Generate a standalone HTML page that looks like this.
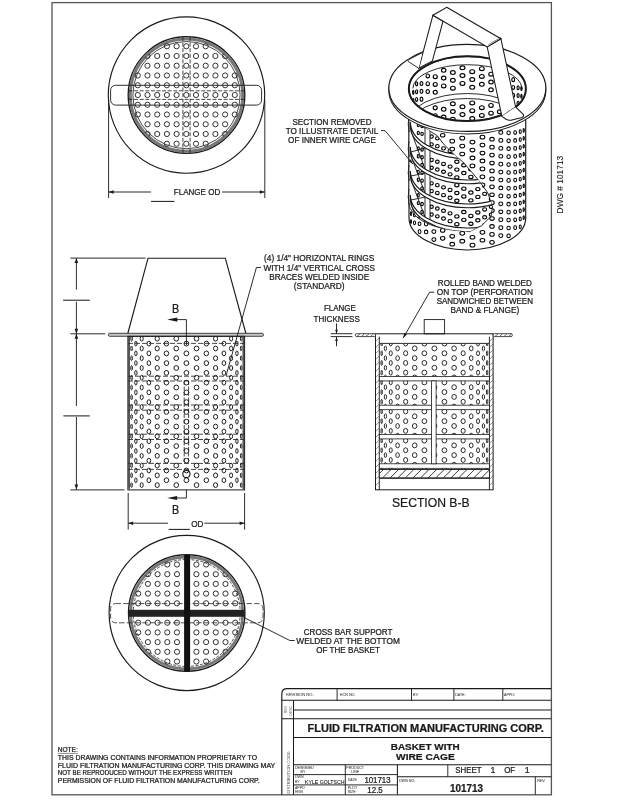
<!DOCTYPE html>
<html><head><meta charset="utf-8"><title>Basket</title>
<style>html,body{margin:0;padding:0;background:#fff;width:618px;height:800px;overflow:hidden}svg{display:block;will-change:transform}text{font-family:"Liberation Sans",sans-serif}</style>
</head><body><svg width="618" height="800" viewBox="0 0 618 800">
<rect x="52" y="2.6" width="499.4" height="792.2" fill="none" stroke="#555" stroke-width="1.3"/>
<circle cx="186.5" cy="95.1" r="78.2" stroke="#1a1a1a" stroke-width="1.15" fill="none" />
<circle cx="186.5" cy="95.1" r="58.3" stroke="#1a1a1a" stroke-width="1.38" fill="none" />
<circle cx="186.5" cy="95.1" r="56.2" stroke="#777" stroke-width="2.99" fill="none" />
<circle cx="186.5" cy="95.1" r="53.6" stroke="#1a1a1a" stroke-width="0.8" fill="none" />
<clipPath id="tvclip"><circle cx="186.5" cy="95.1" r="56"/></clipPath>
<circle cx="137.8" cy="75.5" r="2.6" stroke="#262626" stroke-width="0.94" fill="none" clip-path="url(#tvclip)"/>
<circle cx="137.8" cy="85.25" r="2.6" stroke="#262626" stroke-width="0.94" fill="none" clip-path="url(#tvclip)"/>
<circle cx="137.8" cy="95" r="2.6" stroke="#262626" stroke-width="0.94" fill="none" clip-path="url(#tvclip)"/>
<circle cx="137.8" cy="104.75" r="2.6" stroke="#262626" stroke-width="0.94" fill="none" clip-path="url(#tvclip)"/>
<circle cx="137.8" cy="114.5" r="2.6" stroke="#262626" stroke-width="0.94" fill="none" clip-path="url(#tvclip)"/>
<circle cx="147.5" cy="56" r="2.6" stroke="#262626" stroke-width="0.94" fill="none" clip-path="url(#tvclip)"/>
<circle cx="147.5" cy="65.75" r="2.6" stroke="#262626" stroke-width="0.94" fill="none" clip-path="url(#tvclip)"/>
<circle cx="147.5" cy="75.5" r="2.6" stroke="#262626" stroke-width="0.94" fill="none" clip-path="url(#tvclip)"/>
<circle cx="147.5" cy="85.25" r="2.6" stroke="#262626" stroke-width="0.94" fill="none" clip-path="url(#tvclip)"/>
<circle cx="147.5" cy="95" r="2.6" stroke="#262626" stroke-width="0.94" fill="none" clip-path="url(#tvclip)"/>
<circle cx="147.5" cy="104.75" r="2.6" stroke="#262626" stroke-width="0.94" fill="none" clip-path="url(#tvclip)"/>
<circle cx="147.5" cy="114.5" r="2.6" stroke="#262626" stroke-width="0.94" fill="none" clip-path="url(#tvclip)"/>
<circle cx="147.5" cy="124.25" r="2.6" stroke="#262626" stroke-width="0.94" fill="none" clip-path="url(#tvclip)"/>
<circle cx="147.5" cy="134" r="2.6" stroke="#262626" stroke-width="0.94" fill="none" clip-path="url(#tvclip)"/>
<circle cx="157.2" cy="56" r="2.6" stroke="#262626" stroke-width="0.94" fill="none" clip-path="url(#tvclip)"/>
<circle cx="157.2" cy="65.75" r="2.6" stroke="#262626" stroke-width="0.94" fill="none" clip-path="url(#tvclip)"/>
<circle cx="157.2" cy="75.5" r="2.6" stroke="#262626" stroke-width="0.94" fill="none" clip-path="url(#tvclip)"/>
<circle cx="157.2" cy="85.25" r="2.6" stroke="#262626" stroke-width="0.94" fill="none" clip-path="url(#tvclip)"/>
<circle cx="157.2" cy="95" r="2.6" stroke="#262626" stroke-width="0.94" fill="none" clip-path="url(#tvclip)"/>
<circle cx="157.2" cy="104.75" r="2.6" stroke="#262626" stroke-width="0.94" fill="none" clip-path="url(#tvclip)"/>
<circle cx="157.2" cy="114.5" r="2.6" stroke="#262626" stroke-width="0.94" fill="none" clip-path="url(#tvclip)"/>
<circle cx="157.2" cy="124.25" r="2.6" stroke="#262626" stroke-width="0.94" fill="none" clip-path="url(#tvclip)"/>
<circle cx="157.2" cy="134" r="2.6" stroke="#262626" stroke-width="0.94" fill="none" clip-path="url(#tvclip)"/>
<circle cx="166.9" cy="46.25" r="2.6" stroke="#262626" stroke-width="0.94" fill="none" clip-path="url(#tvclip)"/>
<circle cx="166.9" cy="56" r="2.6" stroke="#262626" stroke-width="0.94" fill="none" clip-path="url(#tvclip)"/>
<circle cx="166.9" cy="65.75" r="2.6" stroke="#262626" stroke-width="0.94" fill="none" clip-path="url(#tvclip)"/>
<circle cx="166.9" cy="75.5" r="2.6" stroke="#262626" stroke-width="0.94" fill="none" clip-path="url(#tvclip)"/>
<circle cx="166.9" cy="85.25" r="2.6" stroke="#262626" stroke-width="0.94" fill="none" clip-path="url(#tvclip)"/>
<circle cx="166.9" cy="95" r="2.6" stroke="#262626" stroke-width="0.94" fill="none" clip-path="url(#tvclip)"/>
<circle cx="166.9" cy="104.75" r="2.6" stroke="#262626" stroke-width="0.94" fill="none" clip-path="url(#tvclip)"/>
<circle cx="166.9" cy="114.5" r="2.6" stroke="#262626" stroke-width="0.94" fill="none" clip-path="url(#tvclip)"/>
<circle cx="166.9" cy="124.25" r="2.6" stroke="#262626" stroke-width="0.94" fill="none" clip-path="url(#tvclip)"/>
<circle cx="166.9" cy="134" r="2.6" stroke="#262626" stroke-width="0.94" fill="none" clip-path="url(#tvclip)"/>
<circle cx="166.9" cy="143.75" r="2.6" stroke="#262626" stroke-width="0.94" fill="none" clip-path="url(#tvclip)"/>
<circle cx="176.6" cy="46.25" r="2.6" stroke="#262626" stroke-width="0.94" fill="none" clip-path="url(#tvclip)"/>
<circle cx="176.6" cy="56" r="2.6" stroke="#262626" stroke-width="0.94" fill="none" clip-path="url(#tvclip)"/>
<circle cx="176.6" cy="65.75" r="2.6" stroke="#262626" stroke-width="0.94" fill="none" clip-path="url(#tvclip)"/>
<circle cx="176.6" cy="75.5" r="2.6" stroke="#262626" stroke-width="0.94" fill="none" clip-path="url(#tvclip)"/>
<circle cx="176.6" cy="85.25" r="2.6" stroke="#262626" stroke-width="0.94" fill="none" clip-path="url(#tvclip)"/>
<circle cx="176.6" cy="95" r="2.6" stroke="#262626" stroke-width="0.94" fill="none" clip-path="url(#tvclip)"/>
<circle cx="176.6" cy="104.75" r="2.6" stroke="#262626" stroke-width="0.94" fill="none" clip-path="url(#tvclip)"/>
<circle cx="176.6" cy="114.5" r="2.6" stroke="#262626" stroke-width="0.94" fill="none" clip-path="url(#tvclip)"/>
<circle cx="176.6" cy="124.25" r="2.6" stroke="#262626" stroke-width="0.94" fill="none" clip-path="url(#tvclip)"/>
<circle cx="176.6" cy="134" r="2.6" stroke="#262626" stroke-width="0.94" fill="none" clip-path="url(#tvclip)"/>
<circle cx="176.6" cy="143.75" r="2.6" stroke="#262626" stroke-width="0.94" fill="none" clip-path="url(#tvclip)"/>
<circle cx="186.3" cy="46.25" r="2.6" stroke="#262626" stroke-width="0.94" fill="none" clip-path="url(#tvclip)"/>
<circle cx="186.3" cy="56" r="2.6" stroke="#262626" stroke-width="0.94" fill="none" clip-path="url(#tvclip)"/>
<circle cx="186.3" cy="65.75" r="2.6" stroke="#262626" stroke-width="0.94" fill="none" clip-path="url(#tvclip)"/>
<circle cx="186.3" cy="75.5" r="2.6" stroke="#262626" stroke-width="0.94" fill="none" clip-path="url(#tvclip)"/>
<circle cx="186.3" cy="85.25" r="2.6" stroke="#262626" stroke-width="0.94" fill="none" clip-path="url(#tvclip)"/>
<circle cx="186.3" cy="95" r="2.6" stroke="#262626" stroke-width="0.94" fill="none" clip-path="url(#tvclip)"/>
<circle cx="186.3" cy="104.75" r="2.6" stroke="#262626" stroke-width="0.94" fill="none" clip-path="url(#tvclip)"/>
<circle cx="186.3" cy="114.5" r="2.6" stroke="#262626" stroke-width="0.94" fill="none" clip-path="url(#tvclip)"/>
<circle cx="186.3" cy="124.25" r="2.6" stroke="#262626" stroke-width="0.94" fill="none" clip-path="url(#tvclip)"/>
<circle cx="186.3" cy="134" r="2.6" stroke="#262626" stroke-width="0.94" fill="none" clip-path="url(#tvclip)"/>
<circle cx="186.3" cy="143.75" r="2.6" stroke="#262626" stroke-width="0.94" fill="none" clip-path="url(#tvclip)"/>
<circle cx="196" cy="46.25" r="2.6" stroke="#262626" stroke-width="0.94" fill="none" clip-path="url(#tvclip)"/>
<circle cx="196" cy="56" r="2.6" stroke="#262626" stroke-width="0.94" fill="none" clip-path="url(#tvclip)"/>
<circle cx="196" cy="65.75" r="2.6" stroke="#262626" stroke-width="0.94" fill="none" clip-path="url(#tvclip)"/>
<circle cx="196" cy="75.5" r="2.6" stroke="#262626" stroke-width="0.94" fill="none" clip-path="url(#tvclip)"/>
<circle cx="196" cy="85.25" r="2.6" stroke="#262626" stroke-width="0.94" fill="none" clip-path="url(#tvclip)"/>
<circle cx="196" cy="95" r="2.6" stroke="#262626" stroke-width="0.94" fill="none" clip-path="url(#tvclip)"/>
<circle cx="196" cy="104.75" r="2.6" stroke="#262626" stroke-width="0.94" fill="none" clip-path="url(#tvclip)"/>
<circle cx="196" cy="114.5" r="2.6" stroke="#262626" stroke-width="0.94" fill="none" clip-path="url(#tvclip)"/>
<circle cx="196" cy="124.25" r="2.6" stroke="#262626" stroke-width="0.94" fill="none" clip-path="url(#tvclip)"/>
<circle cx="196" cy="134" r="2.6" stroke="#262626" stroke-width="0.94" fill="none" clip-path="url(#tvclip)"/>
<circle cx="196" cy="143.75" r="2.6" stroke="#262626" stroke-width="0.94" fill="none" clip-path="url(#tvclip)"/>
<circle cx="205.7" cy="46.25" r="2.6" stroke="#262626" stroke-width="0.94" fill="none" clip-path="url(#tvclip)"/>
<circle cx="205.7" cy="56" r="2.6" stroke="#262626" stroke-width="0.94" fill="none" clip-path="url(#tvclip)"/>
<circle cx="205.7" cy="65.75" r="2.6" stroke="#262626" stroke-width="0.94" fill="none" clip-path="url(#tvclip)"/>
<circle cx="205.7" cy="75.5" r="2.6" stroke="#262626" stroke-width="0.94" fill="none" clip-path="url(#tvclip)"/>
<circle cx="205.7" cy="85.25" r="2.6" stroke="#262626" stroke-width="0.94" fill="none" clip-path="url(#tvclip)"/>
<circle cx="205.7" cy="95" r="2.6" stroke="#262626" stroke-width="0.94" fill="none" clip-path="url(#tvclip)"/>
<circle cx="205.7" cy="104.75" r="2.6" stroke="#262626" stroke-width="0.94" fill="none" clip-path="url(#tvclip)"/>
<circle cx="205.7" cy="114.5" r="2.6" stroke="#262626" stroke-width="0.94" fill="none" clip-path="url(#tvclip)"/>
<circle cx="205.7" cy="124.25" r="2.6" stroke="#262626" stroke-width="0.94" fill="none" clip-path="url(#tvclip)"/>
<circle cx="205.7" cy="134" r="2.6" stroke="#262626" stroke-width="0.94" fill="none" clip-path="url(#tvclip)"/>
<circle cx="205.7" cy="143.75" r="2.6" stroke="#262626" stroke-width="0.94" fill="none" clip-path="url(#tvclip)"/>
<circle cx="215.4" cy="56" r="2.6" stroke="#262626" stroke-width="0.94" fill="none" clip-path="url(#tvclip)"/>
<circle cx="215.4" cy="65.75" r="2.6" stroke="#262626" stroke-width="0.94" fill="none" clip-path="url(#tvclip)"/>
<circle cx="215.4" cy="75.5" r="2.6" stroke="#262626" stroke-width="0.94" fill="none" clip-path="url(#tvclip)"/>
<circle cx="215.4" cy="85.25" r="2.6" stroke="#262626" stroke-width="0.94" fill="none" clip-path="url(#tvclip)"/>
<circle cx="215.4" cy="95" r="2.6" stroke="#262626" stroke-width="0.94" fill="none" clip-path="url(#tvclip)"/>
<circle cx="215.4" cy="104.75" r="2.6" stroke="#262626" stroke-width="0.94" fill="none" clip-path="url(#tvclip)"/>
<circle cx="215.4" cy="114.5" r="2.6" stroke="#262626" stroke-width="0.94" fill="none" clip-path="url(#tvclip)"/>
<circle cx="215.4" cy="124.25" r="2.6" stroke="#262626" stroke-width="0.94" fill="none" clip-path="url(#tvclip)"/>
<circle cx="215.4" cy="134" r="2.6" stroke="#262626" stroke-width="0.94" fill="none" clip-path="url(#tvclip)"/>
<circle cx="225.1" cy="56" r="2.6" stroke="#262626" stroke-width="0.94" fill="none" clip-path="url(#tvclip)"/>
<circle cx="225.1" cy="65.75" r="2.6" stroke="#262626" stroke-width="0.94" fill="none" clip-path="url(#tvclip)"/>
<circle cx="225.1" cy="75.5" r="2.6" stroke="#262626" stroke-width="0.94" fill="none" clip-path="url(#tvclip)"/>
<circle cx="225.1" cy="85.25" r="2.6" stroke="#262626" stroke-width="0.94" fill="none" clip-path="url(#tvclip)"/>
<circle cx="225.1" cy="95" r="2.6" stroke="#262626" stroke-width="0.94" fill="none" clip-path="url(#tvclip)"/>
<circle cx="225.1" cy="104.75" r="2.6" stroke="#262626" stroke-width="0.94" fill="none" clip-path="url(#tvclip)"/>
<circle cx="225.1" cy="114.5" r="2.6" stroke="#262626" stroke-width="0.94" fill="none" clip-path="url(#tvclip)"/>
<circle cx="225.1" cy="124.25" r="2.6" stroke="#262626" stroke-width="0.94" fill="none" clip-path="url(#tvclip)"/>
<circle cx="225.1" cy="134" r="2.6" stroke="#262626" stroke-width="0.94" fill="none" clip-path="url(#tvclip)"/>
<circle cx="234.8" cy="75.5" r="2.6" stroke="#262626" stroke-width="0.94" fill="none" clip-path="url(#tvclip)"/>
<circle cx="234.8" cy="85.25" r="2.6" stroke="#262626" stroke-width="0.94" fill="none" clip-path="url(#tvclip)"/>
<circle cx="234.8" cy="95" r="2.6" stroke="#262626" stroke-width="0.94" fill="none" clip-path="url(#tvclip)"/>
<circle cx="234.8" cy="104.75" r="2.6" stroke="#262626" stroke-width="0.94" fill="none" clip-path="url(#tvclip)"/>
<circle cx="234.8" cy="114.5" r="2.6" stroke="#262626" stroke-width="0.94" fill="none" clip-path="url(#tvclip)"/>
<line x1="182.9" y1="37" x2="182.9" y2="153" stroke="#1a1a1a" stroke-width="0.8" stroke-dasharray="4,1.6"/>
<line x1="190.1" y1="37" x2="190.1" y2="153" stroke="#1a1a1a" stroke-width="0.8" stroke-dasharray="4,1.6"/>
<line x1="128.5" y1="90.8" x2="245" y2="90.8" stroke="#1a1a1a" stroke-width="0.8" stroke-dasharray="4,1.6"/>
<line x1="128.5" y1="99.4" x2="245" y2="99.4" stroke="#1a1a1a" stroke-width="0.8" stroke-dasharray="4,1.6"/>
<rect x="110.6" y="85.3" width="151" height="19.8" rx="5" fill="none" stroke="#1a1a1a" stroke-width="0.9"/>
<line x1="108.6" y1="100" x2="108.6" y2="198" stroke="#1a1a1a" stroke-width="0.92" />
<line x1="264.8" y1="100" x2="264.8" y2="198" stroke="#1a1a1a" stroke-width="0.92" />
<line x1="108.6" y1="192" x2="151" y2="192" stroke="#1a1a1a" stroke-width="0.92" />
<line x1="222" y1="192" x2="264.8" y2="192" stroke="#1a1a1a" stroke-width="0.92" />
<polygon points="108.6,192 113.6,190.2 113.6,193.8" fill="#1a1a1a"/>
<polygon points="264.8,192 259.8,193.8 259.8,190.2" fill="#1a1a1a"/>
<line x1="151" y1="201.4" x2="174.3" y2="201.4" stroke="#1a1a1a" stroke-width="1.03" />
<text x="173.8" y="195" font-size="8.6" text-anchor="start" font-weight="normal" fill="#1a1a1a" textLength="46.5" lengthAdjust="spacingAndGlyphs"  stroke="#1a1a1a" stroke-width="0.24">FLANGE OD</text>
<path d="M409,90 L409,218 A58.35,32 0 0 0 525.7,218 L525.7,90 Z" stroke="#1a1a1a" stroke-width="1.15" fill="#fff" />
<ellipse cx="410.99" cy="213.67" rx="0.63" ry="1.85" stroke="#000" stroke-width="1.03" fill="none" />
<ellipse cx="410.99" cy="221.6" rx="0.63" ry="1.85" stroke="#000" stroke-width="1.03" fill="none" />
<ellipse cx="414.47" cy="214.94" rx="1.04" ry="1.85" stroke="#000" stroke-width="1.03" fill="none" />
<ellipse cx="414.47" cy="222.87" rx="1.04" ry="1.85" stroke="#000" stroke-width="1.03" fill="none" />
<ellipse cx="419.55" cy="223.74" rx="1.41" ry="1.85" stroke="#000" stroke-width="1.03" fill="none" />
<ellipse cx="419.55" cy="231.67" rx="1.41" ry="1.85" stroke="#000" stroke-width="1.03" fill="none" />
<ellipse cx="426.09" cy="224.05" rx="1.73" ry="1.85" stroke="#000" stroke-width="1.03" fill="none" />
<ellipse cx="426.09" cy="231.98" rx="1.73" ry="1.85" stroke="#000" stroke-width="1.03" fill="none" />
<ellipse cx="433.88" cy="231.6" rx="2.01" ry="1.85" stroke="#000" stroke-width="1.03" fill="none" />
<ellipse cx="433.88" cy="239.53" rx="2.01" ry="1.85" stroke="#000" stroke-width="1.03" fill="none" />
<ellipse cx="442.69" cy="135.26" rx="2.22" ry="1.85" stroke="#000" stroke-width="1.03" fill="none" />
<ellipse cx="442.69" cy="230.42" rx="2.22" ry="1.85" stroke="#000" stroke-width="1.03" fill="none" />
<ellipse cx="442.69" cy="238.35" rx="2.22" ry="1.85" stroke="#000" stroke-width="1.03" fill="none" />
<ellipse cx="452.25" cy="141.13" rx="2.37" ry="1.85" stroke="#000" stroke-width="1.03" fill="none" />
<ellipse cx="452.25" cy="149.06" rx="2.37" ry="1.85" stroke="#000" stroke-width="1.03" fill="none" />
<ellipse cx="452.25" cy="236.29" rx="2.37" ry="1.85" stroke="#000" stroke-width="1.03" fill="none" />
<ellipse cx="452.25" cy="244.22" rx="2.37" ry="1.85" stroke="#000" stroke-width="1.03" fill="none" />
<ellipse cx="462.26" cy="138.14" rx="2.44" ry="1.85" stroke="#000" stroke-width="1.03" fill="none" />
<ellipse cx="462.26" cy="146.07" rx="2.44" ry="1.85" stroke="#000" stroke-width="1.03" fill="none" />
<ellipse cx="462.26" cy="154" rx="2.44" ry="1.85" stroke="#000" stroke-width="1.03" fill="none" />
<ellipse cx="462.26" cy="233.3" rx="2.44" ry="1.85" stroke="#000" stroke-width="1.03" fill="none" />
<ellipse cx="462.26" cy="241.23" rx="2.44" ry="1.85" stroke="#000" stroke-width="1.03" fill="none" />
<ellipse cx="472.44" cy="142.1" rx="2.44" ry="1.85" stroke="#000" stroke-width="1.03" fill="none" />
<ellipse cx="472.44" cy="150.03" rx="2.44" ry="1.85" stroke="#000" stroke-width="1.03" fill="none" />
<ellipse cx="472.44" cy="157.96" rx="2.44" ry="1.85" stroke="#000" stroke-width="1.03" fill="none" />
<ellipse cx="472.44" cy="165.89" rx="2.44" ry="1.85" stroke="#000" stroke-width="1.03" fill="none" />
<ellipse cx="472.44" cy="237.26" rx="2.44" ry="1.85" stroke="#000" stroke-width="1.03" fill="none" />
<ellipse cx="472.44" cy="245.19" rx="2.44" ry="1.85" stroke="#000" stroke-width="1.03" fill="none" />
<ellipse cx="482.45" cy="137.17" rx="2.37" ry="1.85" stroke="#000" stroke-width="1.03" fill="none" />
<ellipse cx="482.45" cy="145.1" rx="2.37" ry="1.85" stroke="#000" stroke-width="1.03" fill="none" />
<ellipse cx="482.45" cy="153.03" rx="2.37" ry="1.85" stroke="#000" stroke-width="1.03" fill="none" />
<ellipse cx="482.45" cy="160.96" rx="2.37" ry="1.85" stroke="#000" stroke-width="1.03" fill="none" />
<ellipse cx="482.45" cy="168.89" rx="2.37" ry="1.85" stroke="#000" stroke-width="1.03" fill="none" />
<ellipse cx="482.45" cy="176.82" rx="2.37" ry="1.85" stroke="#000" stroke-width="1.03" fill="none" />
<ellipse cx="482.45" cy="184.75" rx="2.37" ry="1.85" stroke="#000" stroke-width="1.03" fill="none" />
<ellipse cx="482.45" cy="232.33" rx="2.37" ry="1.85" stroke="#000" stroke-width="1.03" fill="none" />
<ellipse cx="482.45" cy="240.26" rx="2.37" ry="1.85" stroke="#000" stroke-width="1.03" fill="none" />
<ellipse cx="492.01" cy="139.23" rx="2.22" ry="1.85" stroke="#000" stroke-width="1.03" fill="none" />
<ellipse cx="492.01" cy="147.16" rx="2.22" ry="1.85" stroke="#000" stroke-width="1.03" fill="none" />
<ellipse cx="492.01" cy="155.09" rx="2.22" ry="1.85" stroke="#000" stroke-width="1.03" fill="none" />
<ellipse cx="492.01" cy="163.02" rx="2.22" ry="1.85" stroke="#000" stroke-width="1.03" fill="none" />
<ellipse cx="492.01" cy="170.95" rx="2.22" ry="1.85" stroke="#000" stroke-width="1.03" fill="none" />
<ellipse cx="492.01" cy="178.88" rx="2.22" ry="1.85" stroke="#000" stroke-width="1.03" fill="none" />
<ellipse cx="492.01" cy="186.81" rx="2.22" ry="1.85" stroke="#000" stroke-width="1.03" fill="none" />
<ellipse cx="492.01" cy="194.74" rx="2.22" ry="1.85" stroke="#000" stroke-width="1.03" fill="none" />
<ellipse cx="492.01" cy="202.67" rx="2.22" ry="1.85" stroke="#000" stroke-width="1.03" fill="none" />
<ellipse cx="492.01" cy="210.6" rx="2.22" ry="1.85" stroke="#000" stroke-width="1.03" fill="none" />
<ellipse cx="492.01" cy="218.53" rx="2.22" ry="1.85" stroke="#000" stroke-width="1.03" fill="none" />
<ellipse cx="492.01" cy="226.46" rx="2.22" ry="1.85" stroke="#000" stroke-width="1.03" fill="none" />
<ellipse cx="492.01" cy="234.39" rx="2.22" ry="1.85" stroke="#000" stroke-width="1.03" fill="none" />
<ellipse cx="492.01" cy="242.32" rx="2.22" ry="1.85" stroke="#000" stroke-width="1.03" fill="none" />
<ellipse cx="500.82" cy="132.47" rx="2.01" ry="1.85" stroke="#000" stroke-width="1.03" fill="none" />
<ellipse cx="500.82" cy="140.4" rx="2.01" ry="1.85" stroke="#000" stroke-width="1.03" fill="none" />
<ellipse cx="500.82" cy="148.33" rx="2.01" ry="1.85" stroke="#000" stroke-width="1.03" fill="none" />
<ellipse cx="500.82" cy="156.26" rx="2.01" ry="1.85" stroke="#000" stroke-width="1.03" fill="none" />
<ellipse cx="500.82" cy="164.19" rx="2.01" ry="1.85" stroke="#000" stroke-width="1.03" fill="none" />
<ellipse cx="500.82" cy="172.12" rx="2.01" ry="1.85" stroke="#000" stroke-width="1.03" fill="none" />
<ellipse cx="500.82" cy="180.05" rx="2.01" ry="1.85" stroke="#000" stroke-width="1.03" fill="none" />
<ellipse cx="500.82" cy="187.98" rx="2.01" ry="1.85" stroke="#000" stroke-width="1.03" fill="none" />
<ellipse cx="500.82" cy="195.91" rx="2.01" ry="1.85" stroke="#000" stroke-width="1.03" fill="none" />
<ellipse cx="500.82" cy="203.84" rx="2.01" ry="1.85" stroke="#000" stroke-width="1.03" fill="none" />
<ellipse cx="500.82" cy="211.77" rx="2.01" ry="1.85" stroke="#000" stroke-width="1.03" fill="none" />
<ellipse cx="500.82" cy="219.7" rx="2.01" ry="1.85" stroke="#000" stroke-width="1.03" fill="none" />
<ellipse cx="500.82" cy="227.63" rx="2.01" ry="1.85" stroke="#000" stroke-width="1.03" fill="none" />
<ellipse cx="500.82" cy="235.56" rx="2.01" ry="1.85" stroke="#000" stroke-width="1.03" fill="none" />
<ellipse cx="508.61" cy="132.85" rx="1.73" ry="1.85" stroke="#000" stroke-width="1.03" fill="none" />
<ellipse cx="508.61" cy="140.78" rx="1.73" ry="1.85" stroke="#000" stroke-width="1.03" fill="none" />
<ellipse cx="508.61" cy="148.71" rx="1.73" ry="1.85" stroke="#000" stroke-width="1.03" fill="none" />
<ellipse cx="508.61" cy="156.64" rx="1.73" ry="1.85" stroke="#000" stroke-width="1.03" fill="none" />
<ellipse cx="508.61" cy="164.57" rx="1.73" ry="1.85" stroke="#000" stroke-width="1.03" fill="none" />
<ellipse cx="508.61" cy="172.5" rx="1.73" ry="1.85" stroke="#000" stroke-width="1.03" fill="none" />
<ellipse cx="508.61" cy="180.43" rx="1.73" ry="1.85" stroke="#000" stroke-width="1.03" fill="none" />
<ellipse cx="508.61" cy="188.36" rx="1.73" ry="1.85" stroke="#000" stroke-width="1.03" fill="none" />
<ellipse cx="508.61" cy="196.29" rx="1.73" ry="1.85" stroke="#000" stroke-width="1.03" fill="none" />
<ellipse cx="508.61" cy="204.22" rx="1.73" ry="1.85" stroke="#000" stroke-width="1.03" fill="none" />
<ellipse cx="508.61" cy="212.15" rx="1.73" ry="1.85" stroke="#000" stroke-width="1.03" fill="none" />
<ellipse cx="508.61" cy="220.08" rx="1.73" ry="1.85" stroke="#000" stroke-width="1.03" fill="none" />
<ellipse cx="508.61" cy="228.01" rx="1.73" ry="1.85" stroke="#000" stroke-width="1.03" fill="none" />
<ellipse cx="508.61" cy="235.94" rx="1.73" ry="1.85" stroke="#000" stroke-width="1.03" fill="none" />
<ellipse cx="515.15" cy="132.54" rx="1.41" ry="1.85" stroke="#000" stroke-width="1.03" fill="none" />
<ellipse cx="515.15" cy="140.47" rx="1.41" ry="1.85" stroke="#000" stroke-width="1.03" fill="none" />
<ellipse cx="515.15" cy="148.4" rx="1.41" ry="1.85" stroke="#000" stroke-width="1.03" fill="none" />
<ellipse cx="515.15" cy="156.33" rx="1.41" ry="1.85" stroke="#000" stroke-width="1.03" fill="none" />
<ellipse cx="515.15" cy="164.26" rx="1.41" ry="1.85" stroke="#000" stroke-width="1.03" fill="none" />
<ellipse cx="515.15" cy="172.19" rx="1.41" ry="1.85" stroke="#000" stroke-width="1.03" fill="none" />
<ellipse cx="515.15" cy="180.12" rx="1.41" ry="1.85" stroke="#000" stroke-width="1.03" fill="none" />
<ellipse cx="515.15" cy="188.05" rx="1.41" ry="1.85" stroke="#000" stroke-width="1.03" fill="none" />
<ellipse cx="515.15" cy="195.98" rx="1.41" ry="1.85" stroke="#000" stroke-width="1.03" fill="none" />
<ellipse cx="515.15" cy="203.91" rx="1.41" ry="1.85" stroke="#000" stroke-width="1.03" fill="none" />
<ellipse cx="515.15" cy="211.84" rx="1.41" ry="1.85" stroke="#000" stroke-width="1.03" fill="none" />
<ellipse cx="515.15" cy="219.77" rx="1.41" ry="1.85" stroke="#000" stroke-width="1.03" fill="none" />
<ellipse cx="515.15" cy="227.7" rx="1.41" ry="1.85" stroke="#000" stroke-width="1.03" fill="none" />
<ellipse cx="520.23" cy="131.68" rx="1.04" ry="1.85" stroke="#000" stroke-width="1.03" fill="none" />
<ellipse cx="520.23" cy="139.61" rx="1.04" ry="1.85" stroke="#000" stroke-width="1.03" fill="none" />
<ellipse cx="520.23" cy="147.54" rx="1.04" ry="1.85" stroke="#000" stroke-width="1.03" fill="none" />
<ellipse cx="520.23" cy="155.47" rx="1.04" ry="1.85" stroke="#000" stroke-width="1.03" fill="none" />
<ellipse cx="520.23" cy="163.4" rx="1.04" ry="1.85" stroke="#000" stroke-width="1.03" fill="none" />
<ellipse cx="520.23" cy="171.33" rx="1.04" ry="1.85" stroke="#000" stroke-width="1.03" fill="none" />
<ellipse cx="520.23" cy="179.26" rx="1.04" ry="1.85" stroke="#000" stroke-width="1.03" fill="none" />
<ellipse cx="520.23" cy="187.19" rx="1.04" ry="1.85" stroke="#000" stroke-width="1.03" fill="none" />
<ellipse cx="520.23" cy="195.12" rx="1.04" ry="1.85" stroke="#000" stroke-width="1.03" fill="none" />
<ellipse cx="520.23" cy="203.05" rx="1.04" ry="1.85" stroke="#000" stroke-width="1.03" fill="none" />
<ellipse cx="520.23" cy="210.98" rx="1.04" ry="1.85" stroke="#000" stroke-width="1.03" fill="none" />
<ellipse cx="520.23" cy="218.91" rx="1.04" ry="1.85" stroke="#000" stroke-width="1.03" fill="none" />
<ellipse cx="520.23" cy="226.84" rx="1.04" ry="1.85" stroke="#000" stroke-width="1.03" fill="none" />
<ellipse cx="523.71" cy="130.4" rx="0.63" ry="1.85" stroke="#000" stroke-width="1.03" fill="none" />
<ellipse cx="523.71" cy="138.33" rx="0.63" ry="1.85" stroke="#000" stroke-width="1.03" fill="none" />
<ellipse cx="523.71" cy="146.26" rx="0.63" ry="1.85" stroke="#000" stroke-width="1.03" fill="none" />
<ellipse cx="523.71" cy="154.19" rx="0.63" ry="1.85" stroke="#000" stroke-width="1.03" fill="none" />
<ellipse cx="523.71" cy="162.12" rx="0.63" ry="1.85" stroke="#000" stroke-width="1.03" fill="none" />
<ellipse cx="523.71" cy="170.05" rx="0.63" ry="1.85" stroke="#000" stroke-width="1.03" fill="none" />
<ellipse cx="523.71" cy="177.98" rx="0.63" ry="1.85" stroke="#000" stroke-width="1.03" fill="none" />
<ellipse cx="523.71" cy="185.91" rx="0.63" ry="1.85" stroke="#000" stroke-width="1.03" fill="none" />
<ellipse cx="523.71" cy="193.84" rx="0.63" ry="1.85" stroke="#000" stroke-width="1.03" fill="none" />
<ellipse cx="523.71" cy="201.77" rx="0.63" ry="1.85" stroke="#000" stroke-width="1.03" fill="none" />
<ellipse cx="523.71" cy="209.7" rx="0.63" ry="1.85" stroke="#000" stroke-width="1.03" fill="none" />
<ellipse cx="523.71" cy="217.63" rx="0.63" ry="1.85" stroke="#000" stroke-width="1.03" fill="none" />
<polygon points="409,118 437,135.5 444.4,144.9 455.3,155.7 463,162 472.3,172.8 480,182 487.9,193 492.5,207 491,216.3 481.7,225.6 469.2,231.8 466,230.99 462,230.88 458,230.64 454,230.26 450,229.73 446,229.06 442,228.22 438,227.2 434,225.98 430,224.51 426,222.76 422,220.62 418,217.94 414,214.34 410,208.16 408.8,203" stroke="#1a1a1a" stroke-width="0.92" fill="#fff" />
<clipPath id="cutclip"><polygon points="409,118 437,135.5 444.4,144.9 455.3,155.7 463,162 472.3,172.8 480,182 487.9,193 492.5,207 491,216.3 481.7,225.6 469.2,231.8 466,230.99 462,230.88 458,230.64 454,230.26 450,229.73 446,229.06 442,228.22 438,227.2 434,225.98 430,224.51 426,222.76 422,220.62 418,217.94 414,214.34 410,208.16 408.8,203"/></clipPath>
<g clip-path="url(#cutclip)">
<ellipse cx="418.28" cy="39.31" rx="1.04" ry="1.65" stroke="#000" stroke-width="1.09" fill="none" />
<ellipse cx="418.28" cy="47.11" rx="1.04" ry="1.65" stroke="#000" stroke-width="1.09" fill="none" />
<ellipse cx="418.28" cy="54.91" rx="1.04" ry="1.65" stroke="#000" stroke-width="1.09" fill="none" />
<ellipse cx="418.28" cy="62.71" rx="1.04" ry="1.65" stroke="#000" stroke-width="1.09" fill="none" />
<ellipse cx="418.28" cy="70.51" rx="1.04" ry="1.65" stroke="#000" stroke-width="1.09" fill="none" />
<ellipse cx="418.28" cy="78.31" rx="1.04" ry="1.65" stroke="#000" stroke-width="1.09" fill="none" />
<ellipse cx="418.28" cy="86.11" rx="1.04" ry="1.65" stroke="#000" stroke-width="1.09" fill="none" />
<ellipse cx="418.28" cy="93.91" rx="1.04" ry="1.65" stroke="#000" stroke-width="1.09" fill="none" />
<ellipse cx="418.28" cy="101.71" rx="1.04" ry="1.65" stroke="#000" stroke-width="1.09" fill="none" />
<ellipse cx="418.28" cy="109.51" rx="1.04" ry="1.65" stroke="#000" stroke-width="1.09" fill="none" />
<ellipse cx="418.28" cy="117.31" rx="1.04" ry="1.65" stroke="#000" stroke-width="1.09" fill="none" />
<ellipse cx="418.28" cy="125.11" rx="1.04" ry="1.65" stroke="#000" stroke-width="1.09" fill="none" />
<ellipse cx="418.28" cy="132.91" rx="1.04" ry="1.65" stroke="#000" stroke-width="1.09" fill="none" />
<ellipse cx="418.28" cy="148.51" rx="1.04" ry="1.65" stroke="#000" stroke-width="1.09" fill="none" />
<ellipse cx="418.28" cy="156.31" rx="1.04" ry="1.65" stroke="#000" stroke-width="1.09" fill="none" />
<ellipse cx="418.28" cy="171.91" rx="1.04" ry="1.65" stroke="#000" stroke-width="1.09" fill="none" />
<ellipse cx="418.28" cy="179.71" rx="1.04" ry="1.65" stroke="#000" stroke-width="1.09" fill="none" />
<ellipse cx="418.28" cy="195.31" rx="1.04" ry="1.65" stroke="#000" stroke-width="1.09" fill="none" />
<ellipse cx="418.28" cy="203.11" rx="1.04" ry="1.65" stroke="#000" stroke-width="1.09" fill="none" />
<ellipse cx="418.28" cy="218.71" rx="1.04" ry="1.65" stroke="#000" stroke-width="1.09" fill="none" />
<ellipse cx="418.28" cy="226.51" rx="1.04" ry="1.65" stroke="#000" stroke-width="1.09" fill="none" />
<ellipse cx="418.28" cy="234.31" rx="1.04" ry="1.65" stroke="#000" stroke-width="1.09" fill="none" />
<ellipse cx="418.28" cy="242.11" rx="1.04" ry="1.65" stroke="#000" stroke-width="1.09" fill="none" />
<ellipse cx="418.28" cy="249.91" rx="1.04" ry="1.65" stroke="#000" stroke-width="1.09" fill="none" />
<ellipse cx="418.28" cy="257.71" rx="1.04" ry="1.65" stroke="#000" stroke-width="1.09" fill="none" />
<ellipse cx="418.28" cy="265.51" rx="1.04" ry="1.65" stroke="#000" stroke-width="1.09" fill="none" />
<ellipse cx="422.05" cy="32.44" rx="1.27" ry="1.65" stroke="#000" stroke-width="1.09" fill="none" />
<ellipse cx="422.05" cy="40.24" rx="1.27" ry="1.65" stroke="#000" stroke-width="1.09" fill="none" />
<ellipse cx="422.05" cy="48.04" rx="1.27" ry="1.65" stroke="#000" stroke-width="1.09" fill="none" />
<ellipse cx="422.05" cy="55.84" rx="1.27" ry="1.65" stroke="#000" stroke-width="1.09" fill="none" />
<ellipse cx="422.05" cy="63.64" rx="1.27" ry="1.65" stroke="#000" stroke-width="1.09" fill="none" />
<ellipse cx="422.05" cy="71.44" rx="1.27" ry="1.65" stroke="#000" stroke-width="1.09" fill="none" />
<ellipse cx="422.05" cy="79.24" rx="1.27" ry="1.65" stroke="#000" stroke-width="1.09" fill="none" />
<ellipse cx="422.05" cy="87.04" rx="1.27" ry="1.65" stroke="#000" stroke-width="1.09" fill="none" />
<ellipse cx="422.05" cy="94.84" rx="1.27" ry="1.65" stroke="#000" stroke-width="1.09" fill="none" />
<ellipse cx="422.05" cy="102.64" rx="1.27" ry="1.65" stroke="#000" stroke-width="1.09" fill="none" />
<ellipse cx="422.05" cy="110.44" rx="1.27" ry="1.65" stroke="#000" stroke-width="1.09" fill="none" />
<ellipse cx="422.05" cy="118.24" rx="1.27" ry="1.65" stroke="#000" stroke-width="1.09" fill="none" />
<ellipse cx="422.05" cy="126.04" rx="1.27" ry="1.65" stroke="#000" stroke-width="1.09" fill="none" />
<ellipse cx="422.05" cy="133.84" rx="1.27" ry="1.65" stroke="#000" stroke-width="1.09" fill="none" />
<ellipse cx="422.05" cy="149.44" rx="1.27" ry="1.65" stroke="#000" stroke-width="1.09" fill="none" />
<ellipse cx="422.05" cy="157.24" rx="1.27" ry="1.65" stroke="#000" stroke-width="1.09" fill="none" />
<ellipse cx="422.05" cy="165.04" rx="1.27" ry="1.65" stroke="#000" stroke-width="1.09" fill="none" />
<ellipse cx="422.05" cy="172.84" rx="1.27" ry="1.65" stroke="#000" stroke-width="1.09" fill="none" />
<ellipse cx="422.05" cy="180.64" rx="1.27" ry="1.65" stroke="#000" stroke-width="1.09" fill="none" />
<ellipse cx="422.05" cy="188.44" rx="1.27" ry="1.65" stroke="#000" stroke-width="1.09" fill="none" />
<ellipse cx="422.05" cy="204.04" rx="1.27" ry="1.65" stroke="#000" stroke-width="1.09" fill="none" />
<ellipse cx="422.05" cy="211.84" rx="1.27" ry="1.65" stroke="#000" stroke-width="1.09" fill="none" />
<ellipse cx="422.05" cy="227.44" rx="1.27" ry="1.65" stroke="#000" stroke-width="1.09" fill="none" />
<ellipse cx="422.05" cy="235.24" rx="1.27" ry="1.65" stroke="#000" stroke-width="1.09" fill="none" />
<ellipse cx="422.05" cy="243.04" rx="1.27" ry="1.65" stroke="#000" stroke-width="1.09" fill="none" />
<ellipse cx="422.05" cy="250.84" rx="1.27" ry="1.65" stroke="#000" stroke-width="1.09" fill="none" />
<ellipse cx="422.05" cy="258.64" rx="1.27" ry="1.65" stroke="#000" stroke-width="1.09" fill="none" />
<ellipse cx="431.65" cy="27.33" rx="1.66" ry="1.65" stroke="#000" stroke-width="1.09" fill="none" />
<ellipse cx="431.65" cy="35.13" rx="1.66" ry="1.65" stroke="#000" stroke-width="1.09" fill="none" />
<ellipse cx="431.65" cy="42.93" rx="1.66" ry="1.65" stroke="#000" stroke-width="1.09" fill="none" />
<ellipse cx="431.65" cy="50.73" rx="1.66" ry="1.65" stroke="#000" stroke-width="1.09" fill="none" />
<ellipse cx="431.65" cy="58.53" rx="1.66" ry="1.65" stroke="#000" stroke-width="1.09" fill="none" />
<ellipse cx="431.65" cy="66.33" rx="1.66" ry="1.65" stroke="#000" stroke-width="1.09" fill="none" />
<ellipse cx="431.65" cy="74.13" rx="1.66" ry="1.65" stroke="#000" stroke-width="1.09" fill="none" />
<ellipse cx="431.65" cy="81.93" rx="1.66" ry="1.65" stroke="#000" stroke-width="1.09" fill="none" />
<ellipse cx="431.65" cy="89.73" rx="1.66" ry="1.65" stroke="#000" stroke-width="1.09" fill="none" />
<ellipse cx="431.65" cy="97.53" rx="1.66" ry="1.65" stroke="#000" stroke-width="1.09" fill="none" />
<ellipse cx="431.65" cy="105.33" rx="1.66" ry="1.65" stroke="#000" stroke-width="1.09" fill="none" />
<ellipse cx="431.65" cy="113.13" rx="1.66" ry="1.65" stroke="#000" stroke-width="1.09" fill="none" />
<ellipse cx="431.65" cy="120.93" rx="1.66" ry="1.65" stroke="#000" stroke-width="1.09" fill="none" />
<ellipse cx="431.65" cy="128.73" rx="1.66" ry="1.65" stroke="#000" stroke-width="1.09" fill="none" />
<ellipse cx="431.65" cy="136.53" rx="1.66" ry="1.65" stroke="#000" stroke-width="1.09" fill="none" />
<ellipse cx="431.65" cy="144.33" rx="1.66" ry="1.65" stroke="#000" stroke-width="1.09" fill="none" />
<ellipse cx="431.65" cy="159.93" rx="1.66" ry="1.65" stroke="#000" stroke-width="1.09" fill="none" />
<ellipse cx="431.65" cy="167.73" rx="1.66" ry="1.65" stroke="#000" stroke-width="1.09" fill="none" />
<ellipse cx="431.65" cy="183.33" rx="1.66" ry="1.65" stroke="#000" stroke-width="1.09" fill="none" />
<ellipse cx="431.65" cy="191.13" rx="1.66" ry="1.65" stroke="#000" stroke-width="1.09" fill="none" />
<ellipse cx="431.65" cy="206.73" rx="1.66" ry="1.65" stroke="#000" stroke-width="1.09" fill="none" />
<ellipse cx="431.65" cy="214.53" rx="1.66" ry="1.65" stroke="#000" stroke-width="1.09" fill="none" />
<ellipse cx="431.65" cy="230.13" rx="1.66" ry="1.65" stroke="#000" stroke-width="1.09" fill="none" />
<ellipse cx="431.65" cy="237.93" rx="1.66" ry="1.65" stroke="#000" stroke-width="1.09" fill="none" />
<ellipse cx="431.65" cy="245.73" rx="1.66" ry="1.65" stroke="#000" stroke-width="1.09" fill="none" />
<ellipse cx="431.65" cy="253.53" rx="1.66" ry="1.65" stroke="#000" stroke-width="1.09" fill="none" />
<ellipse cx="437.34" cy="29.16" rx="1.82" ry="1.65" stroke="#000" stroke-width="1.09" fill="none" />
<ellipse cx="437.34" cy="36.96" rx="1.82" ry="1.65" stroke="#000" stroke-width="1.09" fill="none" />
<ellipse cx="437.34" cy="44.76" rx="1.82" ry="1.65" stroke="#000" stroke-width="1.09" fill="none" />
<ellipse cx="437.34" cy="52.56" rx="1.82" ry="1.65" stroke="#000" stroke-width="1.09" fill="none" />
<ellipse cx="437.34" cy="60.36" rx="1.82" ry="1.65" stroke="#000" stroke-width="1.09" fill="none" />
<ellipse cx="437.34" cy="68.16" rx="1.82" ry="1.65" stroke="#000" stroke-width="1.09" fill="none" />
<ellipse cx="437.34" cy="75.96" rx="1.82" ry="1.65" stroke="#000" stroke-width="1.09" fill="none" />
<ellipse cx="437.34" cy="83.76" rx="1.82" ry="1.65" stroke="#000" stroke-width="1.09" fill="none" />
<ellipse cx="437.34" cy="91.56" rx="1.82" ry="1.65" stroke="#000" stroke-width="1.09" fill="none" />
<ellipse cx="437.34" cy="99.36" rx="1.82" ry="1.65" stroke="#000" stroke-width="1.09" fill="none" />
<ellipse cx="437.34" cy="107.16" rx="1.82" ry="1.65" stroke="#000" stroke-width="1.09" fill="none" />
<ellipse cx="437.34" cy="114.96" rx="1.82" ry="1.65" stroke="#000" stroke-width="1.09" fill="none" />
<ellipse cx="437.34" cy="122.76" rx="1.82" ry="1.65" stroke="#000" stroke-width="1.09" fill="none" />
<ellipse cx="437.34" cy="130.56" rx="1.82" ry="1.65" stroke="#000" stroke-width="1.09" fill="none" />
<ellipse cx="437.34" cy="138.36" rx="1.82" ry="1.65" stroke="#000" stroke-width="1.09" fill="none" />
<ellipse cx="437.34" cy="146.16" rx="1.82" ry="1.65" stroke="#000" stroke-width="1.09" fill="none" />
<ellipse cx="437.34" cy="161.76" rx="1.82" ry="1.65" stroke="#000" stroke-width="1.09" fill="none" />
<ellipse cx="437.34" cy="169.56" rx="1.82" ry="1.65" stroke="#000" stroke-width="1.09" fill="none" />
<ellipse cx="437.34" cy="185.16" rx="1.82" ry="1.65" stroke="#000" stroke-width="1.09" fill="none" />
<ellipse cx="437.34" cy="192.96" rx="1.82" ry="1.65" stroke="#000" stroke-width="1.09" fill="none" />
<ellipse cx="437.34" cy="208.56" rx="1.82" ry="1.65" stroke="#000" stroke-width="1.09" fill="none" />
<ellipse cx="437.34" cy="216.36" rx="1.82" ry="1.65" stroke="#000" stroke-width="1.09" fill="none" />
<ellipse cx="437.34" cy="231.96" rx="1.82" ry="1.65" stroke="#000" stroke-width="1.09" fill="none" />
<ellipse cx="437.34" cy="239.76" rx="1.82" ry="1.65" stroke="#000" stroke-width="1.09" fill="none" />
<ellipse cx="437.34" cy="247.56" rx="1.82" ry="1.65" stroke="#000" stroke-width="1.09" fill="none" />
<ellipse cx="437.34" cy="255.36" rx="1.82" ry="1.65" stroke="#000" stroke-width="1.09" fill="none" />
<ellipse cx="443.51" cy="23.56" rx="1.95" ry="1.65" stroke="#000" stroke-width="1.09" fill="none" />
<ellipse cx="443.51" cy="31.36" rx="1.95" ry="1.65" stroke="#000" stroke-width="1.09" fill="none" />
<ellipse cx="443.51" cy="39.16" rx="1.95" ry="1.65" stroke="#000" stroke-width="1.09" fill="none" />
<ellipse cx="443.51" cy="46.96" rx="1.95" ry="1.65" stroke="#000" stroke-width="1.09" fill="none" />
<ellipse cx="443.51" cy="54.76" rx="1.95" ry="1.65" stroke="#000" stroke-width="1.09" fill="none" />
<ellipse cx="443.51" cy="62.56" rx="1.95" ry="1.65" stroke="#000" stroke-width="1.09" fill="none" />
<ellipse cx="443.51" cy="70.36" rx="1.95" ry="1.65" stroke="#000" stroke-width="1.09" fill="none" />
<ellipse cx="443.51" cy="78.16" rx="1.95" ry="1.65" stroke="#000" stroke-width="1.09" fill="none" />
<ellipse cx="443.51" cy="85.96" rx="1.95" ry="1.65" stroke="#000" stroke-width="1.09" fill="none" />
<ellipse cx="443.51" cy="93.76" rx="1.95" ry="1.65" stroke="#000" stroke-width="1.09" fill="none" />
<ellipse cx="443.51" cy="101.56" rx="1.95" ry="1.65" stroke="#000" stroke-width="1.09" fill="none" />
<ellipse cx="443.51" cy="109.36" rx="1.95" ry="1.65" stroke="#000" stroke-width="1.09" fill="none" />
<ellipse cx="443.51" cy="117.16" rx="1.95" ry="1.65" stroke="#000" stroke-width="1.09" fill="none" />
<ellipse cx="443.51" cy="124.96" rx="1.95" ry="1.65" stroke="#000" stroke-width="1.09" fill="none" />
<ellipse cx="443.51" cy="132.76" rx="1.95" ry="1.65" stroke="#000" stroke-width="1.09" fill="none" />
<ellipse cx="443.51" cy="140.56" rx="1.95" ry="1.65" stroke="#000" stroke-width="1.09" fill="none" />
<ellipse cx="443.51" cy="148.36" rx="1.95" ry="1.65" stroke="#000" stroke-width="1.09" fill="none" />
<ellipse cx="443.51" cy="163.96" rx="1.95" ry="1.65" stroke="#000" stroke-width="1.09" fill="none" />
<ellipse cx="443.51" cy="171.76" rx="1.95" ry="1.65" stroke="#000" stroke-width="1.09" fill="none" />
<ellipse cx="443.51" cy="187.36" rx="1.95" ry="1.65" stroke="#000" stroke-width="1.09" fill="none" />
<ellipse cx="443.51" cy="195.16" rx="1.95" ry="1.65" stroke="#000" stroke-width="1.09" fill="none" />
<ellipse cx="443.51" cy="210.76" rx="1.95" ry="1.65" stroke="#000" stroke-width="1.09" fill="none" />
<ellipse cx="443.51" cy="218.56" rx="1.95" ry="1.65" stroke="#000" stroke-width="1.09" fill="none" />
<ellipse cx="443.51" cy="234.16" rx="1.95" ry="1.65" stroke="#000" stroke-width="1.09" fill="none" />
<ellipse cx="443.51" cy="241.96" rx="1.95" ry="1.65" stroke="#000" stroke-width="1.09" fill="none" />
<ellipse cx="443.51" cy="249.76" rx="1.95" ry="1.65" stroke="#000" stroke-width="1.09" fill="none" />
<ellipse cx="450.05" cy="26.17" rx="2.05" ry="1.65" stroke="#000" stroke-width="1.09" fill="none" />
<ellipse cx="450.05" cy="33.97" rx="2.05" ry="1.65" stroke="#000" stroke-width="1.09" fill="none" />
<ellipse cx="450.05" cy="41.77" rx="2.05" ry="1.65" stroke="#000" stroke-width="1.09" fill="none" />
<ellipse cx="450.05" cy="49.57" rx="2.05" ry="1.65" stroke="#000" stroke-width="1.09" fill="none" />
<ellipse cx="450.05" cy="57.37" rx="2.05" ry="1.65" stroke="#000" stroke-width="1.09" fill="none" />
<ellipse cx="450.05" cy="65.17" rx="2.05" ry="1.65" stroke="#000" stroke-width="1.09" fill="none" />
<ellipse cx="450.05" cy="72.97" rx="2.05" ry="1.65" stroke="#000" stroke-width="1.09" fill="none" />
<ellipse cx="450.05" cy="80.77" rx="2.05" ry="1.65" stroke="#000" stroke-width="1.09" fill="none" />
<ellipse cx="450.05" cy="88.57" rx="2.05" ry="1.65" stroke="#000" stroke-width="1.09" fill="none" />
<ellipse cx="450.05" cy="96.37" rx="2.05" ry="1.65" stroke="#000" stroke-width="1.09" fill="none" />
<ellipse cx="450.05" cy="104.17" rx="2.05" ry="1.65" stroke="#000" stroke-width="1.09" fill="none" />
<ellipse cx="450.05" cy="111.97" rx="2.05" ry="1.65" stroke="#000" stroke-width="1.09" fill="none" />
<ellipse cx="450.05" cy="119.77" rx="2.05" ry="1.65" stroke="#000" stroke-width="1.09" fill="none" />
<ellipse cx="450.05" cy="127.57" rx="2.05" ry="1.65" stroke="#000" stroke-width="1.09" fill="none" />
<ellipse cx="450.05" cy="135.37" rx="2.05" ry="1.65" stroke="#000" stroke-width="1.09" fill="none" />
<ellipse cx="450.05" cy="143.17" rx="2.05" ry="1.65" stroke="#000" stroke-width="1.09" fill="none" />
<ellipse cx="450.05" cy="150.97" rx="2.05" ry="1.65" stroke="#000" stroke-width="1.09" fill="none" />
<ellipse cx="450.05" cy="166.57" rx="2.05" ry="1.65" stroke="#000" stroke-width="1.09" fill="none" />
<ellipse cx="450.05" cy="174.37" rx="2.05" ry="1.65" stroke="#000" stroke-width="1.09" fill="none" />
<ellipse cx="450.05" cy="189.97" rx="2.05" ry="1.65" stroke="#000" stroke-width="1.09" fill="none" />
<ellipse cx="450.05" cy="197.77" rx="2.05" ry="1.65" stroke="#000" stroke-width="1.09" fill="none" />
<ellipse cx="450.05" cy="213.37" rx="2.05" ry="1.65" stroke="#000" stroke-width="1.09" fill="none" />
<ellipse cx="450.05" cy="221.17" rx="2.05" ry="1.65" stroke="#000" stroke-width="1.09" fill="none" />
<ellipse cx="450.05" cy="236.77" rx="2.05" ry="1.65" stroke="#000" stroke-width="1.09" fill="none" />
<ellipse cx="450.05" cy="244.57" rx="2.05" ry="1.65" stroke="#000" stroke-width="1.09" fill="none" />
<ellipse cx="450.05" cy="252.37" rx="2.05" ry="1.65" stroke="#000" stroke-width="1.09" fill="none" />
<ellipse cx="456.86" cy="21.4" rx="2.12" ry="1.65" stroke="#000" stroke-width="1.09" fill="none" />
<ellipse cx="456.86" cy="29.2" rx="2.12" ry="1.65" stroke="#000" stroke-width="1.09" fill="none" />
<ellipse cx="456.86" cy="37" rx="2.12" ry="1.65" stroke="#000" stroke-width="1.09" fill="none" />
<ellipse cx="456.86" cy="44.8" rx="2.12" ry="1.65" stroke="#000" stroke-width="1.09" fill="none" />
<ellipse cx="456.86" cy="52.6" rx="2.12" ry="1.65" stroke="#000" stroke-width="1.09" fill="none" />
<ellipse cx="456.86" cy="60.4" rx="2.12" ry="1.65" stroke="#000" stroke-width="1.09" fill="none" />
<ellipse cx="456.86" cy="68.2" rx="2.12" ry="1.65" stroke="#000" stroke-width="1.09" fill="none" />
<ellipse cx="456.86" cy="76" rx="2.12" ry="1.65" stroke="#000" stroke-width="1.09" fill="none" />
<ellipse cx="456.86" cy="83.8" rx="2.12" ry="1.65" stroke="#000" stroke-width="1.09" fill="none" />
<ellipse cx="456.86" cy="91.6" rx="2.12" ry="1.65" stroke="#000" stroke-width="1.09" fill="none" />
<ellipse cx="456.86" cy="99.4" rx="2.12" ry="1.65" stroke="#000" stroke-width="1.09" fill="none" />
<ellipse cx="456.86" cy="107.2" rx="2.12" ry="1.65" stroke="#000" stroke-width="1.09" fill="none" />
<ellipse cx="456.86" cy="115" rx="2.12" ry="1.65" stroke="#000" stroke-width="1.09" fill="none" />
<ellipse cx="456.86" cy="122.8" rx="2.12" ry="1.65" stroke="#000" stroke-width="1.09" fill="none" />
<ellipse cx="456.86" cy="130.6" rx="2.12" ry="1.65" stroke="#000" stroke-width="1.09" fill="none" />
<ellipse cx="456.86" cy="138.4" rx="2.12" ry="1.65" stroke="#000" stroke-width="1.09" fill="none" />
<ellipse cx="456.86" cy="146.2" rx="2.12" ry="1.65" stroke="#000" stroke-width="1.09" fill="none" />
<ellipse cx="456.86" cy="161.8" rx="2.12" ry="1.65" stroke="#000" stroke-width="1.09" fill="none" />
<ellipse cx="456.86" cy="169.6" rx="2.12" ry="1.65" stroke="#000" stroke-width="1.09" fill="none" />
<ellipse cx="456.86" cy="177.4" rx="2.12" ry="1.65" stroke="#000" stroke-width="1.09" fill="none" />
<ellipse cx="456.86" cy="185.2" rx="2.12" ry="1.65" stroke="#000" stroke-width="1.09" fill="none" />
<ellipse cx="456.86" cy="193" rx="2.12" ry="1.65" stroke="#000" stroke-width="1.09" fill="none" />
<ellipse cx="456.86" cy="200.8" rx="2.12" ry="1.65" stroke="#000" stroke-width="1.09" fill="none" />
<ellipse cx="456.86" cy="216.4" rx="2.12" ry="1.65" stroke="#000" stroke-width="1.09" fill="none" />
<ellipse cx="456.86" cy="224.2" rx="2.12" ry="1.65" stroke="#000" stroke-width="1.09" fill="none" />
<ellipse cx="456.86" cy="239.8" rx="2.12" ry="1.65" stroke="#000" stroke-width="1.09" fill="none" />
<ellipse cx="456.86" cy="247.6" rx="2.12" ry="1.65" stroke="#000" stroke-width="1.09" fill="none" />
<ellipse cx="463.83" cy="24.86" rx="2.16" ry="1.65" stroke="#000" stroke-width="1.09" fill="none" />
<ellipse cx="463.83" cy="32.66" rx="2.16" ry="1.65" stroke="#000" stroke-width="1.09" fill="none" />
<ellipse cx="463.83" cy="40.46" rx="2.16" ry="1.65" stroke="#000" stroke-width="1.09" fill="none" />
<ellipse cx="463.83" cy="48.26" rx="2.16" ry="1.65" stroke="#000" stroke-width="1.09" fill="none" />
<ellipse cx="463.83" cy="56.06" rx="2.16" ry="1.65" stroke="#000" stroke-width="1.09" fill="none" />
<ellipse cx="463.83" cy="63.86" rx="2.16" ry="1.65" stroke="#000" stroke-width="1.09" fill="none" />
<ellipse cx="463.83" cy="71.66" rx="2.16" ry="1.65" stroke="#000" stroke-width="1.09" fill="none" />
<ellipse cx="463.83" cy="79.46" rx="2.16" ry="1.65" stroke="#000" stroke-width="1.09" fill="none" />
<ellipse cx="463.83" cy="87.26" rx="2.16" ry="1.65" stroke="#000" stroke-width="1.09" fill="none" />
<ellipse cx="463.83" cy="95.06" rx="2.16" ry="1.65" stroke="#000" stroke-width="1.09" fill="none" />
<ellipse cx="463.83" cy="102.86" rx="2.16" ry="1.65" stroke="#000" stroke-width="1.09" fill="none" />
<ellipse cx="463.83" cy="110.66" rx="2.16" ry="1.65" stroke="#000" stroke-width="1.09" fill="none" />
<ellipse cx="463.83" cy="118.46" rx="2.16" ry="1.65" stroke="#000" stroke-width="1.09" fill="none" />
<ellipse cx="463.83" cy="126.26" rx="2.16" ry="1.65" stroke="#000" stroke-width="1.09" fill="none" />
<ellipse cx="463.83" cy="134.06" rx="2.16" ry="1.65" stroke="#000" stroke-width="1.09" fill="none" />
<ellipse cx="463.83" cy="141.86" rx="2.16" ry="1.65" stroke="#000" stroke-width="1.09" fill="none" />
<ellipse cx="463.83" cy="149.66" rx="2.16" ry="1.65" stroke="#000" stroke-width="1.09" fill="none" />
<ellipse cx="463.83" cy="165.26" rx="2.16" ry="1.65" stroke="#000" stroke-width="1.09" fill="none" />
<ellipse cx="463.83" cy="173.06" rx="2.16" ry="1.65" stroke="#000" stroke-width="1.09" fill="none" />
<ellipse cx="463.83" cy="188.66" rx="2.16" ry="1.65" stroke="#000" stroke-width="1.09" fill="none" />
<ellipse cx="463.83" cy="196.46" rx="2.16" ry="1.65" stroke="#000" stroke-width="1.09" fill="none" />
<ellipse cx="463.83" cy="212.06" rx="2.16" ry="1.65" stroke="#000" stroke-width="1.09" fill="none" />
<ellipse cx="463.83" cy="219.86" rx="2.16" ry="1.65" stroke="#000" stroke-width="1.09" fill="none" />
<ellipse cx="463.83" cy="235.46" rx="2.16" ry="1.65" stroke="#000" stroke-width="1.09" fill="none" />
<ellipse cx="463.83" cy="243.26" rx="2.16" ry="1.65" stroke="#000" stroke-width="1.09" fill="none" />
<ellipse cx="463.83" cy="251.06" rx="2.16" ry="1.65" stroke="#000" stroke-width="1.09" fill="none" />
<ellipse cx="470.87" cy="20.96" rx="2.16" ry="1.65" stroke="#000" stroke-width="1.09" fill="none" />
<ellipse cx="470.87" cy="28.76" rx="2.16" ry="1.65" stroke="#000" stroke-width="1.09" fill="none" />
<ellipse cx="470.87" cy="36.56" rx="2.16" ry="1.65" stroke="#000" stroke-width="1.09" fill="none" />
<ellipse cx="470.87" cy="44.36" rx="2.16" ry="1.65" stroke="#000" stroke-width="1.09" fill="none" />
<ellipse cx="470.87" cy="52.16" rx="2.16" ry="1.65" stroke="#000" stroke-width="1.09" fill="none" />
<ellipse cx="470.87" cy="59.96" rx="2.16" ry="1.65" stroke="#000" stroke-width="1.09" fill="none" />
<ellipse cx="470.87" cy="67.76" rx="2.16" ry="1.65" stroke="#000" stroke-width="1.09" fill="none" />
<ellipse cx="470.87" cy="75.56" rx="2.16" ry="1.65" stroke="#000" stroke-width="1.09" fill="none" />
<ellipse cx="470.87" cy="83.36" rx="2.16" ry="1.65" stroke="#000" stroke-width="1.09" fill="none" />
<ellipse cx="470.87" cy="91.16" rx="2.16" ry="1.65" stroke="#000" stroke-width="1.09" fill="none" />
<ellipse cx="470.87" cy="98.96" rx="2.16" ry="1.65" stroke="#000" stroke-width="1.09" fill="none" />
<ellipse cx="470.87" cy="106.76" rx="2.16" ry="1.65" stroke="#000" stroke-width="1.09" fill="none" />
<ellipse cx="470.87" cy="114.56" rx="2.16" ry="1.65" stroke="#000" stroke-width="1.09" fill="none" />
<ellipse cx="470.87" cy="122.36" rx="2.16" ry="1.65" stroke="#000" stroke-width="1.09" fill="none" />
<ellipse cx="470.87" cy="130.16" rx="2.16" ry="1.65" stroke="#000" stroke-width="1.09" fill="none" />
<ellipse cx="470.87" cy="137.96" rx="2.16" ry="1.65" stroke="#000" stroke-width="1.09" fill="none" />
<ellipse cx="470.87" cy="145.76" rx="2.16" ry="1.65" stroke="#000" stroke-width="1.09" fill="none" />
<ellipse cx="470.87" cy="153.56" rx="2.16" ry="1.65" stroke="#000" stroke-width="1.09" fill="none" />
<ellipse cx="470.87" cy="161.36" rx="2.16" ry="1.65" stroke="#000" stroke-width="1.09" fill="none" />
<ellipse cx="470.87" cy="169.16" rx="2.16" ry="1.65" stroke="#000" stroke-width="1.09" fill="none" />
<ellipse cx="470.87" cy="176.96" rx="2.16" ry="1.65" stroke="#000" stroke-width="1.09" fill="none" />
<ellipse cx="470.87" cy="192.56" rx="2.16" ry="1.65" stroke="#000" stroke-width="1.09" fill="none" />
<ellipse cx="470.87" cy="200.36" rx="2.16" ry="1.65" stroke="#000" stroke-width="1.09" fill="none" />
<ellipse cx="470.87" cy="215.96" rx="2.16" ry="1.65" stroke="#000" stroke-width="1.09" fill="none" />
<ellipse cx="470.87" cy="223.76" rx="2.16" ry="1.65" stroke="#000" stroke-width="1.09" fill="none" />
<ellipse cx="470.87" cy="239.36" rx="2.16" ry="1.65" stroke="#000" stroke-width="1.09" fill="none" />
<ellipse cx="470.87" cy="247.16" rx="2.16" ry="1.65" stroke="#000" stroke-width="1.09" fill="none" />
<ellipse cx="477.84" cy="25.3" rx="2.12" ry="1.65" stroke="#000" stroke-width="1.09" fill="none" />
<ellipse cx="477.84" cy="33.1" rx="2.12" ry="1.65" stroke="#000" stroke-width="1.09" fill="none" />
<ellipse cx="477.84" cy="40.9" rx="2.12" ry="1.65" stroke="#000" stroke-width="1.09" fill="none" />
<ellipse cx="477.84" cy="48.7" rx="2.12" ry="1.65" stroke="#000" stroke-width="1.09" fill="none" />
<ellipse cx="477.84" cy="56.5" rx="2.12" ry="1.65" stroke="#000" stroke-width="1.09" fill="none" />
<ellipse cx="477.84" cy="64.3" rx="2.12" ry="1.65" stroke="#000" stroke-width="1.09" fill="none" />
<ellipse cx="477.84" cy="72.1" rx="2.12" ry="1.65" stroke="#000" stroke-width="1.09" fill="none" />
<ellipse cx="477.84" cy="79.9" rx="2.12" ry="1.65" stroke="#000" stroke-width="1.09" fill="none" />
<ellipse cx="477.84" cy="87.7" rx="2.12" ry="1.65" stroke="#000" stroke-width="1.09" fill="none" />
<ellipse cx="477.84" cy="95.5" rx="2.12" ry="1.65" stroke="#000" stroke-width="1.09" fill="none" />
<ellipse cx="477.84" cy="103.3" rx="2.12" ry="1.65" stroke="#000" stroke-width="1.09" fill="none" />
<ellipse cx="477.84" cy="111.1" rx="2.12" ry="1.65" stroke="#000" stroke-width="1.09" fill="none" />
<ellipse cx="477.84" cy="118.9" rx="2.12" ry="1.65" stroke="#000" stroke-width="1.09" fill="none" />
<ellipse cx="477.84" cy="126.7" rx="2.12" ry="1.65" stroke="#000" stroke-width="1.09" fill="none" />
<ellipse cx="477.84" cy="134.5" rx="2.12" ry="1.65" stroke="#000" stroke-width="1.09" fill="none" />
<ellipse cx="477.84" cy="142.3" rx="2.12" ry="1.65" stroke="#000" stroke-width="1.09" fill="none" />
<ellipse cx="477.84" cy="150.1" rx="2.12" ry="1.65" stroke="#000" stroke-width="1.09" fill="none" />
<ellipse cx="477.84" cy="165.7" rx="2.12" ry="1.65" stroke="#000" stroke-width="1.09" fill="none" />
<ellipse cx="477.84" cy="173.5" rx="2.12" ry="1.65" stroke="#000" stroke-width="1.09" fill="none" />
<ellipse cx="477.84" cy="189.1" rx="2.12" ry="1.65" stroke="#000" stroke-width="1.09" fill="none" />
<ellipse cx="477.84" cy="196.9" rx="2.12" ry="1.65" stroke="#000" stroke-width="1.09" fill="none" />
<ellipse cx="477.84" cy="212.5" rx="2.12" ry="1.65" stroke="#000" stroke-width="1.09" fill="none" />
<ellipse cx="477.84" cy="220.3" rx="2.12" ry="1.65" stroke="#000" stroke-width="1.09" fill="none" />
<ellipse cx="477.84" cy="235.9" rx="2.12" ry="1.65" stroke="#000" stroke-width="1.09" fill="none" />
<ellipse cx="477.84" cy="243.7" rx="2.12" ry="1.65" stroke="#000" stroke-width="1.09" fill="none" />
<ellipse cx="477.84" cy="251.5" rx="2.12" ry="1.65" stroke="#000" stroke-width="1.09" fill="none" />
<ellipse cx="484.65" cy="22.27" rx="2.05" ry="1.65" stroke="#000" stroke-width="1.09" fill="none" />
<ellipse cx="484.65" cy="30.07" rx="2.05" ry="1.65" stroke="#000" stroke-width="1.09" fill="none" />
<ellipse cx="484.65" cy="37.87" rx="2.05" ry="1.65" stroke="#000" stroke-width="1.09" fill="none" />
<ellipse cx="484.65" cy="45.67" rx="2.05" ry="1.65" stroke="#000" stroke-width="1.09" fill="none" />
<ellipse cx="484.65" cy="53.47" rx="2.05" ry="1.65" stroke="#000" stroke-width="1.09" fill="none" />
<ellipse cx="484.65" cy="61.27" rx="2.05" ry="1.65" stroke="#000" stroke-width="1.09" fill="none" />
<ellipse cx="484.65" cy="69.07" rx="2.05" ry="1.65" stroke="#000" stroke-width="1.09" fill="none" />
<ellipse cx="484.65" cy="76.87" rx="2.05" ry="1.65" stroke="#000" stroke-width="1.09" fill="none" />
<ellipse cx="484.65" cy="84.67" rx="2.05" ry="1.65" stroke="#000" stroke-width="1.09" fill="none" />
<ellipse cx="484.65" cy="92.47" rx="2.05" ry="1.65" stroke="#000" stroke-width="1.09" fill="none" />
<ellipse cx="484.65" cy="100.27" rx="2.05" ry="1.65" stroke="#000" stroke-width="1.09" fill="none" />
<ellipse cx="484.65" cy="108.07" rx="2.05" ry="1.65" stroke="#000" stroke-width="1.09" fill="none" />
<ellipse cx="484.65" cy="115.87" rx="2.05" ry="1.65" stroke="#000" stroke-width="1.09" fill="none" />
<ellipse cx="484.65" cy="123.67" rx="2.05" ry="1.65" stroke="#000" stroke-width="1.09" fill="none" />
<ellipse cx="484.65" cy="131.47" rx="2.05" ry="1.65" stroke="#000" stroke-width="1.09" fill="none" />
<ellipse cx="484.65" cy="139.27" rx="2.05" ry="1.65" stroke="#000" stroke-width="1.09" fill="none" />
<ellipse cx="484.65" cy="147.07" rx="2.05" ry="1.65" stroke="#000" stroke-width="1.09" fill="none" />
<ellipse cx="484.65" cy="162.67" rx="2.05" ry="1.65" stroke="#000" stroke-width="1.09" fill="none" />
<ellipse cx="484.65" cy="170.47" rx="2.05" ry="1.65" stroke="#000" stroke-width="1.09" fill="none" />
<ellipse cx="484.65" cy="186.07" rx="2.05" ry="1.65" stroke="#000" stroke-width="1.09" fill="none" />
<ellipse cx="484.65" cy="193.87" rx="2.05" ry="1.65" stroke="#000" stroke-width="1.09" fill="none" />
<ellipse cx="484.65" cy="209.47" rx="2.05" ry="1.65" stroke="#000" stroke-width="1.09" fill="none" />
<ellipse cx="484.65" cy="217.27" rx="2.05" ry="1.65" stroke="#000" stroke-width="1.09" fill="none" />
<ellipse cx="484.65" cy="225.07" rx="2.05" ry="1.65" stroke="#000" stroke-width="1.09" fill="none" />
<ellipse cx="484.65" cy="232.87" rx="2.05" ry="1.65" stroke="#000" stroke-width="1.09" fill="none" />
<ellipse cx="484.65" cy="240.67" rx="2.05" ry="1.65" stroke="#000" stroke-width="1.09" fill="none" />
<ellipse cx="484.65" cy="248.47" rx="2.05" ry="1.65" stroke="#000" stroke-width="1.09" fill="none" />
<ellipse cx="491.19" cy="27.46" rx="1.95" ry="1.65" stroke="#000" stroke-width="1.09" fill="none" />
<ellipse cx="491.19" cy="35.26" rx="1.95" ry="1.65" stroke="#000" stroke-width="1.09" fill="none" />
<ellipse cx="491.19" cy="43.06" rx="1.95" ry="1.65" stroke="#000" stroke-width="1.09" fill="none" />
<ellipse cx="491.19" cy="50.86" rx="1.95" ry="1.65" stroke="#000" stroke-width="1.09" fill="none" />
<ellipse cx="491.19" cy="58.66" rx="1.95" ry="1.65" stroke="#000" stroke-width="1.09" fill="none" />
<ellipse cx="491.19" cy="66.46" rx="1.95" ry="1.65" stroke="#000" stroke-width="1.09" fill="none" />
<ellipse cx="491.19" cy="74.26" rx="1.95" ry="1.65" stroke="#000" stroke-width="1.09" fill="none" />
<ellipse cx="491.19" cy="82.06" rx="1.95" ry="1.65" stroke="#000" stroke-width="1.09" fill="none" />
<ellipse cx="491.19" cy="89.86" rx="1.95" ry="1.65" stroke="#000" stroke-width="1.09" fill="none" />
<ellipse cx="491.19" cy="97.66" rx="1.95" ry="1.65" stroke="#000" stroke-width="1.09" fill="none" />
<ellipse cx="491.19" cy="105.46" rx="1.95" ry="1.65" stroke="#000" stroke-width="1.09" fill="none" />
<ellipse cx="491.19" cy="113.26" rx="1.95" ry="1.65" stroke="#000" stroke-width="1.09" fill="none" />
<ellipse cx="491.19" cy="121.06" rx="1.95" ry="1.65" stroke="#000" stroke-width="1.09" fill="none" />
<ellipse cx="491.19" cy="128.86" rx="1.95" ry="1.65" stroke="#000" stroke-width="1.09" fill="none" />
<ellipse cx="491.19" cy="136.66" rx="1.95" ry="1.65" stroke="#000" stroke-width="1.09" fill="none" />
<ellipse cx="491.19" cy="144.46" rx="1.95" ry="1.65" stroke="#000" stroke-width="1.09" fill="none" />
<ellipse cx="491.19" cy="160.06" rx="1.95" ry="1.65" stroke="#000" stroke-width="1.09" fill="none" />
<ellipse cx="491.19" cy="167.86" rx="1.95" ry="1.65" stroke="#000" stroke-width="1.09" fill="none" />
<ellipse cx="491.19" cy="175.66" rx="1.95" ry="1.65" stroke="#000" stroke-width="1.09" fill="none" />
<ellipse cx="491.19" cy="183.46" rx="1.95" ry="1.65" stroke="#000" stroke-width="1.09" fill="none" />
<ellipse cx="491.19" cy="191.26" rx="1.95" ry="1.65" stroke="#000" stroke-width="1.09" fill="none" />
<ellipse cx="491.19" cy="199.06" rx="1.95" ry="1.65" stroke="#000" stroke-width="1.09" fill="none" />
<ellipse cx="491.19" cy="206.86" rx="1.95" ry="1.65" stroke="#000" stroke-width="1.09" fill="none" />
<ellipse cx="491.19" cy="214.66" rx="1.95" ry="1.65" stroke="#000" stroke-width="1.09" fill="none" />
<ellipse cx="491.19" cy="222.46" rx="1.95" ry="1.65" stroke="#000" stroke-width="1.09" fill="none" />
<ellipse cx="491.19" cy="238.06" rx="1.95" ry="1.65" stroke="#000" stroke-width="1.09" fill="none" />
<ellipse cx="491.19" cy="245.86" rx="1.95" ry="1.65" stroke="#000" stroke-width="1.09" fill="none" />
<ellipse cx="491.19" cy="253.66" rx="1.95" ry="1.65" stroke="#000" stroke-width="1.09" fill="none" />
<ellipse cx="497.36" cy="25.26" rx="1.82" ry="1.65" stroke="#000" stroke-width="1.09" fill="none" />
<ellipse cx="497.36" cy="33.06" rx="1.82" ry="1.65" stroke="#000" stroke-width="1.09" fill="none" />
<ellipse cx="497.36" cy="40.86" rx="1.82" ry="1.65" stroke="#000" stroke-width="1.09" fill="none" />
<ellipse cx="497.36" cy="48.66" rx="1.82" ry="1.65" stroke="#000" stroke-width="1.09" fill="none" />
<ellipse cx="497.36" cy="56.46" rx="1.82" ry="1.65" stroke="#000" stroke-width="1.09" fill="none" />
<ellipse cx="497.36" cy="64.26" rx="1.82" ry="1.65" stroke="#000" stroke-width="1.09" fill="none" />
<ellipse cx="497.36" cy="72.06" rx="1.82" ry="1.65" stroke="#000" stroke-width="1.09" fill="none" />
<ellipse cx="497.36" cy="79.86" rx="1.82" ry="1.65" stroke="#000" stroke-width="1.09" fill="none" />
<ellipse cx="497.36" cy="87.66" rx="1.82" ry="1.65" stroke="#000" stroke-width="1.09" fill="none" />
<ellipse cx="497.36" cy="95.46" rx="1.82" ry="1.65" stroke="#000" stroke-width="1.09" fill="none" />
<ellipse cx="497.36" cy="103.26" rx="1.82" ry="1.65" stroke="#000" stroke-width="1.09" fill="none" />
<ellipse cx="497.36" cy="111.06" rx="1.82" ry="1.65" stroke="#000" stroke-width="1.09" fill="none" />
<ellipse cx="497.36" cy="118.86" rx="1.82" ry="1.65" stroke="#000" stroke-width="1.09" fill="none" />
<ellipse cx="497.36" cy="126.66" rx="1.82" ry="1.65" stroke="#000" stroke-width="1.09" fill="none" />
<ellipse cx="497.36" cy="134.46" rx="1.82" ry="1.65" stroke="#000" stroke-width="1.09" fill="none" />
<ellipse cx="497.36" cy="142.26" rx="1.82" ry="1.65" stroke="#000" stroke-width="1.09" fill="none" />
<ellipse cx="497.36" cy="157.86" rx="1.82" ry="1.65" stroke="#000" stroke-width="1.09" fill="none" />
<ellipse cx="497.36" cy="165.66" rx="1.82" ry="1.65" stroke="#000" stroke-width="1.09" fill="none" />
<ellipse cx="497.36" cy="173.46" rx="1.82" ry="1.65" stroke="#000" stroke-width="1.09" fill="none" />
<ellipse cx="497.36" cy="181.26" rx="1.82" ry="1.65" stroke="#000" stroke-width="1.09" fill="none" />
<ellipse cx="497.36" cy="189.06" rx="1.82" ry="1.65" stroke="#000" stroke-width="1.09" fill="none" />
<ellipse cx="497.36" cy="196.86" rx="1.82" ry="1.65" stroke="#000" stroke-width="1.09" fill="none" />
<ellipse cx="497.36" cy="204.66" rx="1.82" ry="1.65" stroke="#000" stroke-width="1.09" fill="none" />
<ellipse cx="497.36" cy="212.46" rx="1.82" ry="1.65" stroke="#000" stroke-width="1.09" fill="none" />
<ellipse cx="497.36" cy="220.26" rx="1.82" ry="1.65" stroke="#000" stroke-width="1.09" fill="none" />
<ellipse cx="497.36" cy="235.86" rx="1.82" ry="1.65" stroke="#000" stroke-width="1.09" fill="none" />
<ellipse cx="497.36" cy="243.66" rx="1.82" ry="1.65" stroke="#000" stroke-width="1.09" fill="none" />
<ellipse cx="497.36" cy="251.46" rx="1.82" ry="1.65" stroke="#000" stroke-width="1.09" fill="none" />
<line x1="411" y1="151.97" x2="425" y2="148.09" stroke="#1a1a1a" stroke-width="0.92" />
<line x1="411" y1="130.97" x2="425" y2="169.09" stroke="#1a1a1a" stroke-width="0.92" />
<line x1="411" y1="175.97" x2="425" y2="173.09" stroke="#1a1a1a" stroke-width="0.92" />
<line x1="411" y1="155.97" x2="425" y2="193.09" stroke="#1a1a1a" stroke-width="0.92" />
<line x1="411" y1="199.97" x2="425" y2="197.09" stroke="#1a1a1a" stroke-width="0.92" />
<line x1="411" y1="179.97" x2="425" y2="217.09" stroke="#1a1a1a" stroke-width="0.92" />
<line x1="411" y1="225.97" x2="425" y2="221.09" stroke="#1a1a1a" stroke-width="0.92" />
<line x1="411" y1="203.97" x2="425" y2="243.09" stroke="#1a1a1a" stroke-width="0.92" />
<rect x="425" y="128" width="5" height="95" fill="#fff" stroke="#1a1a1a" stroke-width="0.9"/>
<path d="M410.35,122 A57,33 0 0 0 524.35,122 L524.35,125.8 A57,33 0 0 1 410.35,125.8 Z" stroke="#1a1a1a" stroke-width="1.15" fill="#fff" />
<path d="M410.35,147 A57,33 0 0 0 524.35,147 L524.35,150.8 A57,33 0 0 1 410.35,150.8 Z" stroke="#1a1a1a" stroke-width="1.15" fill="#fff" />
<path d="M410.35,171 A57,33 0 0 0 524.35,171 L524.35,174.8 A57,33 0 0 1 410.35,174.8 Z" stroke="#1a1a1a" stroke-width="1.15" fill="#fff" />
<path d="M410.35,195 A57,33 0 0 0 524.35,195 L524.35,198.8 A57,33 0 0 1 410.35,198.8 Z" stroke="#1a1a1a" stroke-width="1.15" fill="#fff" />
</g>
<path d="M409,116 Q407.2,124 409.3,132" stroke="#1a1a1a" stroke-width="0.8" fill="none" />
<path d="M409,141 Q407.2,149 409.3,157" stroke="#1a1a1a" stroke-width="0.8" fill="none" />
<path d="M409,165 Q407.2,173 409.3,181" stroke="#1a1a1a" stroke-width="0.8" fill="none" />
<path d="M409,189 Q407.2,197 409.3,205" stroke="#1a1a1a" stroke-width="0.8" fill="none" />
<ellipse cx="467.35" cy="90.4" rx="78.5" ry="43.5" stroke="#1a1a1a" stroke-width="1.03" fill="#fff" />
<ellipse cx="467.35" cy="87.9" rx="78.5" ry="43.5" stroke="#1a1a1a" stroke-width="1.15" fill="#fff" />
<ellipse cx="467.35" cy="88.65" rx="58.5" ry="32.35" stroke="#1a1a1a" stroke-width="1.15" fill="#fff" />
<clipPath id="openclip"><ellipse cx="467.35" cy="88.65" rx="58" ry="31.8"/></clipPath>
<g clip-path="url(#openclip)">
<path d="M412.85,88.5 A54.5,23.8 0 0 1 521.85,88.5" stroke="#1a1a1a" stroke-width="0.92" fill="none" />
<ellipse cx="413.26" cy="92.35" rx="0.64" ry="1.95" stroke="#000" stroke-width="1.15" fill="none" />
<ellipse cx="413.26" cy="100.15" rx="0.64" ry="1.95" stroke="#000" stroke-width="1.15" fill="none" />
<ellipse cx="413.26" cy="107.95" rx="0.64" ry="1.95" stroke="#000" stroke-width="1.15" fill="none" />
<ellipse cx="413.26" cy="123.55" rx="0.64" ry="1.95" stroke="#000" stroke-width="1.15" fill="none" />
<ellipse cx="413.26" cy="131.35" rx="0.64" ry="1.95" stroke="#000" stroke-width="1.15" fill="none" />
<ellipse cx="413.26" cy="139.15" rx="0.64" ry="1.95" stroke="#000" stroke-width="1.15" fill="none" />
<ellipse cx="413.26" cy="146.95" rx="0.64" ry="1.95" stroke="#000" stroke-width="1.15" fill="none" />
<ellipse cx="416.6" cy="83.87" rx="1.05" ry="1.95" stroke="#000" stroke-width="1.15" fill="none" />
<ellipse cx="416.6" cy="91.67" rx="1.05" ry="1.95" stroke="#000" stroke-width="1.15" fill="none" />
<ellipse cx="416.6" cy="99.47" rx="1.05" ry="1.95" stroke="#000" stroke-width="1.15" fill="none" />
<ellipse cx="416.6" cy="122.87" rx="1.05" ry="1.95" stroke="#000" stroke-width="1.15" fill="none" />
<ellipse cx="416.6" cy="130.67" rx="1.05" ry="1.95" stroke="#000" stroke-width="1.15" fill="none" />
<ellipse cx="416.6" cy="138.47" rx="1.05" ry="1.95" stroke="#000" stroke-width="1.15" fill="none" />
<ellipse cx="421.48" cy="83.54" rx="1.42" ry="1.95" stroke="#000" stroke-width="1.15" fill="none" />
<ellipse cx="421.48" cy="91.34" rx="1.42" ry="1.95" stroke="#000" stroke-width="1.15" fill="none" />
<ellipse cx="421.48" cy="99.14" rx="1.42" ry="1.95" stroke="#000" stroke-width="1.15" fill="none" />
<ellipse cx="421.48" cy="114.74" rx="1.42" ry="1.95" stroke="#000" stroke-width="1.15" fill="none" />
<ellipse cx="421.48" cy="122.54" rx="1.42" ry="1.95" stroke="#000" stroke-width="1.15" fill="none" />
<ellipse cx="421.48" cy="130.34" rx="1.42" ry="1.95" stroke="#000" stroke-width="1.15" fill="none" />
<ellipse cx="421.48" cy="138.14" rx="1.42" ry="1.95" stroke="#000" stroke-width="1.15" fill="none" />
<ellipse cx="427.75" cy="75.9" rx="1.75" ry="1.95" stroke="#000" stroke-width="1.15" fill="none" />
<ellipse cx="427.75" cy="83.7" rx="1.75" ry="1.95" stroke="#000" stroke-width="1.15" fill="none" />
<ellipse cx="427.75" cy="91.5" rx="1.75" ry="1.95" stroke="#000" stroke-width="1.15" fill="none" />
<ellipse cx="427.75" cy="114.9" rx="1.75" ry="1.95" stroke="#000" stroke-width="1.15" fill="none" />
<ellipse cx="427.75" cy="122.7" rx="1.75" ry="1.95" stroke="#000" stroke-width="1.15" fill="none" />
<ellipse cx="427.75" cy="130.5" rx="1.75" ry="1.95" stroke="#000" stroke-width="1.15" fill="none" />
<ellipse cx="435.23" cy="76.66" rx="2.03" ry="1.95" stroke="#000" stroke-width="1.15" fill="none" />
<ellipse cx="435.23" cy="84.46" rx="2.03" ry="1.95" stroke="#000" stroke-width="1.15" fill="none" />
<ellipse cx="435.23" cy="92.26" rx="2.03" ry="1.95" stroke="#000" stroke-width="1.15" fill="none" />
<ellipse cx="435.23" cy="107.86" rx="2.03" ry="1.95" stroke="#000" stroke-width="1.15" fill="none" />
<ellipse cx="435.23" cy="115.66" rx="2.03" ry="1.95" stroke="#000" stroke-width="1.15" fill="none" />
<ellipse cx="435.23" cy="123.46" rx="2.03" ry="1.95" stroke="#000" stroke-width="1.15" fill="none" />
<ellipse cx="435.23" cy="131.26" rx="2.03" ry="1.95" stroke="#000" stroke-width="1.15" fill="none" />
<ellipse cx="443.68" cy="70.32" rx="2.24" ry="1.95" stroke="#000" stroke-width="1.15" fill="none" />
<ellipse cx="443.68" cy="78.12" rx="2.24" ry="1.95" stroke="#000" stroke-width="1.15" fill="none" />
<ellipse cx="443.68" cy="85.92" rx="2.24" ry="1.95" stroke="#000" stroke-width="1.15" fill="none" />
<ellipse cx="443.68" cy="109.32" rx="2.24" ry="1.95" stroke="#000" stroke-width="1.15" fill="none" />
<ellipse cx="443.68" cy="117.12" rx="2.24" ry="1.95" stroke="#000" stroke-width="1.15" fill="none" />
<ellipse cx="443.68" cy="124.92" rx="2.24" ry="1.95" stroke="#000" stroke-width="1.15" fill="none" />
<ellipse cx="452.86" cy="72.55" rx="2.39" ry="1.95" stroke="#000" stroke-width="1.15" fill="none" />
<ellipse cx="452.86" cy="80.35" rx="2.39" ry="1.95" stroke="#000" stroke-width="1.15" fill="none" />
<ellipse cx="452.86" cy="88.15" rx="2.39" ry="1.95" stroke="#000" stroke-width="1.15" fill="none" />
<ellipse cx="452.86" cy="103.75" rx="2.39" ry="1.95" stroke="#000" stroke-width="1.15" fill="none" />
<ellipse cx="452.86" cy="111.55" rx="2.39" ry="1.95" stroke="#000" stroke-width="1.15" fill="none" />
<ellipse cx="452.86" cy="119.35" rx="2.39" ry="1.95" stroke="#000" stroke-width="1.15" fill="none" />
<ellipse cx="452.86" cy="127.15" rx="2.39" ry="1.95" stroke="#000" stroke-width="1.15" fill="none" />
<ellipse cx="462.47" cy="67.81" rx="2.47" ry="1.95" stroke="#000" stroke-width="1.15" fill="none" />
<ellipse cx="462.47" cy="75.61" rx="2.47" ry="1.95" stroke="#000" stroke-width="1.15" fill="none" />
<ellipse cx="462.47" cy="83.41" rx="2.47" ry="1.95" stroke="#000" stroke-width="1.15" fill="none" />
<ellipse cx="462.47" cy="106.81" rx="2.47" ry="1.95" stroke="#000" stroke-width="1.15" fill="none" />
<ellipse cx="462.47" cy="114.61" rx="2.47" ry="1.95" stroke="#000" stroke-width="1.15" fill="none" />
<ellipse cx="462.47" cy="122.41" rx="2.47" ry="1.95" stroke="#000" stroke-width="1.15" fill="none" />
<ellipse cx="472.23" cy="71.71" rx="2.47" ry="1.95" stroke="#000" stroke-width="1.15" fill="none" />
<ellipse cx="472.23" cy="79.51" rx="2.47" ry="1.95" stroke="#000" stroke-width="1.15" fill="none" />
<ellipse cx="472.23" cy="87.31" rx="2.47" ry="1.95" stroke="#000" stroke-width="1.15" fill="none" />
<ellipse cx="472.23" cy="102.91" rx="2.47" ry="1.95" stroke="#000" stroke-width="1.15" fill="none" />
<ellipse cx="472.23" cy="110.71" rx="2.47" ry="1.95" stroke="#000" stroke-width="1.15" fill="none" />
<ellipse cx="472.23" cy="118.51" rx="2.47" ry="1.95" stroke="#000" stroke-width="1.15" fill="none" />
<ellipse cx="472.23" cy="126.31" rx="2.47" ry="1.95" stroke="#000" stroke-width="1.15" fill="none" />
<ellipse cx="481.84" cy="68.65" rx="2.39" ry="1.95" stroke="#000" stroke-width="1.15" fill="none" />
<ellipse cx="481.84" cy="76.45" rx="2.39" ry="1.95" stroke="#000" stroke-width="1.15" fill="none" />
<ellipse cx="481.84" cy="84.25" rx="2.39" ry="1.95" stroke="#000" stroke-width="1.15" fill="none" />
<ellipse cx="481.84" cy="107.65" rx="2.39" ry="1.95" stroke="#000" stroke-width="1.15" fill="none" />
<ellipse cx="481.84" cy="115.45" rx="2.39" ry="1.95" stroke="#000" stroke-width="1.15" fill="none" />
<ellipse cx="481.84" cy="123.25" rx="2.39" ry="1.95" stroke="#000" stroke-width="1.15" fill="none" />
<ellipse cx="491.02" cy="74.22" rx="2.24" ry="1.95" stroke="#000" stroke-width="1.15" fill="none" />
<ellipse cx="491.02" cy="82.02" rx="2.24" ry="1.95" stroke="#000" stroke-width="1.15" fill="none" />
<ellipse cx="491.02" cy="89.82" rx="2.24" ry="1.95" stroke="#000" stroke-width="1.15" fill="none" />
<ellipse cx="491.02" cy="105.42" rx="2.24" ry="1.95" stroke="#000" stroke-width="1.15" fill="none" />
<ellipse cx="491.02" cy="113.22" rx="2.24" ry="1.95" stroke="#000" stroke-width="1.15" fill="none" />
<ellipse cx="491.02" cy="121.02" rx="2.24" ry="1.95" stroke="#000" stroke-width="1.15" fill="none" />
<ellipse cx="491.02" cy="128.82" rx="2.24" ry="1.95" stroke="#000" stroke-width="1.15" fill="none" />
<ellipse cx="499.47" cy="72.76" rx="2.03" ry="1.95" stroke="#000" stroke-width="1.15" fill="none" />
<ellipse cx="499.47" cy="80.56" rx="2.03" ry="1.95" stroke="#000" stroke-width="1.15" fill="none" />
<ellipse cx="499.47" cy="88.36" rx="2.03" ry="1.95" stroke="#000" stroke-width="1.15" fill="none" />
<ellipse cx="499.47" cy="111.76" rx="2.03" ry="1.95" stroke="#000" stroke-width="1.15" fill="none" />
<ellipse cx="499.47" cy="119.56" rx="2.03" ry="1.95" stroke="#000" stroke-width="1.15" fill="none" />
<ellipse cx="499.47" cy="127.36" rx="2.03" ry="1.95" stroke="#000" stroke-width="1.15" fill="none" />
<ellipse cx="506.95" cy="79.8" rx="1.75" ry="1.95" stroke="#000" stroke-width="1.15" fill="none" />
<ellipse cx="506.95" cy="87.6" rx="1.75" ry="1.95" stroke="#000" stroke-width="1.15" fill="none" />
<ellipse cx="506.95" cy="95.4" rx="1.75" ry="1.95" stroke="#000" stroke-width="1.15" fill="none" />
<ellipse cx="506.95" cy="111" rx="1.75" ry="1.95" stroke="#000" stroke-width="1.15" fill="none" />
<ellipse cx="506.95" cy="118.8" rx="1.75" ry="1.95" stroke="#000" stroke-width="1.15" fill="none" />
<ellipse cx="506.95" cy="126.6" rx="1.75" ry="1.95" stroke="#000" stroke-width="1.15" fill="none" />
<ellipse cx="506.95" cy="134.4" rx="1.75" ry="1.95" stroke="#000" stroke-width="1.15" fill="none" />
<ellipse cx="513.22" cy="79.64" rx="1.42" ry="1.95" stroke="#000" stroke-width="1.15" fill="none" />
<ellipse cx="513.22" cy="87.44" rx="1.42" ry="1.95" stroke="#000" stroke-width="1.15" fill="none" />
<ellipse cx="513.22" cy="95.24" rx="1.42" ry="1.95" stroke="#000" stroke-width="1.15" fill="none" />
<ellipse cx="513.22" cy="118.64" rx="1.42" ry="1.95" stroke="#000" stroke-width="1.15" fill="none" />
<ellipse cx="513.22" cy="126.44" rx="1.42" ry="1.95" stroke="#000" stroke-width="1.15" fill="none" />
<ellipse cx="513.22" cy="134.24" rx="1.42" ry="1.95" stroke="#000" stroke-width="1.15" fill="none" />
<ellipse cx="518.1" cy="87.77" rx="1.05" ry="1.95" stroke="#000" stroke-width="1.15" fill="none" />
<ellipse cx="518.1" cy="95.57" rx="1.05" ry="1.95" stroke="#000" stroke-width="1.15" fill="none" />
<ellipse cx="518.1" cy="103.37" rx="1.05" ry="1.95" stroke="#000" stroke-width="1.15" fill="none" />
<ellipse cx="518.1" cy="118.97" rx="1.05" ry="1.95" stroke="#000" stroke-width="1.15" fill="none" />
<ellipse cx="518.1" cy="126.77" rx="1.05" ry="1.95" stroke="#000" stroke-width="1.15" fill="none" />
<ellipse cx="518.1" cy="134.57" rx="1.05" ry="1.95" stroke="#000" stroke-width="1.15" fill="none" />
<ellipse cx="518.1" cy="142.37" rx="1.05" ry="1.95" stroke="#000" stroke-width="1.15" fill="none" />
<ellipse cx="521.44" cy="88.45" rx="0.64" ry="1.95" stroke="#000" stroke-width="1.15" fill="none" />
<ellipse cx="521.44" cy="96.25" rx="0.64" ry="1.95" stroke="#000" stroke-width="1.15" fill="none" />
<ellipse cx="521.44" cy="104.05" rx="0.64" ry="1.95" stroke="#000" stroke-width="1.15" fill="none" />
<ellipse cx="521.44" cy="127.45" rx="0.64" ry="1.95" stroke="#000" stroke-width="1.15" fill="none" />
<ellipse cx="521.44" cy="135.25" rx="0.64" ry="1.95" stroke="#000" stroke-width="1.15" fill="none" />
<ellipse cx="521.44" cy="143.05" rx="0.64" ry="1.95" stroke="#000" stroke-width="1.15" fill="none" />
<path d="M407.65,123.2 A59.7,29.7 0 0 1 527.05,123.2 L527.05,128.2 A59.7,29.7 0 0 0 407.65,128.2 Z" stroke="#1a1a1a" stroke-width="0.92" fill="#fff" />
</g>
<ellipse cx="467.35" cy="88.65" rx="58.5" ry="32.35" stroke="#1a1a1a" stroke-width="1.95" fill="none" />
<polygon points="432.9,15.3 443,21.2 432.4,61 418.8,68.3" stroke="#1a1a1a" stroke-width="1.03" fill="#fff" />
<path d="M418.8,68.3 L408.4,61.6 Q407.6,60.2 408.8,59.6 L422.2,52.7" stroke="#1a1a1a" stroke-width="0.92" fill="#fff" />
<polygon points="487.2,46.9 501.9,116.3 515.6,106.9 500.9,38.8" stroke="#1a1a1a" stroke-width="1.03" fill="#fff" />
<path d="M501.9,116.3 L506,119.2 Q508.5,120.6 511,120.2 L521,117.8 Q524.4,116.5 523.4,114.6 L515.6,106.9" stroke="#1a1a1a" stroke-width="1.03" fill="#fff" />
<polygon points="446.7,7.3 500.9,38.8 487.2,46.9 432.9,15.3" stroke="#1a1a1a" stroke-width="1.15" fill="#fff" />
<line x1="488.5" y1="44.5" x2="501" y2="37.3" stroke="#555" stroke-width="0.69" />
<text x="0" y="0" font-size="8.9" fill="#1a1a1a" stroke="#1a1a1a" stroke-width="0.1" textLength="57.6" lengthAdjust="spacingAndGlyphs" transform="translate(563.4,213.4) rotate(-90)" style="font-family:'Liberation Sans',sans-serif">DWG # 101713</text>
<text x="332" y="125" font-size="8.4" text-anchor="middle" font-weight="normal" fill="#1a1a1a" textLength="79.2" lengthAdjust="spacingAndGlyphs"  stroke="#1a1a1a" stroke-width="0.24">SECTION REMOVED</text>
<text x="332" y="134.2" font-size="8.4" text-anchor="middle" font-weight="normal" fill="#1a1a1a" textLength="92.7" lengthAdjust="spacingAndGlyphs"  stroke="#1a1a1a" stroke-width="0.24">TO ILLUSTRATE DETAIL</text>
<text x="332" y="143.4" font-size="8.4" text-anchor="middle" font-weight="normal" fill="#1a1a1a" textLength="87.8" lengthAdjust="spacingAndGlyphs"  stroke="#1a1a1a" stroke-width="0.24">OF INNER WIRE CAGE</text>
<polyline points="381,130.6 385,130.6 412.9,164.1" stroke="#1a1a1a" stroke-width="0.92" fill="none" />
<polygon points="412.9,164.1 408.55,161.22 410.85,159.3" fill="#1a1a1a"/>
<polyline points="127.8,333.5 148,258.2 225.3,258.2 245.9,333.5" stroke="#1a1a1a" stroke-width="1.15" fill="none" />
<rect x="108.4" y="333.3" width="155" height="3" rx="1.2" fill="#c8c8c8" stroke="#1a1a1a" stroke-width="0.8"/>
<rect x="127.9" y="336.3" width="116.7" height="153.6" fill="none" stroke="#1a1a1a" stroke-width="1.0"/>
<line x1="70.4" y1="258.1" x2="145.6" y2="258.1" stroke="#1a1a1a" stroke-width="0.92" />
<line x1="76.4" y1="258.1" x2="76.4" y2="289.6" stroke="#1a1a1a" stroke-width="0.92" />
<line x1="76.4" y1="301.8" x2="76.4" y2="333.8" stroke="#1a1a1a" stroke-width="0.92" />
<polygon points="76.4,258.1 78.2,263.1 74.6,263.1" fill="#1a1a1a"/>
<polygon points="76.4,333.8 74.6,328.8 78.2,328.8" fill="#1a1a1a"/>
<line x1="63.1" y1="300.2" x2="89.8" y2="300.2" stroke="#1a1a1a" stroke-width="1.03" />
<line x1="70.4" y1="333.8" x2="105.2" y2="333.8" stroke="#1a1a1a" stroke-width="0.92" />
<line x1="76.4" y1="333.8" x2="76.4" y2="405.9" stroke="#1a1a1a" stroke-width="0.92" />
<line x1="76.4" y1="417" x2="76.4" y2="489.6" stroke="#1a1a1a" stroke-width="0.92" />
<polygon points="76.4,333.8 78.2,338.8 74.6,338.8" fill="#1a1a1a"/>
<polygon points="76.4,489.6 74.6,484.6 78.2,484.6" fill="#1a1a1a"/>
<line x1="63.4" y1="415.9" x2="89.7" y2="415.9" stroke="#1a1a1a" stroke-width="1.03" />
<line x1="70.4" y1="489.9" x2="124.4" y2="489.9" stroke="#1a1a1a" stroke-width="0.92" />
<line x1="128.2" y1="493" x2="128.2" y2="529.6" stroke="#1a1a1a" stroke-width="0.92" />
<line x1="244.6" y1="493" x2="244.6" y2="529.6" stroke="#1a1a1a" stroke-width="0.92" />
<line x1="128.2" y1="523.2" x2="168" y2="523.2" stroke="#1a1a1a" stroke-width="0.92" />
<line x1="204.3" y1="523.2" x2="244.6" y2="523.2" stroke="#1a1a1a" stroke-width="0.92" />
<polygon points="128.2,523.2 133.2,521.4 133.2,525" fill="#1a1a1a"/>
<polygon points="244.6,523.2 239.6,525 239.6,521.4" fill="#1a1a1a"/>
<line x1="168.7" y1="529.4" x2="189.8" y2="529.4" stroke="#1a1a1a" stroke-width="1.03" />
<text x="191.2" y="527" font-size="8.6" text-anchor="start" font-weight="normal" fill="#1a1a1a" textLength="12.3" lengthAdjust="spacingAndGlyphs"  stroke="#1a1a1a" stroke-width="0.24">OD</text>
<polyline points="176,319.6 186.4,319.6 186.4,345" stroke="#1a1a1a" stroke-width="0.92" fill="none" />
<polygon points="167.3,319.6 177.3,317.5 177.3,321.7" fill="#1a1a1a"/>
<text x="171.9" y="312.9" font-size="12" text-anchor="start" font-weight="normal" fill="#1a1a1a" textLength="7.2" lengthAdjust="spacingAndGlyphs"  stroke="#1a1a1a" stroke-width="0.24">B</text>
<polyline points="186.4,489.9 186.4,498 176,498" stroke="#1a1a1a" stroke-width="0.92" fill="none" />
<polygon points="167.1,498 177.1,495.9 177.1,500.1" fill="#1a1a1a"/>
<text x="171.9" y="513.6" font-size="12" text-anchor="start" font-weight="normal" fill="#1a1a1a" textLength="7.2" lengthAdjust="spacingAndGlyphs"  stroke="#1a1a1a" stroke-width="0.24">B</text>
<text x="319.2" y="261.4" font-size="8.6" text-anchor="middle" font-weight="normal" fill="#1a1a1a" textLength="110.2" lengthAdjust="spacingAndGlyphs"  stroke="#1a1a1a" stroke-width="0.24">(4) 1/4&quot; HORIZONTAL RINGS</text>
<text x="319.2" y="270.65" font-size="8.6" text-anchor="middle" font-weight="normal" fill="#1a1a1a" textLength="111.6" lengthAdjust="spacingAndGlyphs"  stroke="#1a1a1a" stroke-width="0.24">WITH 1/4&quot; VERTICAL CROSS</text>
<text x="319.2" y="279.9" font-size="8.6" text-anchor="middle" font-weight="normal" fill="#1a1a1a" textLength="99.9" lengthAdjust="spacingAndGlyphs"  stroke="#1a1a1a" stroke-width="0.24">BRACES WELDED INSIDE</text>
<text x="319.2" y="289.15" font-size="8.6" text-anchor="middle" font-weight="normal" fill="#1a1a1a" textLength="50.8" lengthAdjust="spacingAndGlyphs"  stroke="#1a1a1a" stroke-width="0.24">(STANDARD)</text>
<polyline points="261,267.5 256.4,267.5 226,376" stroke="#1a1a1a" stroke-width="0.92" fill="none" />
<clipPath id="elclip"><rect x="128.4" y="336.8" width="115.7" height="152.6"/></clipPath>
<g clip-path="url(#elclip)">
<ellipse cx="128.05" cy="338.7" rx="0.5" ry="2.4" stroke="#1a1a1a" stroke-width="0.98" fill="none" />
<ellipse cx="128.05" cy="348.46" rx="0.5" ry="2.4" stroke="#1a1a1a" stroke-width="0.98" fill="none" />
<ellipse cx="128.05" cy="358.22" rx="0.5" ry="2.4" stroke="#1a1a1a" stroke-width="0.98" fill="none" />
<ellipse cx="128.05" cy="367.98" rx="0.5" ry="2.4" stroke="#1a1a1a" stroke-width="0.98" fill="none" />
<ellipse cx="128.05" cy="377.74" rx="0.5" ry="2.4" stroke="#1a1a1a" stroke-width="0.98" fill="none" />
<ellipse cx="128.05" cy="387.5" rx="0.5" ry="2.4" stroke="#1a1a1a" stroke-width="0.98" fill="none" />
<ellipse cx="128.05" cy="397.26" rx="0.5" ry="2.4" stroke="#1a1a1a" stroke-width="0.98" fill="none" />
<ellipse cx="128.05" cy="407.02" rx="0.5" ry="2.4" stroke="#1a1a1a" stroke-width="0.98" fill="none" />
<ellipse cx="128.05" cy="416.78" rx="0.5" ry="2.4" stroke="#1a1a1a" stroke-width="0.98" fill="none" />
<ellipse cx="128.05" cy="426.54" rx="0.5" ry="2.4" stroke="#1a1a1a" stroke-width="0.98" fill="none" />
<ellipse cx="128.05" cy="436.3" rx="0.5" ry="2.4" stroke="#1a1a1a" stroke-width="0.98" fill="none" />
<ellipse cx="128.05" cy="446.06" rx="0.5" ry="2.4" stroke="#1a1a1a" stroke-width="0.98" fill="none" />
<ellipse cx="128.05" cy="455.82" rx="0.5" ry="2.4" stroke="#1a1a1a" stroke-width="0.98" fill="none" />
<ellipse cx="128.05" cy="465.58" rx="0.5" ry="2.4" stroke="#1a1a1a" stroke-width="0.98" fill="none" />
<ellipse cx="128.05" cy="475.34" rx="0.5" ry="2.4" stroke="#1a1a1a" stroke-width="0.98" fill="none" />
<ellipse cx="128.05" cy="485.1" rx="0.5" ry="2.4" stroke="#1a1a1a" stroke-width="0.98" fill="none" />
<ellipse cx="128.94" cy="343.6" rx="0.42" ry="2.4" stroke="#1a1a1a" stroke-width="0.98" fill="none" />
<ellipse cx="128.94" cy="353.36" rx="0.42" ry="2.4" stroke="#1a1a1a" stroke-width="0.98" fill="none" />
<ellipse cx="128.94" cy="363.12" rx="0.42" ry="2.4" stroke="#1a1a1a" stroke-width="0.98" fill="none" />
<ellipse cx="128.94" cy="372.88" rx="0.42" ry="2.4" stroke="#1a1a1a" stroke-width="0.98" fill="none" />
<ellipse cx="128.94" cy="382.64" rx="0.42" ry="2.4" stroke="#1a1a1a" stroke-width="0.98" fill="none" />
<ellipse cx="128.94" cy="392.4" rx="0.42" ry="2.4" stroke="#1a1a1a" stroke-width="0.98" fill="none" />
<ellipse cx="128.94" cy="402.16" rx="0.42" ry="2.4" stroke="#1a1a1a" stroke-width="0.98" fill="none" />
<ellipse cx="128.94" cy="411.92" rx="0.42" ry="2.4" stroke="#1a1a1a" stroke-width="0.98" fill="none" />
<ellipse cx="128.94" cy="421.68" rx="0.42" ry="2.4" stroke="#1a1a1a" stroke-width="0.98" fill="none" />
<ellipse cx="128.94" cy="431.44" rx="0.42" ry="2.4" stroke="#1a1a1a" stroke-width="0.98" fill="none" />
<ellipse cx="128.94" cy="441.2" rx="0.42" ry="2.4" stroke="#1a1a1a" stroke-width="0.98" fill="none" />
<ellipse cx="128.94" cy="450.96" rx="0.42" ry="2.4" stroke="#1a1a1a" stroke-width="0.98" fill="none" />
<ellipse cx="128.94" cy="460.72" rx="0.42" ry="2.4" stroke="#1a1a1a" stroke-width="0.98" fill="none" />
<ellipse cx="128.94" cy="470.48" rx="0.42" ry="2.4" stroke="#1a1a1a" stroke-width="0.98" fill="none" />
<ellipse cx="128.94" cy="480.24" rx="0.42" ry="2.4" stroke="#1a1a1a" stroke-width="0.98" fill="none" />
<ellipse cx="131.57" cy="338.7" rx="0.82" ry="2.4" stroke="#1a1a1a" stroke-width="0.98" fill="none" />
<ellipse cx="131.57" cy="348.46" rx="0.82" ry="2.4" stroke="#1a1a1a" stroke-width="0.98" fill="none" />
<ellipse cx="131.57" cy="358.22" rx="0.82" ry="2.4" stroke="#1a1a1a" stroke-width="0.98" fill="none" />
<ellipse cx="131.57" cy="367.98" rx="0.82" ry="2.4" stroke="#1a1a1a" stroke-width="0.98" fill="none" />
<ellipse cx="131.57" cy="377.74" rx="0.82" ry="2.4" stroke="#1a1a1a" stroke-width="0.98" fill="none" />
<ellipse cx="131.57" cy="387.5" rx="0.82" ry="2.4" stroke="#1a1a1a" stroke-width="0.98" fill="none" />
<ellipse cx="131.57" cy="397.26" rx="0.82" ry="2.4" stroke="#1a1a1a" stroke-width="0.98" fill="none" />
<ellipse cx="131.57" cy="407.02" rx="0.82" ry="2.4" stroke="#1a1a1a" stroke-width="0.98" fill="none" />
<ellipse cx="131.57" cy="416.78" rx="0.82" ry="2.4" stroke="#1a1a1a" stroke-width="0.98" fill="none" />
<ellipse cx="131.57" cy="426.54" rx="0.82" ry="2.4" stroke="#1a1a1a" stroke-width="0.98" fill="none" />
<ellipse cx="131.57" cy="436.3" rx="0.82" ry="2.4" stroke="#1a1a1a" stroke-width="0.98" fill="none" />
<ellipse cx="131.57" cy="446.06" rx="0.82" ry="2.4" stroke="#1a1a1a" stroke-width="0.98" fill="none" />
<ellipse cx="131.57" cy="455.82" rx="0.82" ry="2.4" stroke="#1a1a1a" stroke-width="0.98" fill="none" />
<ellipse cx="131.57" cy="465.58" rx="0.82" ry="2.4" stroke="#1a1a1a" stroke-width="0.98" fill="none" />
<ellipse cx="131.57" cy="475.34" rx="0.82" ry="2.4" stroke="#1a1a1a" stroke-width="0.98" fill="none" />
<ellipse cx="131.57" cy="485.1" rx="0.82" ry="2.4" stroke="#1a1a1a" stroke-width="0.98" fill="none" />
<ellipse cx="135.87" cy="343.6" rx="1.2" ry="2.4" stroke="#1a1a1a" stroke-width="0.98" fill="none" />
<ellipse cx="135.87" cy="353.36" rx="1.2" ry="2.4" stroke="#1a1a1a" stroke-width="0.98" fill="none" />
<ellipse cx="135.87" cy="363.12" rx="1.2" ry="2.4" stroke="#1a1a1a" stroke-width="0.98" fill="none" />
<ellipse cx="135.87" cy="372.88" rx="1.2" ry="2.4" stroke="#1a1a1a" stroke-width="0.98" fill="none" />
<ellipse cx="135.87" cy="382.64" rx="1.2" ry="2.4" stroke="#1a1a1a" stroke-width="0.98" fill="none" />
<ellipse cx="135.87" cy="392.4" rx="1.2" ry="2.4" stroke="#1a1a1a" stroke-width="0.98" fill="none" />
<ellipse cx="135.87" cy="402.16" rx="1.2" ry="2.4" stroke="#1a1a1a" stroke-width="0.98" fill="none" />
<ellipse cx="135.87" cy="411.92" rx="1.2" ry="2.4" stroke="#1a1a1a" stroke-width="0.98" fill="none" />
<ellipse cx="135.87" cy="421.68" rx="1.2" ry="2.4" stroke="#1a1a1a" stroke-width="0.98" fill="none" />
<ellipse cx="135.87" cy="431.44" rx="1.2" ry="2.4" stroke="#1a1a1a" stroke-width="0.98" fill="none" />
<ellipse cx="135.87" cy="441.2" rx="1.2" ry="2.4" stroke="#1a1a1a" stroke-width="0.98" fill="none" />
<ellipse cx="135.87" cy="450.96" rx="1.2" ry="2.4" stroke="#1a1a1a" stroke-width="0.98" fill="none" />
<ellipse cx="135.87" cy="460.72" rx="1.2" ry="2.4" stroke="#1a1a1a" stroke-width="0.98" fill="none" />
<ellipse cx="135.87" cy="470.48" rx="1.2" ry="2.4" stroke="#1a1a1a" stroke-width="0.98" fill="none" />
<ellipse cx="135.87" cy="480.24" rx="1.2" ry="2.4" stroke="#1a1a1a" stroke-width="0.98" fill="none" />
<ellipse cx="141.7" cy="338.7" rx="1.54" ry="2.4" stroke="#1a1a1a" stroke-width="0.98" fill="none" />
<ellipse cx="141.7" cy="348.46" rx="1.54" ry="2.4" stroke="#1a1a1a" stroke-width="0.98" fill="none" />
<ellipse cx="141.7" cy="358.22" rx="1.54" ry="2.4" stroke="#1a1a1a" stroke-width="0.98" fill="none" />
<ellipse cx="141.7" cy="367.98" rx="1.54" ry="2.4" stroke="#1a1a1a" stroke-width="0.98" fill="none" />
<ellipse cx="141.7" cy="377.74" rx="1.54" ry="2.4" stroke="#1a1a1a" stroke-width="0.98" fill="none" />
<ellipse cx="141.7" cy="387.5" rx="1.54" ry="2.4" stroke="#1a1a1a" stroke-width="0.98" fill="none" />
<ellipse cx="141.7" cy="397.26" rx="1.54" ry="2.4" stroke="#1a1a1a" stroke-width="0.98" fill="none" />
<ellipse cx="141.7" cy="407.02" rx="1.54" ry="2.4" stroke="#1a1a1a" stroke-width="0.98" fill="none" />
<ellipse cx="141.7" cy="416.78" rx="1.54" ry="2.4" stroke="#1a1a1a" stroke-width="0.98" fill="none" />
<ellipse cx="141.7" cy="426.54" rx="1.54" ry="2.4" stroke="#1a1a1a" stroke-width="0.98" fill="none" />
<ellipse cx="141.7" cy="436.3" rx="1.54" ry="2.4" stroke="#1a1a1a" stroke-width="0.98" fill="none" />
<ellipse cx="141.7" cy="446.06" rx="1.54" ry="2.4" stroke="#1a1a1a" stroke-width="0.98" fill="none" />
<ellipse cx="141.7" cy="455.82" rx="1.54" ry="2.4" stroke="#1a1a1a" stroke-width="0.98" fill="none" />
<ellipse cx="141.7" cy="465.58" rx="1.54" ry="2.4" stroke="#1a1a1a" stroke-width="0.98" fill="none" />
<ellipse cx="141.7" cy="475.34" rx="1.54" ry="2.4" stroke="#1a1a1a" stroke-width="0.98" fill="none" />
<ellipse cx="141.7" cy="485.1" rx="1.54" ry="2.4" stroke="#1a1a1a" stroke-width="0.98" fill="none" />
<ellipse cx="148.89" cy="343.6" rx="1.84" ry="2.4" stroke="#1a1a1a" stroke-width="0.98" fill="none" />
<ellipse cx="148.89" cy="353.36" rx="1.84" ry="2.4" stroke="#1a1a1a" stroke-width="0.98" fill="none" />
<ellipse cx="148.89" cy="363.12" rx="1.84" ry="2.4" stroke="#1a1a1a" stroke-width="0.98" fill="none" />
<ellipse cx="148.89" cy="372.88" rx="1.84" ry="2.4" stroke="#1a1a1a" stroke-width="0.98" fill="none" />
<ellipse cx="148.89" cy="382.64" rx="1.84" ry="2.4" stroke="#1a1a1a" stroke-width="0.98" fill="none" />
<ellipse cx="148.89" cy="392.4" rx="1.84" ry="2.4" stroke="#1a1a1a" stroke-width="0.98" fill="none" />
<ellipse cx="148.89" cy="402.16" rx="1.84" ry="2.4" stroke="#1a1a1a" stroke-width="0.98" fill="none" />
<ellipse cx="148.89" cy="411.92" rx="1.84" ry="2.4" stroke="#1a1a1a" stroke-width="0.98" fill="none" />
<ellipse cx="148.89" cy="421.68" rx="1.84" ry="2.4" stroke="#1a1a1a" stroke-width="0.98" fill="none" />
<ellipse cx="148.89" cy="431.44" rx="1.84" ry="2.4" stroke="#1a1a1a" stroke-width="0.98" fill="none" />
<ellipse cx="148.89" cy="441.2" rx="1.84" ry="2.4" stroke="#1a1a1a" stroke-width="0.98" fill="none" />
<ellipse cx="148.89" cy="450.96" rx="1.84" ry="2.4" stroke="#1a1a1a" stroke-width="0.98" fill="none" />
<ellipse cx="148.89" cy="460.72" rx="1.84" ry="2.4" stroke="#1a1a1a" stroke-width="0.98" fill="none" />
<ellipse cx="148.89" cy="470.48" rx="1.84" ry="2.4" stroke="#1a1a1a" stroke-width="0.98" fill="none" />
<ellipse cx="148.89" cy="480.24" rx="1.84" ry="2.4" stroke="#1a1a1a" stroke-width="0.98" fill="none" />
<ellipse cx="157.23" cy="338.7" rx="2.08" ry="2.4" stroke="#1a1a1a" stroke-width="0.98" fill="none" />
<ellipse cx="157.23" cy="348.46" rx="2.08" ry="2.4" stroke="#1a1a1a" stroke-width="0.98" fill="none" />
<ellipse cx="157.23" cy="358.22" rx="2.08" ry="2.4" stroke="#1a1a1a" stroke-width="0.98" fill="none" />
<ellipse cx="157.23" cy="367.98" rx="2.08" ry="2.4" stroke="#1a1a1a" stroke-width="0.98" fill="none" />
<ellipse cx="157.23" cy="377.74" rx="2.08" ry="2.4" stroke="#1a1a1a" stroke-width="0.98" fill="none" />
<ellipse cx="157.23" cy="387.5" rx="2.08" ry="2.4" stroke="#1a1a1a" stroke-width="0.98" fill="none" />
<ellipse cx="157.23" cy="397.26" rx="2.08" ry="2.4" stroke="#1a1a1a" stroke-width="0.98" fill="none" />
<ellipse cx="157.23" cy="407.02" rx="2.08" ry="2.4" stroke="#1a1a1a" stroke-width="0.98" fill="none" />
<ellipse cx="157.23" cy="416.78" rx="2.08" ry="2.4" stroke="#1a1a1a" stroke-width="0.98" fill="none" />
<ellipse cx="157.23" cy="426.54" rx="2.08" ry="2.4" stroke="#1a1a1a" stroke-width="0.98" fill="none" />
<ellipse cx="157.23" cy="436.3" rx="2.08" ry="2.4" stroke="#1a1a1a" stroke-width="0.98" fill="none" />
<ellipse cx="157.23" cy="446.06" rx="2.08" ry="2.4" stroke="#1a1a1a" stroke-width="0.98" fill="none" />
<ellipse cx="157.23" cy="455.82" rx="2.08" ry="2.4" stroke="#1a1a1a" stroke-width="0.98" fill="none" />
<ellipse cx="157.23" cy="465.58" rx="2.08" ry="2.4" stroke="#1a1a1a" stroke-width="0.98" fill="none" />
<ellipse cx="157.23" cy="475.34" rx="2.08" ry="2.4" stroke="#1a1a1a" stroke-width="0.98" fill="none" />
<ellipse cx="157.23" cy="485.1" rx="2.08" ry="2.4" stroke="#1a1a1a" stroke-width="0.98" fill="none" />
<ellipse cx="166.44" cy="343.6" rx="2.26" ry="2.4" stroke="#1a1a1a" stroke-width="0.98" fill="none" />
<ellipse cx="166.44" cy="353.36" rx="2.26" ry="2.4" stroke="#1a1a1a" stroke-width="0.98" fill="none" />
<ellipse cx="166.44" cy="363.12" rx="2.26" ry="2.4" stroke="#1a1a1a" stroke-width="0.98" fill="none" />
<ellipse cx="166.44" cy="372.88" rx="2.26" ry="2.4" stroke="#1a1a1a" stroke-width="0.98" fill="none" />
<ellipse cx="166.44" cy="382.64" rx="2.26" ry="2.4" stroke="#1a1a1a" stroke-width="0.98" fill="none" />
<ellipse cx="166.44" cy="392.4" rx="2.26" ry="2.4" stroke="#1a1a1a" stroke-width="0.98" fill="none" />
<ellipse cx="166.44" cy="402.16" rx="2.26" ry="2.4" stroke="#1a1a1a" stroke-width="0.98" fill="none" />
<ellipse cx="166.44" cy="411.92" rx="2.26" ry="2.4" stroke="#1a1a1a" stroke-width="0.98" fill="none" />
<ellipse cx="166.44" cy="421.68" rx="2.26" ry="2.4" stroke="#1a1a1a" stroke-width="0.98" fill="none" />
<ellipse cx="166.44" cy="431.44" rx="2.26" ry="2.4" stroke="#1a1a1a" stroke-width="0.98" fill="none" />
<ellipse cx="166.44" cy="441.2" rx="2.26" ry="2.4" stroke="#1a1a1a" stroke-width="0.98" fill="none" />
<ellipse cx="166.44" cy="450.96" rx="2.26" ry="2.4" stroke="#1a1a1a" stroke-width="0.98" fill="none" />
<ellipse cx="166.44" cy="460.72" rx="2.26" ry="2.4" stroke="#1a1a1a" stroke-width="0.98" fill="none" />
<ellipse cx="166.44" cy="470.48" rx="2.26" ry="2.4" stroke="#1a1a1a" stroke-width="0.98" fill="none" />
<ellipse cx="166.44" cy="480.24" rx="2.26" ry="2.4" stroke="#1a1a1a" stroke-width="0.98" fill="none" />
<ellipse cx="176.27" cy="338.7" rx="2.36" ry="2.4" stroke="#1a1a1a" stroke-width="0.98" fill="none" />
<ellipse cx="176.27" cy="348.46" rx="2.36" ry="2.4" stroke="#1a1a1a" stroke-width="0.98" fill="none" />
<ellipse cx="176.27" cy="358.22" rx="2.36" ry="2.4" stroke="#1a1a1a" stroke-width="0.98" fill="none" />
<ellipse cx="176.27" cy="367.98" rx="2.36" ry="2.4" stroke="#1a1a1a" stroke-width="0.98" fill="none" />
<ellipse cx="176.27" cy="377.74" rx="2.36" ry="2.4" stroke="#1a1a1a" stroke-width="0.98" fill="none" />
<ellipse cx="176.27" cy="387.5" rx="2.36" ry="2.4" stroke="#1a1a1a" stroke-width="0.98" fill="none" />
<ellipse cx="176.27" cy="397.26" rx="2.36" ry="2.4" stroke="#1a1a1a" stroke-width="0.98" fill="none" />
<ellipse cx="176.27" cy="407.02" rx="2.36" ry="2.4" stroke="#1a1a1a" stroke-width="0.98" fill="none" />
<ellipse cx="176.27" cy="416.78" rx="2.36" ry="2.4" stroke="#1a1a1a" stroke-width="0.98" fill="none" />
<ellipse cx="176.27" cy="426.54" rx="2.36" ry="2.4" stroke="#1a1a1a" stroke-width="0.98" fill="none" />
<ellipse cx="176.27" cy="436.3" rx="2.36" ry="2.4" stroke="#1a1a1a" stroke-width="0.98" fill="none" />
<ellipse cx="176.27" cy="446.06" rx="2.36" ry="2.4" stroke="#1a1a1a" stroke-width="0.98" fill="none" />
<ellipse cx="176.27" cy="455.82" rx="2.36" ry="2.4" stroke="#1a1a1a" stroke-width="0.98" fill="none" />
<ellipse cx="176.27" cy="465.58" rx="2.36" ry="2.4" stroke="#1a1a1a" stroke-width="0.98" fill="none" />
<ellipse cx="176.27" cy="475.34" rx="2.36" ry="2.4" stroke="#1a1a1a" stroke-width="0.98" fill="none" />
<ellipse cx="176.27" cy="485.1" rx="2.36" ry="2.4" stroke="#1a1a1a" stroke-width="0.98" fill="none" />
<ellipse cx="186.4" cy="343.6" rx="2.4" ry="2.4" stroke="#1a1a1a" stroke-width="0.98" fill="none" />
<ellipse cx="186.4" cy="353.36" rx="2.4" ry="2.4" stroke="#1a1a1a" stroke-width="0.98" fill="none" />
<ellipse cx="186.4" cy="363.12" rx="2.4" ry="2.4" stroke="#1a1a1a" stroke-width="0.98" fill="none" />
<ellipse cx="186.4" cy="372.88" rx="2.4" ry="2.4" stroke="#1a1a1a" stroke-width="0.98" fill="none" />
<ellipse cx="186.4" cy="382.64" rx="2.4" ry="2.4" stroke="#1a1a1a" stroke-width="0.98" fill="none" />
<ellipse cx="186.4" cy="392.4" rx="2.4" ry="2.4" stroke="#1a1a1a" stroke-width="0.98" fill="none" />
<ellipse cx="186.4" cy="402.16" rx="2.4" ry="2.4" stroke="#1a1a1a" stroke-width="0.98" fill="none" />
<ellipse cx="186.4" cy="411.92" rx="2.4" ry="2.4" stroke="#1a1a1a" stroke-width="0.98" fill="none" />
<ellipse cx="186.4" cy="421.68" rx="2.4" ry="2.4" stroke="#1a1a1a" stroke-width="0.98" fill="none" />
<ellipse cx="186.4" cy="431.44" rx="2.4" ry="2.4" stroke="#1a1a1a" stroke-width="0.98" fill="none" />
<ellipse cx="186.4" cy="441.2" rx="2.4" ry="2.4" stroke="#1a1a1a" stroke-width="0.98" fill="none" />
<ellipse cx="186.4" cy="450.96" rx="2.4" ry="2.4" stroke="#1a1a1a" stroke-width="0.98" fill="none" />
<ellipse cx="186.4" cy="460.72" rx="2.4" ry="2.4" stroke="#1a1a1a" stroke-width="0.98" fill="none" />
<ellipse cx="186.4" cy="470.48" rx="2.4" ry="2.4" stroke="#1a1a1a" stroke-width="0.98" fill="none" />
<ellipse cx="186.4" cy="480.24" rx="2.4" ry="2.4" stroke="#1a1a1a" stroke-width="0.98" fill="none" />
<ellipse cx="196.53" cy="338.7" rx="2.36" ry="2.4" stroke="#1a1a1a" stroke-width="0.98" fill="none" />
<ellipse cx="196.53" cy="348.46" rx="2.36" ry="2.4" stroke="#1a1a1a" stroke-width="0.98" fill="none" />
<ellipse cx="196.53" cy="358.22" rx="2.36" ry="2.4" stroke="#1a1a1a" stroke-width="0.98" fill="none" />
<ellipse cx="196.53" cy="367.98" rx="2.36" ry="2.4" stroke="#1a1a1a" stroke-width="0.98" fill="none" />
<ellipse cx="196.53" cy="377.74" rx="2.36" ry="2.4" stroke="#1a1a1a" stroke-width="0.98" fill="none" />
<ellipse cx="196.53" cy="387.5" rx="2.36" ry="2.4" stroke="#1a1a1a" stroke-width="0.98" fill="none" />
<ellipse cx="196.53" cy="397.26" rx="2.36" ry="2.4" stroke="#1a1a1a" stroke-width="0.98" fill="none" />
<ellipse cx="196.53" cy="407.02" rx="2.36" ry="2.4" stroke="#1a1a1a" stroke-width="0.98" fill="none" />
<ellipse cx="196.53" cy="416.78" rx="2.36" ry="2.4" stroke="#1a1a1a" stroke-width="0.98" fill="none" />
<ellipse cx="196.53" cy="426.54" rx="2.36" ry="2.4" stroke="#1a1a1a" stroke-width="0.98" fill="none" />
<ellipse cx="196.53" cy="436.3" rx="2.36" ry="2.4" stroke="#1a1a1a" stroke-width="0.98" fill="none" />
<ellipse cx="196.53" cy="446.06" rx="2.36" ry="2.4" stroke="#1a1a1a" stroke-width="0.98" fill="none" />
<ellipse cx="196.53" cy="455.82" rx="2.36" ry="2.4" stroke="#1a1a1a" stroke-width="0.98" fill="none" />
<ellipse cx="196.53" cy="465.58" rx="2.36" ry="2.4" stroke="#1a1a1a" stroke-width="0.98" fill="none" />
<ellipse cx="196.53" cy="475.34" rx="2.36" ry="2.4" stroke="#1a1a1a" stroke-width="0.98" fill="none" />
<ellipse cx="196.53" cy="485.1" rx="2.36" ry="2.4" stroke="#1a1a1a" stroke-width="0.98" fill="none" />
<ellipse cx="206.36" cy="343.6" rx="2.26" ry="2.4" stroke="#1a1a1a" stroke-width="0.98" fill="none" />
<ellipse cx="206.36" cy="353.36" rx="2.26" ry="2.4" stroke="#1a1a1a" stroke-width="0.98" fill="none" />
<ellipse cx="206.36" cy="363.12" rx="2.26" ry="2.4" stroke="#1a1a1a" stroke-width="0.98" fill="none" />
<ellipse cx="206.36" cy="372.88" rx="2.26" ry="2.4" stroke="#1a1a1a" stroke-width="0.98" fill="none" />
<ellipse cx="206.36" cy="382.64" rx="2.26" ry="2.4" stroke="#1a1a1a" stroke-width="0.98" fill="none" />
<ellipse cx="206.36" cy="392.4" rx="2.26" ry="2.4" stroke="#1a1a1a" stroke-width="0.98" fill="none" />
<ellipse cx="206.36" cy="402.16" rx="2.26" ry="2.4" stroke="#1a1a1a" stroke-width="0.98" fill="none" />
<ellipse cx="206.36" cy="411.92" rx="2.26" ry="2.4" stroke="#1a1a1a" stroke-width="0.98" fill="none" />
<ellipse cx="206.36" cy="421.68" rx="2.26" ry="2.4" stroke="#1a1a1a" stroke-width="0.98" fill="none" />
<ellipse cx="206.36" cy="431.44" rx="2.26" ry="2.4" stroke="#1a1a1a" stroke-width="0.98" fill="none" />
<ellipse cx="206.36" cy="441.2" rx="2.26" ry="2.4" stroke="#1a1a1a" stroke-width="0.98" fill="none" />
<ellipse cx="206.36" cy="450.96" rx="2.26" ry="2.4" stroke="#1a1a1a" stroke-width="0.98" fill="none" />
<ellipse cx="206.36" cy="460.72" rx="2.26" ry="2.4" stroke="#1a1a1a" stroke-width="0.98" fill="none" />
<ellipse cx="206.36" cy="470.48" rx="2.26" ry="2.4" stroke="#1a1a1a" stroke-width="0.98" fill="none" />
<ellipse cx="206.36" cy="480.24" rx="2.26" ry="2.4" stroke="#1a1a1a" stroke-width="0.98" fill="none" />
<ellipse cx="215.57" cy="338.7" rx="2.08" ry="2.4" stroke="#1a1a1a" stroke-width="0.98" fill="none" />
<ellipse cx="215.57" cy="348.46" rx="2.08" ry="2.4" stroke="#1a1a1a" stroke-width="0.98" fill="none" />
<ellipse cx="215.57" cy="358.22" rx="2.08" ry="2.4" stroke="#1a1a1a" stroke-width="0.98" fill="none" />
<ellipse cx="215.57" cy="367.98" rx="2.08" ry="2.4" stroke="#1a1a1a" stroke-width="0.98" fill="none" />
<ellipse cx="215.57" cy="377.74" rx="2.08" ry="2.4" stroke="#1a1a1a" stroke-width="0.98" fill="none" />
<ellipse cx="215.57" cy="387.5" rx="2.08" ry="2.4" stroke="#1a1a1a" stroke-width="0.98" fill="none" />
<ellipse cx="215.57" cy="397.26" rx="2.08" ry="2.4" stroke="#1a1a1a" stroke-width="0.98" fill="none" />
<ellipse cx="215.57" cy="407.02" rx="2.08" ry="2.4" stroke="#1a1a1a" stroke-width="0.98" fill="none" />
<ellipse cx="215.57" cy="416.78" rx="2.08" ry="2.4" stroke="#1a1a1a" stroke-width="0.98" fill="none" />
<ellipse cx="215.57" cy="426.54" rx="2.08" ry="2.4" stroke="#1a1a1a" stroke-width="0.98" fill="none" />
<ellipse cx="215.57" cy="436.3" rx="2.08" ry="2.4" stroke="#1a1a1a" stroke-width="0.98" fill="none" />
<ellipse cx="215.57" cy="446.06" rx="2.08" ry="2.4" stroke="#1a1a1a" stroke-width="0.98" fill="none" />
<ellipse cx="215.57" cy="455.82" rx="2.08" ry="2.4" stroke="#1a1a1a" stroke-width="0.98" fill="none" />
<ellipse cx="215.57" cy="465.58" rx="2.08" ry="2.4" stroke="#1a1a1a" stroke-width="0.98" fill="none" />
<ellipse cx="215.57" cy="475.34" rx="2.08" ry="2.4" stroke="#1a1a1a" stroke-width="0.98" fill="none" />
<ellipse cx="215.57" cy="485.1" rx="2.08" ry="2.4" stroke="#1a1a1a" stroke-width="0.98" fill="none" />
<ellipse cx="223.91" cy="343.6" rx="1.84" ry="2.4" stroke="#1a1a1a" stroke-width="0.98" fill="none" />
<ellipse cx="223.91" cy="353.36" rx="1.84" ry="2.4" stroke="#1a1a1a" stroke-width="0.98" fill="none" />
<ellipse cx="223.91" cy="363.12" rx="1.84" ry="2.4" stroke="#1a1a1a" stroke-width="0.98" fill="none" />
<ellipse cx="223.91" cy="372.88" rx="1.84" ry="2.4" stroke="#1a1a1a" stroke-width="0.98" fill="none" />
<ellipse cx="223.91" cy="382.64" rx="1.84" ry="2.4" stroke="#1a1a1a" stroke-width="0.98" fill="none" />
<ellipse cx="223.91" cy="392.4" rx="1.84" ry="2.4" stroke="#1a1a1a" stroke-width="0.98" fill="none" />
<ellipse cx="223.91" cy="402.16" rx="1.84" ry="2.4" stroke="#1a1a1a" stroke-width="0.98" fill="none" />
<ellipse cx="223.91" cy="411.92" rx="1.84" ry="2.4" stroke="#1a1a1a" stroke-width="0.98" fill="none" />
<ellipse cx="223.91" cy="421.68" rx="1.84" ry="2.4" stroke="#1a1a1a" stroke-width="0.98" fill="none" />
<ellipse cx="223.91" cy="431.44" rx="1.84" ry="2.4" stroke="#1a1a1a" stroke-width="0.98" fill="none" />
<ellipse cx="223.91" cy="441.2" rx="1.84" ry="2.4" stroke="#1a1a1a" stroke-width="0.98" fill="none" />
<ellipse cx="223.91" cy="450.96" rx="1.84" ry="2.4" stroke="#1a1a1a" stroke-width="0.98" fill="none" />
<ellipse cx="223.91" cy="460.72" rx="1.84" ry="2.4" stroke="#1a1a1a" stroke-width="0.98" fill="none" />
<ellipse cx="223.91" cy="470.48" rx="1.84" ry="2.4" stroke="#1a1a1a" stroke-width="0.98" fill="none" />
<ellipse cx="223.91" cy="480.24" rx="1.84" ry="2.4" stroke="#1a1a1a" stroke-width="0.98" fill="none" />
<ellipse cx="231.1" cy="338.7" rx="1.54" ry="2.4" stroke="#1a1a1a" stroke-width="0.98" fill="none" />
<ellipse cx="231.1" cy="348.46" rx="1.54" ry="2.4" stroke="#1a1a1a" stroke-width="0.98" fill="none" />
<ellipse cx="231.1" cy="358.22" rx="1.54" ry="2.4" stroke="#1a1a1a" stroke-width="0.98" fill="none" />
<ellipse cx="231.1" cy="367.98" rx="1.54" ry="2.4" stroke="#1a1a1a" stroke-width="0.98" fill="none" />
<ellipse cx="231.1" cy="377.74" rx="1.54" ry="2.4" stroke="#1a1a1a" stroke-width="0.98" fill="none" />
<ellipse cx="231.1" cy="387.5" rx="1.54" ry="2.4" stroke="#1a1a1a" stroke-width="0.98" fill="none" />
<ellipse cx="231.1" cy="397.26" rx="1.54" ry="2.4" stroke="#1a1a1a" stroke-width="0.98" fill="none" />
<ellipse cx="231.1" cy="407.02" rx="1.54" ry="2.4" stroke="#1a1a1a" stroke-width="0.98" fill="none" />
<ellipse cx="231.1" cy="416.78" rx="1.54" ry="2.4" stroke="#1a1a1a" stroke-width="0.98" fill="none" />
<ellipse cx="231.1" cy="426.54" rx="1.54" ry="2.4" stroke="#1a1a1a" stroke-width="0.98" fill="none" />
<ellipse cx="231.1" cy="436.3" rx="1.54" ry="2.4" stroke="#1a1a1a" stroke-width="0.98" fill="none" />
<ellipse cx="231.1" cy="446.06" rx="1.54" ry="2.4" stroke="#1a1a1a" stroke-width="0.98" fill="none" />
<ellipse cx="231.1" cy="455.82" rx="1.54" ry="2.4" stroke="#1a1a1a" stroke-width="0.98" fill="none" />
<ellipse cx="231.1" cy="465.58" rx="1.54" ry="2.4" stroke="#1a1a1a" stroke-width="0.98" fill="none" />
<ellipse cx="231.1" cy="475.34" rx="1.54" ry="2.4" stroke="#1a1a1a" stroke-width="0.98" fill="none" />
<ellipse cx="231.1" cy="485.1" rx="1.54" ry="2.4" stroke="#1a1a1a" stroke-width="0.98" fill="none" />
<ellipse cx="236.93" cy="343.6" rx="1.2" ry="2.4" stroke="#1a1a1a" stroke-width="0.98" fill="none" />
<ellipse cx="236.93" cy="353.36" rx="1.2" ry="2.4" stroke="#1a1a1a" stroke-width="0.98" fill="none" />
<ellipse cx="236.93" cy="363.12" rx="1.2" ry="2.4" stroke="#1a1a1a" stroke-width="0.98" fill="none" />
<ellipse cx="236.93" cy="372.88" rx="1.2" ry="2.4" stroke="#1a1a1a" stroke-width="0.98" fill="none" />
<ellipse cx="236.93" cy="382.64" rx="1.2" ry="2.4" stroke="#1a1a1a" stroke-width="0.98" fill="none" />
<ellipse cx="236.93" cy="392.4" rx="1.2" ry="2.4" stroke="#1a1a1a" stroke-width="0.98" fill="none" />
<ellipse cx="236.93" cy="402.16" rx="1.2" ry="2.4" stroke="#1a1a1a" stroke-width="0.98" fill="none" />
<ellipse cx="236.93" cy="411.92" rx="1.2" ry="2.4" stroke="#1a1a1a" stroke-width="0.98" fill="none" />
<ellipse cx="236.93" cy="421.68" rx="1.2" ry="2.4" stroke="#1a1a1a" stroke-width="0.98" fill="none" />
<ellipse cx="236.93" cy="431.44" rx="1.2" ry="2.4" stroke="#1a1a1a" stroke-width="0.98" fill="none" />
<ellipse cx="236.93" cy="441.2" rx="1.2" ry="2.4" stroke="#1a1a1a" stroke-width="0.98" fill="none" />
<ellipse cx="236.93" cy="450.96" rx="1.2" ry="2.4" stroke="#1a1a1a" stroke-width="0.98" fill="none" />
<ellipse cx="236.93" cy="460.72" rx="1.2" ry="2.4" stroke="#1a1a1a" stroke-width="0.98" fill="none" />
<ellipse cx="236.93" cy="470.48" rx="1.2" ry="2.4" stroke="#1a1a1a" stroke-width="0.98" fill="none" />
<ellipse cx="236.93" cy="480.24" rx="1.2" ry="2.4" stroke="#1a1a1a" stroke-width="0.98" fill="none" />
<ellipse cx="241.23" cy="338.7" rx="0.82" ry="2.4" stroke="#1a1a1a" stroke-width="0.98" fill="none" />
<ellipse cx="241.23" cy="348.46" rx="0.82" ry="2.4" stroke="#1a1a1a" stroke-width="0.98" fill="none" />
<ellipse cx="241.23" cy="358.22" rx="0.82" ry="2.4" stroke="#1a1a1a" stroke-width="0.98" fill="none" />
<ellipse cx="241.23" cy="367.98" rx="0.82" ry="2.4" stroke="#1a1a1a" stroke-width="0.98" fill="none" />
<ellipse cx="241.23" cy="377.74" rx="0.82" ry="2.4" stroke="#1a1a1a" stroke-width="0.98" fill="none" />
<ellipse cx="241.23" cy="387.5" rx="0.82" ry="2.4" stroke="#1a1a1a" stroke-width="0.98" fill="none" />
<ellipse cx="241.23" cy="397.26" rx="0.82" ry="2.4" stroke="#1a1a1a" stroke-width="0.98" fill="none" />
<ellipse cx="241.23" cy="407.02" rx="0.82" ry="2.4" stroke="#1a1a1a" stroke-width="0.98" fill="none" />
<ellipse cx="241.23" cy="416.78" rx="0.82" ry="2.4" stroke="#1a1a1a" stroke-width="0.98" fill="none" />
<ellipse cx="241.23" cy="426.54" rx="0.82" ry="2.4" stroke="#1a1a1a" stroke-width="0.98" fill="none" />
<ellipse cx="241.23" cy="436.3" rx="0.82" ry="2.4" stroke="#1a1a1a" stroke-width="0.98" fill="none" />
<ellipse cx="241.23" cy="446.06" rx="0.82" ry="2.4" stroke="#1a1a1a" stroke-width="0.98" fill="none" />
<ellipse cx="241.23" cy="455.82" rx="0.82" ry="2.4" stroke="#1a1a1a" stroke-width="0.98" fill="none" />
<ellipse cx="241.23" cy="465.58" rx="0.82" ry="2.4" stroke="#1a1a1a" stroke-width="0.98" fill="none" />
<ellipse cx="241.23" cy="475.34" rx="0.82" ry="2.4" stroke="#1a1a1a" stroke-width="0.98" fill="none" />
<ellipse cx="241.23" cy="485.1" rx="0.82" ry="2.4" stroke="#1a1a1a" stroke-width="0.98" fill="none" />
<ellipse cx="243.86" cy="343.6" rx="0.42" ry="2.4" stroke="#1a1a1a" stroke-width="0.98" fill="none" />
<ellipse cx="243.86" cy="353.36" rx="0.42" ry="2.4" stroke="#1a1a1a" stroke-width="0.98" fill="none" />
<ellipse cx="243.86" cy="363.12" rx="0.42" ry="2.4" stroke="#1a1a1a" stroke-width="0.98" fill="none" />
<ellipse cx="243.86" cy="372.88" rx="0.42" ry="2.4" stroke="#1a1a1a" stroke-width="0.98" fill="none" />
<ellipse cx="243.86" cy="382.64" rx="0.42" ry="2.4" stroke="#1a1a1a" stroke-width="0.98" fill="none" />
<ellipse cx="243.86" cy="392.4" rx="0.42" ry="2.4" stroke="#1a1a1a" stroke-width="0.98" fill="none" />
<ellipse cx="243.86" cy="402.16" rx="0.42" ry="2.4" stroke="#1a1a1a" stroke-width="0.98" fill="none" />
<ellipse cx="243.86" cy="411.92" rx="0.42" ry="2.4" stroke="#1a1a1a" stroke-width="0.98" fill="none" />
<ellipse cx="243.86" cy="421.68" rx="0.42" ry="2.4" stroke="#1a1a1a" stroke-width="0.98" fill="none" />
<ellipse cx="243.86" cy="431.44" rx="0.42" ry="2.4" stroke="#1a1a1a" stroke-width="0.98" fill="none" />
<ellipse cx="243.86" cy="441.2" rx="0.42" ry="2.4" stroke="#1a1a1a" stroke-width="0.98" fill="none" />
<ellipse cx="243.86" cy="450.96" rx="0.42" ry="2.4" stroke="#1a1a1a" stroke-width="0.98" fill="none" />
<ellipse cx="243.86" cy="460.72" rx="0.42" ry="2.4" stroke="#1a1a1a" stroke-width="0.98" fill="none" />
<ellipse cx="243.86" cy="470.48" rx="0.42" ry="2.4" stroke="#1a1a1a" stroke-width="0.98" fill="none" />
<ellipse cx="243.86" cy="480.24" rx="0.42" ry="2.4" stroke="#1a1a1a" stroke-width="0.98" fill="none" />
<ellipse cx="244.75" cy="338.7" rx="0.5" ry="2.4" stroke="#1a1a1a" stroke-width="0.98" fill="none" />
<ellipse cx="244.75" cy="348.46" rx="0.5" ry="2.4" stroke="#1a1a1a" stroke-width="0.98" fill="none" />
<ellipse cx="244.75" cy="358.22" rx="0.5" ry="2.4" stroke="#1a1a1a" stroke-width="0.98" fill="none" />
<ellipse cx="244.75" cy="367.98" rx="0.5" ry="2.4" stroke="#1a1a1a" stroke-width="0.98" fill="none" />
<ellipse cx="244.75" cy="377.74" rx="0.5" ry="2.4" stroke="#1a1a1a" stroke-width="0.98" fill="none" />
<ellipse cx="244.75" cy="387.5" rx="0.5" ry="2.4" stroke="#1a1a1a" stroke-width="0.98" fill="none" />
<ellipse cx="244.75" cy="397.26" rx="0.5" ry="2.4" stroke="#1a1a1a" stroke-width="0.98" fill="none" />
<ellipse cx="244.75" cy="407.02" rx="0.5" ry="2.4" stroke="#1a1a1a" stroke-width="0.98" fill="none" />
<ellipse cx="244.75" cy="416.78" rx="0.5" ry="2.4" stroke="#1a1a1a" stroke-width="0.98" fill="none" />
<ellipse cx="244.75" cy="426.54" rx="0.5" ry="2.4" stroke="#1a1a1a" stroke-width="0.98" fill="none" />
<ellipse cx="244.75" cy="436.3" rx="0.5" ry="2.4" stroke="#1a1a1a" stroke-width="0.98" fill="none" />
<ellipse cx="244.75" cy="446.06" rx="0.5" ry="2.4" stroke="#1a1a1a" stroke-width="0.98" fill="none" />
<ellipse cx="244.75" cy="455.82" rx="0.5" ry="2.4" stroke="#1a1a1a" stroke-width="0.98" fill="none" />
<ellipse cx="244.75" cy="465.58" rx="0.5" ry="2.4" stroke="#1a1a1a" stroke-width="0.98" fill="none" />
<ellipse cx="244.75" cy="475.34" rx="0.5" ry="2.4" stroke="#1a1a1a" stroke-width="0.98" fill="none" />
<ellipse cx="244.75" cy="485.1" rx="0.5" ry="2.4" stroke="#1a1a1a" stroke-width="0.98" fill="none" />
<rect x="128" y="336.5" width="2.0" height="153" fill="#555"/>
<rect x="242.5" y="336.5" width="2.0" height="153" fill="#555"/>
<line x1="128" y1="343.4" x2="244.5" y2="343.4" stroke="#1a1a1a" stroke-width="0.8" stroke-dasharray="5,2"/>
<line x1="128" y1="376.2" x2="244.5" y2="376.2" stroke="#1a1a1a" stroke-width="0.8" stroke-dasharray="5,2"/>
<line x1="128" y1="381" x2="244.5" y2="381" stroke="#1a1a1a" stroke-width="0.8" stroke-dasharray="5,2"/>
<line x1="128" y1="405" x2="244.5" y2="405" stroke="#1a1a1a" stroke-width="0.8" stroke-dasharray="5,2"/>
<line x1="128" y1="410.2" x2="244.5" y2="410.2" stroke="#1a1a1a" stroke-width="0.8" stroke-dasharray="5,2"/>
<line x1="128" y1="434.2" x2="244.5" y2="434.2" stroke="#1a1a1a" stroke-width="0.8" stroke-dasharray="5,2"/>
<line x1="128" y1="439.5" x2="244.5" y2="439.5" stroke="#1a1a1a" stroke-width="0.8" stroke-dasharray="5,2"/>
<line x1="128" y1="463.4" x2="244.5" y2="463.4" stroke="#1a1a1a" stroke-width="0.8" stroke-dasharray="5,2"/>
<line x1="128" y1="469.4" x2="244.5" y2="469.4" stroke="#1a1a1a" stroke-width="0.8" stroke-dasharray="5,2"/>
<line x1="184.2" y1="381" x2="184.2" y2="463.4" stroke="#1a1a1a" stroke-width="0.8" stroke-dasharray="4,1.5"/>
<line x1="188.6" y1="381" x2="188.6" y2="463.4" stroke="#1a1a1a" stroke-width="0.8" stroke-dasharray="4,1.5"/>
</g>
<circle cx="186.4" cy="474" r="3.6" stroke="#111" stroke-width="1.03" fill="none" />
<text x="430.8" y="507.4" font-size="13.4" text-anchor="middle" font-weight="normal" fill="#1a1a1a" textLength="77.7" lengthAdjust="spacingAndGlyphs"  stroke="#1a1a1a" stroke-width="0.24">SECTION B-B</text>
<text x="484.8" y="285.6" font-size="8.4" text-anchor="middle" font-weight="normal" fill="#1a1a1a" textLength="93.9" lengthAdjust="spacingAndGlyphs"  stroke="#1a1a1a" stroke-width="0.24">ROLLED BAND WELDED</text>
<text x="484.8" y="294.8" font-size="8.4" text-anchor="middle" font-weight="normal" fill="#1a1a1a" textLength="96.3" lengthAdjust="spacingAndGlyphs"  stroke="#1a1a1a" stroke-width="0.24">ON TOP (PERFORATION</text>
<text x="484.8" y="304" font-size="8.4" text-anchor="middle" font-weight="normal" fill="#1a1a1a" textLength="96.3" lengthAdjust="spacingAndGlyphs"  stroke="#1a1a1a" stroke-width="0.24">SANDWICHED BETWEEN</text>
<text x="484.8" y="313.2" font-size="8.4" text-anchor="middle" font-weight="normal" fill="#1a1a1a" textLength="68.7" lengthAdjust="spacingAndGlyphs"  stroke="#1a1a1a" stroke-width="0.24">BAND &amp; FLANGE)</text>
<polyline points="434.2,292.2 429.6,292.2 403.1,338.1" stroke="#1a1a1a" stroke-width="0.92" fill="none" />
<polygon points="403.1,338.1 404.3,333.02 406.9,334.52" fill="#1a1a1a"/>
<text x="339.8" y="310.8" font-size="8.4" text-anchor="middle" font-weight="normal" fill="#1a1a1a" textLength="31.8" lengthAdjust="spacingAndGlyphs"  stroke="#1a1a1a" stroke-width="0.24">FLANGE</text>
<text x="336.7" y="321.7" font-size="8.4" text-anchor="middle" font-weight="normal" fill="#1a1a1a" textLength="46.2" lengthAdjust="spacingAndGlyphs"  stroke="#1a1a1a" stroke-width="0.24">THICKNESS</text>
<line x1="336.5" y1="323.4" x2="336.5" y2="333.7" stroke="#1a1a1a" stroke-width="0.92" />
<polygon points="336.5,333.7 335.1,329.7 337.9,329.7" fill="#1a1a1a"/>
<line x1="336.5" y1="337" x2="336.5" y2="346.3" stroke="#1a1a1a" stroke-width="0.92" />
<polygon points="336.5,337 337.9,341 335.1,341" fill="#1a1a1a"/>
<line x1="330.7" y1="333.7" x2="352.4" y2="333.7" stroke="#1a1a1a" stroke-width="0.92" />
<line x1="330.7" y1="336.6" x2="352.4" y2="336.6" stroke="#1a1a1a" stroke-width="0.92" />
<rect x="375.5" y="333.8" width="117.6" height="156" fill="none" stroke="#1a1a1a" stroke-width="1.0"/>
<line x1="379.3" y1="336.6" x2="379.3" y2="489.9" stroke="#1a1a1a" stroke-width="0.92" />
<line x1="489.4" y1="336.6" x2="489.4" y2="489.9" stroke="#1a1a1a" stroke-width="0.92" />
<rect x="424.2" y="319.6" width="20.4" height="14.2" fill="none" stroke="#1a1a1a" stroke-width="0.9"/>
<rect x="355.4" y="333.7" width="20.2" height="2.9" rx="1.2" fill="#fff" stroke="#1a1a1a" stroke-width="0.8"/>
<rect x="493.1" y="333.7" width="19.2" height="2.9" rx="1.2" fill="#fff" stroke="#1a1a1a" stroke-width="0.8"/>
<line x1="357" y1="336.4" x2="360" y2="333.9" stroke="#333" stroke-width="0.69" />
<line x1="361.5" y1="336.4" x2="364.5" y2="333.9" stroke="#333" stroke-width="0.69" />
<line x1="366" y1="336.4" x2="369" y2="333.9" stroke="#333" stroke-width="0.69" />
<line x1="370.5" y1="336.4" x2="373.5" y2="333.9" stroke="#333" stroke-width="0.69" />
<line x1="495" y1="336.4" x2="498" y2="333.9" stroke="#333" stroke-width="0.69" />
<line x1="499.5" y1="336.4" x2="502.5" y2="333.9" stroke="#333" stroke-width="0.69" />
<line x1="504" y1="336.4" x2="507" y2="333.9" stroke="#333" stroke-width="0.69" />
<line x1="508.5" y1="336.4" x2="511.5" y2="333.9" stroke="#333" stroke-width="0.69" />
<line x1="379.3" y1="343.4" x2="489.4" y2="343.4" stroke="#1a1a1a" stroke-width="0.92" />
<clipPath id="secclip"><rect x="379.8" y="343.9" width="109.1" height="125.4"/></clipPath>
<g clip-path="url(#secclip)">
<ellipse cx="381.66" cy="333.85" rx="0.7" ry="2.45" stroke="#1e1e1e" stroke-width="0.94" fill="none" />
<ellipse cx="381.66" cy="343.55" rx="0.7" ry="2.45" stroke="#1e1e1e" stroke-width="0.94" fill="none" />
<ellipse cx="381.66" cy="353.25" rx="0.7" ry="2.45" stroke="#1e1e1e" stroke-width="0.94" fill="none" />
<ellipse cx="381.66" cy="362.95" rx="0.7" ry="2.45" stroke="#1e1e1e" stroke-width="0.94" fill="none" />
<ellipse cx="381.66" cy="372.65" rx="0.7" ry="2.45" stroke="#1e1e1e" stroke-width="0.94" fill="none" />
<ellipse cx="381.66" cy="382.35" rx="0.7" ry="2.45" stroke="#1e1e1e" stroke-width="0.94" fill="none" />
<ellipse cx="381.66" cy="392.05" rx="0.7" ry="2.45" stroke="#1e1e1e" stroke-width="0.94" fill="none" />
<ellipse cx="381.66" cy="401.75" rx="0.7" ry="2.45" stroke="#1e1e1e" stroke-width="0.94" fill="none" />
<ellipse cx="381.66" cy="411.45" rx="0.7" ry="2.45" stroke="#1e1e1e" stroke-width="0.94" fill="none" />
<ellipse cx="381.66" cy="421.15" rx="0.7" ry="2.45" stroke="#1e1e1e" stroke-width="0.94" fill="none" />
<ellipse cx="381.66" cy="430.85" rx="0.7" ry="2.45" stroke="#1e1e1e" stroke-width="0.94" fill="none" />
<ellipse cx="381.66" cy="440.55" rx="0.7" ry="2.45" stroke="#1e1e1e" stroke-width="0.94" fill="none" />
<ellipse cx="381.66" cy="450.25" rx="0.7" ry="2.45" stroke="#1e1e1e" stroke-width="0.94" fill="none" />
<ellipse cx="381.66" cy="459.95" rx="0.7" ry="2.45" stroke="#1e1e1e" stroke-width="0.94" fill="none" />
<ellipse cx="381.66" cy="469.65" rx="0.7" ry="2.45" stroke="#1e1e1e" stroke-width="0.94" fill="none" />
<ellipse cx="385.39" cy="338.7" rx="1.11" ry="2.45" stroke="#1e1e1e" stroke-width="0.94" fill="none" />
<ellipse cx="385.39" cy="348.4" rx="1.11" ry="2.45" stroke="#1e1e1e" stroke-width="0.94" fill="none" />
<ellipse cx="385.39" cy="358.1" rx="1.11" ry="2.45" stroke="#1e1e1e" stroke-width="0.94" fill="none" />
<ellipse cx="385.39" cy="367.8" rx="1.11" ry="2.45" stroke="#1e1e1e" stroke-width="0.94" fill="none" />
<ellipse cx="385.39" cy="377.5" rx="1.11" ry="2.45" stroke="#1e1e1e" stroke-width="0.94" fill="none" />
<ellipse cx="385.39" cy="387.2" rx="1.11" ry="2.45" stroke="#1e1e1e" stroke-width="0.94" fill="none" />
<ellipse cx="385.39" cy="396.9" rx="1.11" ry="2.45" stroke="#1e1e1e" stroke-width="0.94" fill="none" />
<ellipse cx="385.39" cy="406.6" rx="1.11" ry="2.45" stroke="#1e1e1e" stroke-width="0.94" fill="none" />
<ellipse cx="385.39" cy="416.3" rx="1.11" ry="2.45" stroke="#1e1e1e" stroke-width="0.94" fill="none" />
<ellipse cx="385.39" cy="426" rx="1.11" ry="2.45" stroke="#1e1e1e" stroke-width="0.94" fill="none" />
<ellipse cx="385.39" cy="435.7" rx="1.11" ry="2.45" stroke="#1e1e1e" stroke-width="0.94" fill="none" />
<ellipse cx="385.39" cy="445.4" rx="1.11" ry="2.45" stroke="#1e1e1e" stroke-width="0.94" fill="none" />
<ellipse cx="385.39" cy="455.1" rx="1.11" ry="2.45" stroke="#1e1e1e" stroke-width="0.94" fill="none" />
<ellipse cx="385.39" cy="464.8" rx="1.11" ry="2.45" stroke="#1e1e1e" stroke-width="0.94" fill="none" />
<ellipse cx="385.39" cy="474.5" rx="1.11" ry="2.45" stroke="#1e1e1e" stroke-width="0.94" fill="none" />
<ellipse cx="390.77" cy="333.85" rx="1.49" ry="2.45" stroke="#1e1e1e" stroke-width="0.94" fill="none" />
<ellipse cx="390.77" cy="343.55" rx="1.49" ry="2.45" stroke="#1e1e1e" stroke-width="0.94" fill="none" />
<ellipse cx="390.77" cy="353.25" rx="1.49" ry="2.45" stroke="#1e1e1e" stroke-width="0.94" fill="none" />
<ellipse cx="390.77" cy="362.95" rx="1.49" ry="2.45" stroke="#1e1e1e" stroke-width="0.94" fill="none" />
<ellipse cx="390.77" cy="372.65" rx="1.49" ry="2.45" stroke="#1e1e1e" stroke-width="0.94" fill="none" />
<ellipse cx="390.77" cy="382.35" rx="1.49" ry="2.45" stroke="#1e1e1e" stroke-width="0.94" fill="none" />
<ellipse cx="390.77" cy="392.05" rx="1.49" ry="2.45" stroke="#1e1e1e" stroke-width="0.94" fill="none" />
<ellipse cx="390.77" cy="401.75" rx="1.49" ry="2.45" stroke="#1e1e1e" stroke-width="0.94" fill="none" />
<ellipse cx="390.77" cy="411.45" rx="1.49" ry="2.45" stroke="#1e1e1e" stroke-width="0.94" fill="none" />
<ellipse cx="390.77" cy="421.15" rx="1.49" ry="2.45" stroke="#1e1e1e" stroke-width="0.94" fill="none" />
<ellipse cx="390.77" cy="430.85" rx="1.49" ry="2.45" stroke="#1e1e1e" stroke-width="0.94" fill="none" />
<ellipse cx="390.77" cy="440.55" rx="1.49" ry="2.45" stroke="#1e1e1e" stroke-width="0.94" fill="none" />
<ellipse cx="390.77" cy="450.25" rx="1.49" ry="2.45" stroke="#1e1e1e" stroke-width="0.94" fill="none" />
<ellipse cx="390.77" cy="459.95" rx="1.49" ry="2.45" stroke="#1e1e1e" stroke-width="0.94" fill="none" />
<ellipse cx="390.77" cy="469.65" rx="1.49" ry="2.45" stroke="#1e1e1e" stroke-width="0.94" fill="none" />
<ellipse cx="397.6" cy="338.7" rx="1.82" ry="2.45" stroke="#1e1e1e" stroke-width="0.94" fill="none" />
<ellipse cx="397.6" cy="348.4" rx="1.82" ry="2.45" stroke="#1e1e1e" stroke-width="0.94" fill="none" />
<ellipse cx="397.6" cy="358.1" rx="1.82" ry="2.45" stroke="#1e1e1e" stroke-width="0.94" fill="none" />
<ellipse cx="397.6" cy="367.8" rx="1.82" ry="2.45" stroke="#1e1e1e" stroke-width="0.94" fill="none" />
<ellipse cx="397.6" cy="377.5" rx="1.82" ry="2.45" stroke="#1e1e1e" stroke-width="0.94" fill="none" />
<ellipse cx="397.6" cy="387.2" rx="1.82" ry="2.45" stroke="#1e1e1e" stroke-width="0.94" fill="none" />
<ellipse cx="397.6" cy="396.9" rx="1.82" ry="2.45" stroke="#1e1e1e" stroke-width="0.94" fill="none" />
<ellipse cx="397.6" cy="406.6" rx="1.82" ry="2.45" stroke="#1e1e1e" stroke-width="0.94" fill="none" />
<ellipse cx="397.6" cy="416.3" rx="1.82" ry="2.45" stroke="#1e1e1e" stroke-width="0.94" fill="none" />
<ellipse cx="397.6" cy="426" rx="1.82" ry="2.45" stroke="#1e1e1e" stroke-width="0.94" fill="none" />
<ellipse cx="397.6" cy="435.7" rx="1.82" ry="2.45" stroke="#1e1e1e" stroke-width="0.94" fill="none" />
<ellipse cx="397.6" cy="445.4" rx="1.82" ry="2.45" stroke="#1e1e1e" stroke-width="0.94" fill="none" />
<ellipse cx="397.6" cy="455.1" rx="1.82" ry="2.45" stroke="#1e1e1e" stroke-width="0.94" fill="none" />
<ellipse cx="397.6" cy="464.8" rx="1.82" ry="2.45" stroke="#1e1e1e" stroke-width="0.94" fill="none" />
<ellipse cx="397.6" cy="474.5" rx="1.82" ry="2.45" stroke="#1e1e1e" stroke-width="0.94" fill="none" />
<ellipse cx="405.66" cy="333.85" rx="2.09" ry="2.45" stroke="#1e1e1e" stroke-width="0.94" fill="none" />
<ellipse cx="405.66" cy="343.55" rx="2.09" ry="2.45" stroke="#1e1e1e" stroke-width="0.94" fill="none" />
<ellipse cx="405.66" cy="353.25" rx="2.09" ry="2.45" stroke="#1e1e1e" stroke-width="0.94" fill="none" />
<ellipse cx="405.66" cy="362.95" rx="2.09" ry="2.45" stroke="#1e1e1e" stroke-width="0.94" fill="none" />
<ellipse cx="405.66" cy="372.65" rx="2.09" ry="2.45" stroke="#1e1e1e" stroke-width="0.94" fill="none" />
<ellipse cx="405.66" cy="382.35" rx="2.09" ry="2.45" stroke="#1e1e1e" stroke-width="0.94" fill="none" />
<ellipse cx="405.66" cy="392.05" rx="2.09" ry="2.45" stroke="#1e1e1e" stroke-width="0.94" fill="none" />
<ellipse cx="405.66" cy="401.75" rx="2.09" ry="2.45" stroke="#1e1e1e" stroke-width="0.94" fill="none" />
<ellipse cx="405.66" cy="411.45" rx="2.09" ry="2.45" stroke="#1e1e1e" stroke-width="0.94" fill="none" />
<ellipse cx="405.66" cy="421.15" rx="2.09" ry="2.45" stroke="#1e1e1e" stroke-width="0.94" fill="none" />
<ellipse cx="405.66" cy="430.85" rx="2.09" ry="2.45" stroke="#1e1e1e" stroke-width="0.94" fill="none" />
<ellipse cx="405.66" cy="440.55" rx="2.09" ry="2.45" stroke="#1e1e1e" stroke-width="0.94" fill="none" />
<ellipse cx="405.66" cy="450.25" rx="2.09" ry="2.45" stroke="#1e1e1e" stroke-width="0.94" fill="none" />
<ellipse cx="405.66" cy="459.95" rx="2.09" ry="2.45" stroke="#1e1e1e" stroke-width="0.94" fill="none" />
<ellipse cx="405.66" cy="469.65" rx="2.09" ry="2.45" stroke="#1e1e1e" stroke-width="0.94" fill="none" />
<ellipse cx="414.69" cy="338.7" rx="2.29" ry="2.45" stroke="#1e1e1e" stroke-width="0.94" fill="none" />
<ellipse cx="414.69" cy="348.4" rx="2.29" ry="2.45" stroke="#1e1e1e" stroke-width="0.94" fill="none" />
<ellipse cx="414.69" cy="358.1" rx="2.29" ry="2.45" stroke="#1e1e1e" stroke-width="0.94" fill="none" />
<ellipse cx="414.69" cy="367.8" rx="2.29" ry="2.45" stroke="#1e1e1e" stroke-width="0.94" fill="none" />
<ellipse cx="414.69" cy="377.5" rx="2.29" ry="2.45" stroke="#1e1e1e" stroke-width="0.94" fill="none" />
<ellipse cx="414.69" cy="387.2" rx="2.29" ry="2.45" stroke="#1e1e1e" stroke-width="0.94" fill="none" />
<ellipse cx="414.69" cy="396.9" rx="2.29" ry="2.45" stroke="#1e1e1e" stroke-width="0.94" fill="none" />
<ellipse cx="414.69" cy="406.6" rx="2.29" ry="2.45" stroke="#1e1e1e" stroke-width="0.94" fill="none" />
<ellipse cx="414.69" cy="416.3" rx="2.29" ry="2.45" stroke="#1e1e1e" stroke-width="0.94" fill="none" />
<ellipse cx="414.69" cy="426" rx="2.29" ry="2.45" stroke="#1e1e1e" stroke-width="0.94" fill="none" />
<ellipse cx="414.69" cy="435.7" rx="2.29" ry="2.45" stroke="#1e1e1e" stroke-width="0.94" fill="none" />
<ellipse cx="414.69" cy="445.4" rx="2.29" ry="2.45" stroke="#1e1e1e" stroke-width="0.94" fill="none" />
<ellipse cx="414.69" cy="455.1" rx="2.29" ry="2.45" stroke="#1e1e1e" stroke-width="0.94" fill="none" />
<ellipse cx="414.69" cy="464.8" rx="2.29" ry="2.45" stroke="#1e1e1e" stroke-width="0.94" fill="none" />
<ellipse cx="414.69" cy="474.5" rx="2.29" ry="2.45" stroke="#1e1e1e" stroke-width="0.94" fill="none" />
<ellipse cx="424.38" cy="333.85" rx="2.41" ry="2.45" stroke="#1e1e1e" stroke-width="0.94" fill="none" />
<ellipse cx="424.38" cy="343.55" rx="2.41" ry="2.45" stroke="#1e1e1e" stroke-width="0.94" fill="none" />
<ellipse cx="424.38" cy="353.25" rx="2.41" ry="2.45" stroke="#1e1e1e" stroke-width="0.94" fill="none" />
<ellipse cx="424.38" cy="362.95" rx="2.41" ry="2.45" stroke="#1e1e1e" stroke-width="0.94" fill="none" />
<ellipse cx="424.38" cy="372.65" rx="2.41" ry="2.45" stroke="#1e1e1e" stroke-width="0.94" fill="none" />
<ellipse cx="424.38" cy="382.35" rx="2.41" ry="2.45" stroke="#1e1e1e" stroke-width="0.94" fill="none" />
<ellipse cx="424.38" cy="392.05" rx="2.41" ry="2.45" stroke="#1e1e1e" stroke-width="0.94" fill="none" />
<ellipse cx="424.38" cy="401.75" rx="2.41" ry="2.45" stroke="#1e1e1e" stroke-width="0.94" fill="none" />
<ellipse cx="424.38" cy="411.45" rx="2.41" ry="2.45" stroke="#1e1e1e" stroke-width="0.94" fill="none" />
<ellipse cx="424.38" cy="421.15" rx="2.41" ry="2.45" stroke="#1e1e1e" stroke-width="0.94" fill="none" />
<ellipse cx="424.38" cy="430.85" rx="2.41" ry="2.45" stroke="#1e1e1e" stroke-width="0.94" fill="none" />
<ellipse cx="424.38" cy="440.55" rx="2.41" ry="2.45" stroke="#1e1e1e" stroke-width="0.94" fill="none" />
<ellipse cx="424.38" cy="450.25" rx="2.41" ry="2.45" stroke="#1e1e1e" stroke-width="0.94" fill="none" />
<ellipse cx="424.38" cy="459.95" rx="2.41" ry="2.45" stroke="#1e1e1e" stroke-width="0.94" fill="none" />
<ellipse cx="424.38" cy="469.65" rx="2.41" ry="2.45" stroke="#1e1e1e" stroke-width="0.94" fill="none" />
<ellipse cx="434.4" cy="338.7" rx="2.45" ry="2.45" stroke="#1e1e1e" stroke-width="0.94" fill="none" />
<ellipse cx="434.4" cy="348.4" rx="2.45" ry="2.45" stroke="#1e1e1e" stroke-width="0.94" fill="none" />
<ellipse cx="434.4" cy="358.1" rx="2.45" ry="2.45" stroke="#1e1e1e" stroke-width="0.94" fill="none" />
<ellipse cx="434.4" cy="367.8" rx="2.45" ry="2.45" stroke="#1e1e1e" stroke-width="0.94" fill="none" />
<ellipse cx="434.4" cy="377.5" rx="2.45" ry="2.45" stroke="#1e1e1e" stroke-width="0.94" fill="none" />
<ellipse cx="434.4" cy="387.2" rx="2.45" ry="2.45" stroke="#1e1e1e" stroke-width="0.94" fill="none" />
<ellipse cx="434.4" cy="396.9" rx="2.45" ry="2.45" stroke="#1e1e1e" stroke-width="0.94" fill="none" />
<ellipse cx="434.4" cy="406.6" rx="2.45" ry="2.45" stroke="#1e1e1e" stroke-width="0.94" fill="none" />
<ellipse cx="434.4" cy="416.3" rx="2.45" ry="2.45" stroke="#1e1e1e" stroke-width="0.94" fill="none" />
<ellipse cx="434.4" cy="426" rx="2.45" ry="2.45" stroke="#1e1e1e" stroke-width="0.94" fill="none" />
<ellipse cx="434.4" cy="435.7" rx="2.45" ry="2.45" stroke="#1e1e1e" stroke-width="0.94" fill="none" />
<ellipse cx="434.4" cy="445.4" rx="2.45" ry="2.45" stroke="#1e1e1e" stroke-width="0.94" fill="none" />
<ellipse cx="434.4" cy="455.1" rx="2.45" ry="2.45" stroke="#1e1e1e" stroke-width="0.94" fill="none" />
<ellipse cx="434.4" cy="464.8" rx="2.45" ry="2.45" stroke="#1e1e1e" stroke-width="0.94" fill="none" />
<ellipse cx="434.4" cy="474.5" rx="2.45" ry="2.45" stroke="#1e1e1e" stroke-width="0.94" fill="none" />
<ellipse cx="444.42" cy="333.85" rx="2.41" ry="2.45" stroke="#1e1e1e" stroke-width="0.94" fill="none" />
<ellipse cx="444.42" cy="343.55" rx="2.41" ry="2.45" stroke="#1e1e1e" stroke-width="0.94" fill="none" />
<ellipse cx="444.42" cy="353.25" rx="2.41" ry="2.45" stroke="#1e1e1e" stroke-width="0.94" fill="none" />
<ellipse cx="444.42" cy="362.95" rx="2.41" ry="2.45" stroke="#1e1e1e" stroke-width="0.94" fill="none" />
<ellipse cx="444.42" cy="372.65" rx="2.41" ry="2.45" stroke="#1e1e1e" stroke-width="0.94" fill="none" />
<ellipse cx="444.42" cy="382.35" rx="2.41" ry="2.45" stroke="#1e1e1e" stroke-width="0.94" fill="none" />
<ellipse cx="444.42" cy="392.05" rx="2.41" ry="2.45" stroke="#1e1e1e" stroke-width="0.94" fill="none" />
<ellipse cx="444.42" cy="401.75" rx="2.41" ry="2.45" stroke="#1e1e1e" stroke-width="0.94" fill="none" />
<ellipse cx="444.42" cy="411.45" rx="2.41" ry="2.45" stroke="#1e1e1e" stroke-width="0.94" fill="none" />
<ellipse cx="444.42" cy="421.15" rx="2.41" ry="2.45" stroke="#1e1e1e" stroke-width="0.94" fill="none" />
<ellipse cx="444.42" cy="430.85" rx="2.41" ry="2.45" stroke="#1e1e1e" stroke-width="0.94" fill="none" />
<ellipse cx="444.42" cy="440.55" rx="2.41" ry="2.45" stroke="#1e1e1e" stroke-width="0.94" fill="none" />
<ellipse cx="444.42" cy="450.25" rx="2.41" ry="2.45" stroke="#1e1e1e" stroke-width="0.94" fill="none" />
<ellipse cx="444.42" cy="459.95" rx="2.41" ry="2.45" stroke="#1e1e1e" stroke-width="0.94" fill="none" />
<ellipse cx="444.42" cy="469.65" rx="2.41" ry="2.45" stroke="#1e1e1e" stroke-width="0.94" fill="none" />
<ellipse cx="454.11" cy="338.7" rx="2.29" ry="2.45" stroke="#1e1e1e" stroke-width="0.94" fill="none" />
<ellipse cx="454.11" cy="348.4" rx="2.29" ry="2.45" stroke="#1e1e1e" stroke-width="0.94" fill="none" />
<ellipse cx="454.11" cy="358.1" rx="2.29" ry="2.45" stroke="#1e1e1e" stroke-width="0.94" fill="none" />
<ellipse cx="454.11" cy="367.8" rx="2.29" ry="2.45" stroke="#1e1e1e" stroke-width="0.94" fill="none" />
<ellipse cx="454.11" cy="377.5" rx="2.29" ry="2.45" stroke="#1e1e1e" stroke-width="0.94" fill="none" />
<ellipse cx="454.11" cy="387.2" rx="2.29" ry="2.45" stroke="#1e1e1e" stroke-width="0.94" fill="none" />
<ellipse cx="454.11" cy="396.9" rx="2.29" ry="2.45" stroke="#1e1e1e" stroke-width="0.94" fill="none" />
<ellipse cx="454.11" cy="406.6" rx="2.29" ry="2.45" stroke="#1e1e1e" stroke-width="0.94" fill="none" />
<ellipse cx="454.11" cy="416.3" rx="2.29" ry="2.45" stroke="#1e1e1e" stroke-width="0.94" fill="none" />
<ellipse cx="454.11" cy="426" rx="2.29" ry="2.45" stroke="#1e1e1e" stroke-width="0.94" fill="none" />
<ellipse cx="454.11" cy="435.7" rx="2.29" ry="2.45" stroke="#1e1e1e" stroke-width="0.94" fill="none" />
<ellipse cx="454.11" cy="445.4" rx="2.29" ry="2.45" stroke="#1e1e1e" stroke-width="0.94" fill="none" />
<ellipse cx="454.11" cy="455.1" rx="2.29" ry="2.45" stroke="#1e1e1e" stroke-width="0.94" fill="none" />
<ellipse cx="454.11" cy="464.8" rx="2.29" ry="2.45" stroke="#1e1e1e" stroke-width="0.94" fill="none" />
<ellipse cx="454.11" cy="474.5" rx="2.29" ry="2.45" stroke="#1e1e1e" stroke-width="0.94" fill="none" />
<ellipse cx="463.14" cy="333.85" rx="2.09" ry="2.45" stroke="#1e1e1e" stroke-width="0.94" fill="none" />
<ellipse cx="463.14" cy="343.55" rx="2.09" ry="2.45" stroke="#1e1e1e" stroke-width="0.94" fill="none" />
<ellipse cx="463.14" cy="353.25" rx="2.09" ry="2.45" stroke="#1e1e1e" stroke-width="0.94" fill="none" />
<ellipse cx="463.14" cy="362.95" rx="2.09" ry="2.45" stroke="#1e1e1e" stroke-width="0.94" fill="none" />
<ellipse cx="463.14" cy="372.65" rx="2.09" ry="2.45" stroke="#1e1e1e" stroke-width="0.94" fill="none" />
<ellipse cx="463.14" cy="382.35" rx="2.09" ry="2.45" stroke="#1e1e1e" stroke-width="0.94" fill="none" />
<ellipse cx="463.14" cy="392.05" rx="2.09" ry="2.45" stroke="#1e1e1e" stroke-width="0.94" fill="none" />
<ellipse cx="463.14" cy="401.75" rx="2.09" ry="2.45" stroke="#1e1e1e" stroke-width="0.94" fill="none" />
<ellipse cx="463.14" cy="411.45" rx="2.09" ry="2.45" stroke="#1e1e1e" stroke-width="0.94" fill="none" />
<ellipse cx="463.14" cy="421.15" rx="2.09" ry="2.45" stroke="#1e1e1e" stroke-width="0.94" fill="none" />
<ellipse cx="463.14" cy="430.85" rx="2.09" ry="2.45" stroke="#1e1e1e" stroke-width="0.94" fill="none" />
<ellipse cx="463.14" cy="440.55" rx="2.09" ry="2.45" stroke="#1e1e1e" stroke-width="0.94" fill="none" />
<ellipse cx="463.14" cy="450.25" rx="2.09" ry="2.45" stroke="#1e1e1e" stroke-width="0.94" fill="none" />
<ellipse cx="463.14" cy="459.95" rx="2.09" ry="2.45" stroke="#1e1e1e" stroke-width="0.94" fill="none" />
<ellipse cx="463.14" cy="469.65" rx="2.09" ry="2.45" stroke="#1e1e1e" stroke-width="0.94" fill="none" />
<ellipse cx="471.2" cy="338.7" rx="1.82" ry="2.45" stroke="#1e1e1e" stroke-width="0.94" fill="none" />
<ellipse cx="471.2" cy="348.4" rx="1.82" ry="2.45" stroke="#1e1e1e" stroke-width="0.94" fill="none" />
<ellipse cx="471.2" cy="358.1" rx="1.82" ry="2.45" stroke="#1e1e1e" stroke-width="0.94" fill="none" />
<ellipse cx="471.2" cy="367.8" rx="1.82" ry="2.45" stroke="#1e1e1e" stroke-width="0.94" fill="none" />
<ellipse cx="471.2" cy="377.5" rx="1.82" ry="2.45" stroke="#1e1e1e" stroke-width="0.94" fill="none" />
<ellipse cx="471.2" cy="387.2" rx="1.82" ry="2.45" stroke="#1e1e1e" stroke-width="0.94" fill="none" />
<ellipse cx="471.2" cy="396.9" rx="1.82" ry="2.45" stroke="#1e1e1e" stroke-width="0.94" fill="none" />
<ellipse cx="471.2" cy="406.6" rx="1.82" ry="2.45" stroke="#1e1e1e" stroke-width="0.94" fill="none" />
<ellipse cx="471.2" cy="416.3" rx="1.82" ry="2.45" stroke="#1e1e1e" stroke-width="0.94" fill="none" />
<ellipse cx="471.2" cy="426" rx="1.82" ry="2.45" stroke="#1e1e1e" stroke-width="0.94" fill="none" />
<ellipse cx="471.2" cy="435.7" rx="1.82" ry="2.45" stroke="#1e1e1e" stroke-width="0.94" fill="none" />
<ellipse cx="471.2" cy="445.4" rx="1.82" ry="2.45" stroke="#1e1e1e" stroke-width="0.94" fill="none" />
<ellipse cx="471.2" cy="455.1" rx="1.82" ry="2.45" stroke="#1e1e1e" stroke-width="0.94" fill="none" />
<ellipse cx="471.2" cy="464.8" rx="1.82" ry="2.45" stroke="#1e1e1e" stroke-width="0.94" fill="none" />
<ellipse cx="471.2" cy="474.5" rx="1.82" ry="2.45" stroke="#1e1e1e" stroke-width="0.94" fill="none" />
<ellipse cx="478.03" cy="333.85" rx="1.49" ry="2.45" stroke="#1e1e1e" stroke-width="0.94" fill="none" />
<ellipse cx="478.03" cy="343.55" rx="1.49" ry="2.45" stroke="#1e1e1e" stroke-width="0.94" fill="none" />
<ellipse cx="478.03" cy="353.25" rx="1.49" ry="2.45" stroke="#1e1e1e" stroke-width="0.94" fill="none" />
<ellipse cx="478.03" cy="362.95" rx="1.49" ry="2.45" stroke="#1e1e1e" stroke-width="0.94" fill="none" />
<ellipse cx="478.03" cy="372.65" rx="1.49" ry="2.45" stroke="#1e1e1e" stroke-width="0.94" fill="none" />
<ellipse cx="478.03" cy="382.35" rx="1.49" ry="2.45" stroke="#1e1e1e" stroke-width="0.94" fill="none" />
<ellipse cx="478.03" cy="392.05" rx="1.49" ry="2.45" stroke="#1e1e1e" stroke-width="0.94" fill="none" />
<ellipse cx="478.03" cy="401.75" rx="1.49" ry="2.45" stroke="#1e1e1e" stroke-width="0.94" fill="none" />
<ellipse cx="478.03" cy="411.45" rx="1.49" ry="2.45" stroke="#1e1e1e" stroke-width="0.94" fill="none" />
<ellipse cx="478.03" cy="421.15" rx="1.49" ry="2.45" stroke="#1e1e1e" stroke-width="0.94" fill="none" />
<ellipse cx="478.03" cy="430.85" rx="1.49" ry="2.45" stroke="#1e1e1e" stroke-width="0.94" fill="none" />
<ellipse cx="478.03" cy="440.55" rx="1.49" ry="2.45" stroke="#1e1e1e" stroke-width="0.94" fill="none" />
<ellipse cx="478.03" cy="450.25" rx="1.49" ry="2.45" stroke="#1e1e1e" stroke-width="0.94" fill="none" />
<ellipse cx="478.03" cy="459.95" rx="1.49" ry="2.45" stroke="#1e1e1e" stroke-width="0.94" fill="none" />
<ellipse cx="478.03" cy="469.65" rx="1.49" ry="2.45" stroke="#1e1e1e" stroke-width="0.94" fill="none" />
<ellipse cx="483.41" cy="338.7" rx="1.11" ry="2.45" stroke="#1e1e1e" stroke-width="0.94" fill="none" />
<ellipse cx="483.41" cy="348.4" rx="1.11" ry="2.45" stroke="#1e1e1e" stroke-width="0.94" fill="none" />
<ellipse cx="483.41" cy="358.1" rx="1.11" ry="2.45" stroke="#1e1e1e" stroke-width="0.94" fill="none" />
<ellipse cx="483.41" cy="367.8" rx="1.11" ry="2.45" stroke="#1e1e1e" stroke-width="0.94" fill="none" />
<ellipse cx="483.41" cy="377.5" rx="1.11" ry="2.45" stroke="#1e1e1e" stroke-width="0.94" fill="none" />
<ellipse cx="483.41" cy="387.2" rx="1.11" ry="2.45" stroke="#1e1e1e" stroke-width="0.94" fill="none" />
<ellipse cx="483.41" cy="396.9" rx="1.11" ry="2.45" stroke="#1e1e1e" stroke-width="0.94" fill="none" />
<ellipse cx="483.41" cy="406.6" rx="1.11" ry="2.45" stroke="#1e1e1e" stroke-width="0.94" fill="none" />
<ellipse cx="483.41" cy="416.3" rx="1.11" ry="2.45" stroke="#1e1e1e" stroke-width="0.94" fill="none" />
<ellipse cx="483.41" cy="426" rx="1.11" ry="2.45" stroke="#1e1e1e" stroke-width="0.94" fill="none" />
<ellipse cx="483.41" cy="435.7" rx="1.11" ry="2.45" stroke="#1e1e1e" stroke-width="0.94" fill="none" />
<ellipse cx="483.41" cy="445.4" rx="1.11" ry="2.45" stroke="#1e1e1e" stroke-width="0.94" fill="none" />
<ellipse cx="483.41" cy="455.1" rx="1.11" ry="2.45" stroke="#1e1e1e" stroke-width="0.94" fill="none" />
<ellipse cx="483.41" cy="464.8" rx="1.11" ry="2.45" stroke="#1e1e1e" stroke-width="0.94" fill="none" />
<ellipse cx="483.41" cy="474.5" rx="1.11" ry="2.45" stroke="#1e1e1e" stroke-width="0.94" fill="none" />
<ellipse cx="487.14" cy="333.85" rx="0.7" ry="2.45" stroke="#1e1e1e" stroke-width="0.94" fill="none" />
<ellipse cx="487.14" cy="343.55" rx="0.7" ry="2.45" stroke="#1e1e1e" stroke-width="0.94" fill="none" />
<ellipse cx="487.14" cy="353.25" rx="0.7" ry="2.45" stroke="#1e1e1e" stroke-width="0.94" fill="none" />
<ellipse cx="487.14" cy="362.95" rx="0.7" ry="2.45" stroke="#1e1e1e" stroke-width="0.94" fill="none" />
<ellipse cx="487.14" cy="372.65" rx="0.7" ry="2.45" stroke="#1e1e1e" stroke-width="0.94" fill="none" />
<ellipse cx="487.14" cy="382.35" rx="0.7" ry="2.45" stroke="#1e1e1e" stroke-width="0.94" fill="none" />
<ellipse cx="487.14" cy="392.05" rx="0.7" ry="2.45" stroke="#1e1e1e" stroke-width="0.94" fill="none" />
<ellipse cx="487.14" cy="401.75" rx="0.7" ry="2.45" stroke="#1e1e1e" stroke-width="0.94" fill="none" />
<ellipse cx="487.14" cy="411.45" rx="0.7" ry="2.45" stroke="#1e1e1e" stroke-width="0.94" fill="none" />
<ellipse cx="487.14" cy="421.15" rx="0.7" ry="2.45" stroke="#1e1e1e" stroke-width="0.94" fill="none" />
<ellipse cx="487.14" cy="430.85" rx="0.7" ry="2.45" stroke="#1e1e1e" stroke-width="0.94" fill="none" />
<ellipse cx="487.14" cy="440.55" rx="0.7" ry="2.45" stroke="#1e1e1e" stroke-width="0.94" fill="none" />
<ellipse cx="487.14" cy="450.25" rx="0.7" ry="2.45" stroke="#1e1e1e" stroke-width="0.94" fill="none" />
<ellipse cx="487.14" cy="459.95" rx="0.7" ry="2.45" stroke="#1e1e1e" stroke-width="0.94" fill="none" />
<ellipse cx="487.14" cy="469.65" rx="0.7" ry="2.45" stroke="#1e1e1e" stroke-width="0.94" fill="none" />
</g>
<rect x="379.3" y="376.4" width="110.1" height="4.5" fill="#fff" stroke="#1a1a1a" stroke-width="0.8"/>
<rect x="379.3" y="405.2" width="110.1" height="4.5" fill="#fff" stroke="#1a1a1a" stroke-width="0.8"/>
<rect x="379.3" y="434.4" width="110.1" height="4.5" fill="#fff" stroke="#1a1a1a" stroke-width="0.8"/>
<rect x="379.3" y="463.8" width="110.1" height="4.5" fill="#fff" stroke="#1a1a1a" stroke-width="0.8"/>
<rect x="431.6" y="380.9" width="4.5" height="82.9" fill="#fff" stroke="#1a1a1a" stroke-width="0.8"/>
<rect x="379.3" y="469.5" width="110.1" height="8.4" fill="#fff" stroke="#1a1a1a" stroke-width="0.9"/>
<clipPath id="hbclip"><rect x="379.3" y="469.5" width="110.1" height="8.4"/></clipPath>
<g clip-path="url(#hbclip)">
<line x1="375" y1="477.9" x2="383.4" y2="469.5" stroke="#1a1a1a" stroke-width="0.86" />
<line x1="382.6" y1="477.9" x2="391" y2="469.5" stroke="#1a1a1a" stroke-width="0.86" />
<line x1="390.2" y1="477.9" x2="398.6" y2="469.5" stroke="#1a1a1a" stroke-width="0.86" />
<line x1="397.8" y1="477.9" x2="406.2" y2="469.5" stroke="#1a1a1a" stroke-width="0.86" />
<line x1="405.4" y1="477.9" x2="413.8" y2="469.5" stroke="#1a1a1a" stroke-width="0.86" />
<line x1="413" y1="477.9" x2="421.4" y2="469.5" stroke="#1a1a1a" stroke-width="0.86" />
<line x1="420.6" y1="477.9" x2="429" y2="469.5" stroke="#1a1a1a" stroke-width="0.86" />
<line x1="428.2" y1="477.9" x2="436.6" y2="469.5" stroke="#1a1a1a" stroke-width="0.86" />
<line x1="435.8" y1="477.9" x2="444.2" y2="469.5" stroke="#1a1a1a" stroke-width="0.86" />
<line x1="443.4" y1="477.9" x2="451.8" y2="469.5" stroke="#1a1a1a" stroke-width="0.86" />
<line x1="451" y1="477.9" x2="459.4" y2="469.5" stroke="#1a1a1a" stroke-width="0.86" />
<line x1="458.6" y1="477.9" x2="467" y2="469.5" stroke="#1a1a1a" stroke-width="0.86" />
<line x1="466.2" y1="477.9" x2="474.6" y2="469.5" stroke="#1a1a1a" stroke-width="0.86" />
<line x1="473.8" y1="477.9" x2="482.2" y2="469.5" stroke="#1a1a1a" stroke-width="0.86" />
<line x1="481.4" y1="477.9" x2="489.8" y2="469.5" stroke="#1a1a1a" stroke-width="0.86" />
<line x1="489" y1="477.9" x2="497.4" y2="469.5" stroke="#1a1a1a" stroke-width="0.86" />
</g>
<line x1="379.3" y1="478.3" x2="489.4" y2="478.3" stroke="#1a1a1a" stroke-width="0.92" />
<line x1="375.5" y1="341.5" x2="379.2" y2="338" stroke="#444" stroke-width="0.57" />
<line x1="375.5" y1="347.5" x2="379.2" y2="344" stroke="#444" stroke-width="0.57" />
<line x1="375.5" y1="353.5" x2="379.2" y2="350" stroke="#444" stroke-width="0.57" />
<line x1="375.5" y1="359.5" x2="379.2" y2="356" stroke="#444" stroke-width="0.57" />
<line x1="375.5" y1="365.5" x2="379.2" y2="362" stroke="#444" stroke-width="0.57" />
<line x1="375.5" y1="371.5" x2="379.2" y2="368" stroke="#444" stroke-width="0.57" />
<line x1="375.5" y1="377.5" x2="379.2" y2="374" stroke="#444" stroke-width="0.57" />
<line x1="375.5" y1="383.5" x2="379.2" y2="380" stroke="#444" stroke-width="0.57" />
<line x1="375.5" y1="389.5" x2="379.2" y2="386" stroke="#444" stroke-width="0.57" />
<line x1="375.5" y1="395.5" x2="379.2" y2="392" stroke="#444" stroke-width="0.57" />
<line x1="375.5" y1="401.5" x2="379.2" y2="398" stroke="#444" stroke-width="0.57" />
<line x1="375.5" y1="407.5" x2="379.2" y2="404" stroke="#444" stroke-width="0.57" />
<line x1="375.5" y1="413.5" x2="379.2" y2="410" stroke="#444" stroke-width="0.57" />
<line x1="375.5" y1="419.5" x2="379.2" y2="416" stroke="#444" stroke-width="0.57" />
<line x1="375.5" y1="425.5" x2="379.2" y2="422" stroke="#444" stroke-width="0.57" />
<line x1="375.5" y1="431.5" x2="379.2" y2="428" stroke="#444" stroke-width="0.57" />
<line x1="375.5" y1="437.5" x2="379.2" y2="434" stroke="#444" stroke-width="0.57" />
<line x1="375.5" y1="443.5" x2="379.2" y2="440" stroke="#444" stroke-width="0.57" />
<line x1="375.5" y1="449.5" x2="379.2" y2="446" stroke="#444" stroke-width="0.57" />
<line x1="375.5" y1="455.5" x2="379.2" y2="452" stroke="#444" stroke-width="0.57" />
<line x1="375.5" y1="461.5" x2="379.2" y2="458" stroke="#444" stroke-width="0.57" />
<line x1="375.5" y1="467.5" x2="379.2" y2="464" stroke="#444" stroke-width="0.57" />
<line x1="375.5" y1="473.5" x2="379.2" y2="470" stroke="#444" stroke-width="0.57" />
<line x1="375.5" y1="479.5" x2="379.2" y2="476" stroke="#444" stroke-width="0.57" />
<line x1="375.5" y1="485.5" x2="379.2" y2="482" stroke="#444" stroke-width="0.57" />
<line x1="489.4" y1="341.5" x2="493.1" y2="338" stroke="#444" stroke-width="0.57" />
<line x1="489.4" y1="347.5" x2="493.1" y2="344" stroke="#444" stroke-width="0.57" />
<line x1="489.4" y1="353.5" x2="493.1" y2="350" stroke="#444" stroke-width="0.57" />
<line x1="489.4" y1="359.5" x2="493.1" y2="356" stroke="#444" stroke-width="0.57" />
<line x1="489.4" y1="365.5" x2="493.1" y2="362" stroke="#444" stroke-width="0.57" />
<line x1="489.4" y1="371.5" x2="493.1" y2="368" stroke="#444" stroke-width="0.57" />
<line x1="489.4" y1="377.5" x2="493.1" y2="374" stroke="#444" stroke-width="0.57" />
<line x1="489.4" y1="383.5" x2="493.1" y2="380" stroke="#444" stroke-width="0.57" />
<line x1="489.4" y1="389.5" x2="493.1" y2="386" stroke="#444" stroke-width="0.57" />
<line x1="489.4" y1="395.5" x2="493.1" y2="392" stroke="#444" stroke-width="0.57" />
<line x1="489.4" y1="401.5" x2="493.1" y2="398" stroke="#444" stroke-width="0.57" />
<line x1="489.4" y1="407.5" x2="493.1" y2="404" stroke="#444" stroke-width="0.57" />
<line x1="489.4" y1="413.5" x2="493.1" y2="410" stroke="#444" stroke-width="0.57" />
<line x1="489.4" y1="419.5" x2="493.1" y2="416" stroke="#444" stroke-width="0.57" />
<line x1="489.4" y1="425.5" x2="493.1" y2="422" stroke="#444" stroke-width="0.57" />
<line x1="489.4" y1="431.5" x2="493.1" y2="428" stroke="#444" stroke-width="0.57" />
<line x1="489.4" y1="437.5" x2="493.1" y2="434" stroke="#444" stroke-width="0.57" />
<line x1="489.4" y1="443.5" x2="493.1" y2="440" stroke="#444" stroke-width="0.57" />
<line x1="489.4" y1="449.5" x2="493.1" y2="446" stroke="#444" stroke-width="0.57" />
<line x1="489.4" y1="455.5" x2="493.1" y2="452" stroke="#444" stroke-width="0.57" />
<line x1="489.4" y1="461.5" x2="493.1" y2="458" stroke="#444" stroke-width="0.57" />
<line x1="489.4" y1="467.5" x2="493.1" y2="464" stroke="#444" stroke-width="0.57" />
<line x1="489.4" y1="473.5" x2="493.1" y2="470" stroke="#444" stroke-width="0.57" />
<line x1="489.4" y1="479.5" x2="493.1" y2="476" stroke="#444" stroke-width="0.57" />
<line x1="489.4" y1="485.5" x2="493.1" y2="482" stroke="#444" stroke-width="0.57" />
<circle cx="186.7" cy="613" r="77.6" stroke="#1a1a1a" stroke-width="1.15" fill="none" />
<circle cx="186.7" cy="613" r="58.2" stroke="#1a1a1a" stroke-width="1.38" fill="none" />
<circle cx="186.7" cy="613" r="56" stroke="#777" stroke-width="2.76" fill="none" />
<circle cx="186.7" cy="613" r="53.5" stroke="#1a1a1a" stroke-width="0.8" fill="none" stroke-dasharray="3,1.5"/>
<clipPath id="bvclip"><circle cx="186.7" cy="613" r="56"/></clipPath>
<circle cx="138.2" cy="593.6" r="2.6" stroke="#262626" stroke-width="0.94" fill="none" clip-path="url(#bvclip)"/>
<circle cx="138.2" cy="603.3" r="2.6" stroke="#262626" stroke-width="0.94" fill="none" clip-path="url(#bvclip)"/>
<circle cx="138.2" cy="622.7" r="2.6" stroke="#262626" stroke-width="0.94" fill="none" clip-path="url(#bvclip)"/>
<circle cx="138.2" cy="632.4" r="2.6" stroke="#262626" stroke-width="0.94" fill="none" clip-path="url(#bvclip)"/>
<circle cx="147.9" cy="574.2" r="2.6" stroke="#262626" stroke-width="0.94" fill="none" clip-path="url(#bvclip)"/>
<circle cx="147.9" cy="583.9" r="2.6" stroke="#262626" stroke-width="0.94" fill="none" clip-path="url(#bvclip)"/>
<circle cx="147.9" cy="593.6" r="2.6" stroke="#262626" stroke-width="0.94" fill="none" clip-path="url(#bvclip)"/>
<circle cx="147.9" cy="603.3" r="2.6" stroke="#262626" stroke-width="0.94" fill="none" clip-path="url(#bvclip)"/>
<circle cx="147.9" cy="622.7" r="2.6" stroke="#262626" stroke-width="0.94" fill="none" clip-path="url(#bvclip)"/>
<circle cx="147.9" cy="632.4" r="2.6" stroke="#262626" stroke-width="0.94" fill="none" clip-path="url(#bvclip)"/>
<circle cx="147.9" cy="642.1" r="2.6" stroke="#262626" stroke-width="0.94" fill="none" clip-path="url(#bvclip)"/>
<circle cx="147.9" cy="651.8" r="2.6" stroke="#262626" stroke-width="0.94" fill="none" clip-path="url(#bvclip)"/>
<circle cx="157.6" cy="574.2" r="2.6" stroke="#262626" stroke-width="0.94" fill="none" clip-path="url(#bvclip)"/>
<circle cx="157.6" cy="583.9" r="2.6" stroke="#262626" stroke-width="0.94" fill="none" clip-path="url(#bvclip)"/>
<circle cx="157.6" cy="593.6" r="2.6" stroke="#262626" stroke-width="0.94" fill="none" clip-path="url(#bvclip)"/>
<circle cx="157.6" cy="603.3" r="2.6" stroke="#262626" stroke-width="0.94" fill="none" clip-path="url(#bvclip)"/>
<circle cx="157.6" cy="622.7" r="2.6" stroke="#262626" stroke-width="0.94" fill="none" clip-path="url(#bvclip)"/>
<circle cx="157.6" cy="632.4" r="2.6" stroke="#262626" stroke-width="0.94" fill="none" clip-path="url(#bvclip)"/>
<circle cx="157.6" cy="642.1" r="2.6" stroke="#262626" stroke-width="0.94" fill="none" clip-path="url(#bvclip)"/>
<circle cx="157.6" cy="651.8" r="2.6" stroke="#262626" stroke-width="0.94" fill="none" clip-path="url(#bvclip)"/>
<circle cx="167.3" cy="564.5" r="2.6" stroke="#262626" stroke-width="0.94" fill="none" clip-path="url(#bvclip)"/>
<circle cx="167.3" cy="574.2" r="2.6" stroke="#262626" stroke-width="0.94" fill="none" clip-path="url(#bvclip)"/>
<circle cx="167.3" cy="583.9" r="2.6" stroke="#262626" stroke-width="0.94" fill="none" clip-path="url(#bvclip)"/>
<circle cx="167.3" cy="593.6" r="2.6" stroke="#262626" stroke-width="0.94" fill="none" clip-path="url(#bvclip)"/>
<circle cx="167.3" cy="603.3" r="2.6" stroke="#262626" stroke-width="0.94" fill="none" clip-path="url(#bvclip)"/>
<circle cx="167.3" cy="622.7" r="2.6" stroke="#262626" stroke-width="0.94" fill="none" clip-path="url(#bvclip)"/>
<circle cx="167.3" cy="632.4" r="2.6" stroke="#262626" stroke-width="0.94" fill="none" clip-path="url(#bvclip)"/>
<circle cx="167.3" cy="642.1" r="2.6" stroke="#262626" stroke-width="0.94" fill="none" clip-path="url(#bvclip)"/>
<circle cx="167.3" cy="651.8" r="2.6" stroke="#262626" stroke-width="0.94" fill="none" clip-path="url(#bvclip)"/>
<circle cx="167.3" cy="661.5" r="2.6" stroke="#262626" stroke-width="0.94" fill="none" clip-path="url(#bvclip)"/>
<circle cx="177" cy="564.5" r="2.6" stroke="#262626" stroke-width="0.94" fill="none" clip-path="url(#bvclip)"/>
<circle cx="177" cy="574.2" r="2.6" stroke="#262626" stroke-width="0.94" fill="none" clip-path="url(#bvclip)"/>
<circle cx="177" cy="583.9" r="2.6" stroke="#262626" stroke-width="0.94" fill="none" clip-path="url(#bvclip)"/>
<circle cx="177" cy="593.6" r="2.6" stroke="#262626" stroke-width="0.94" fill="none" clip-path="url(#bvclip)"/>
<circle cx="177" cy="603.3" r="2.6" stroke="#262626" stroke-width="0.94" fill="none" clip-path="url(#bvclip)"/>
<circle cx="177" cy="622.7" r="2.6" stroke="#262626" stroke-width="0.94" fill="none" clip-path="url(#bvclip)"/>
<circle cx="177" cy="632.4" r="2.6" stroke="#262626" stroke-width="0.94" fill="none" clip-path="url(#bvclip)"/>
<circle cx="177" cy="642.1" r="2.6" stroke="#262626" stroke-width="0.94" fill="none" clip-path="url(#bvclip)"/>
<circle cx="177" cy="651.8" r="2.6" stroke="#262626" stroke-width="0.94" fill="none" clip-path="url(#bvclip)"/>
<circle cx="177" cy="661.5" r="2.6" stroke="#262626" stroke-width="0.94" fill="none" clip-path="url(#bvclip)"/>
<circle cx="196.4" cy="564.5" r="2.6" stroke="#262626" stroke-width="0.94" fill="none" clip-path="url(#bvclip)"/>
<circle cx="196.4" cy="574.2" r="2.6" stroke="#262626" stroke-width="0.94" fill="none" clip-path="url(#bvclip)"/>
<circle cx="196.4" cy="583.9" r="2.6" stroke="#262626" stroke-width="0.94" fill="none" clip-path="url(#bvclip)"/>
<circle cx="196.4" cy="593.6" r="2.6" stroke="#262626" stroke-width="0.94" fill="none" clip-path="url(#bvclip)"/>
<circle cx="196.4" cy="603.3" r="2.6" stroke="#262626" stroke-width="0.94" fill="none" clip-path="url(#bvclip)"/>
<circle cx="196.4" cy="622.7" r="2.6" stroke="#262626" stroke-width="0.94" fill="none" clip-path="url(#bvclip)"/>
<circle cx="196.4" cy="632.4" r="2.6" stroke="#262626" stroke-width="0.94" fill="none" clip-path="url(#bvclip)"/>
<circle cx="196.4" cy="642.1" r="2.6" stroke="#262626" stroke-width="0.94" fill="none" clip-path="url(#bvclip)"/>
<circle cx="196.4" cy="651.8" r="2.6" stroke="#262626" stroke-width="0.94" fill="none" clip-path="url(#bvclip)"/>
<circle cx="196.4" cy="661.5" r="2.6" stroke="#262626" stroke-width="0.94" fill="none" clip-path="url(#bvclip)"/>
<circle cx="206.1" cy="564.5" r="2.6" stroke="#262626" stroke-width="0.94" fill="none" clip-path="url(#bvclip)"/>
<circle cx="206.1" cy="574.2" r="2.6" stroke="#262626" stroke-width="0.94" fill="none" clip-path="url(#bvclip)"/>
<circle cx="206.1" cy="583.9" r="2.6" stroke="#262626" stroke-width="0.94" fill="none" clip-path="url(#bvclip)"/>
<circle cx="206.1" cy="593.6" r="2.6" stroke="#262626" stroke-width="0.94" fill="none" clip-path="url(#bvclip)"/>
<circle cx="206.1" cy="603.3" r="2.6" stroke="#262626" stroke-width="0.94" fill="none" clip-path="url(#bvclip)"/>
<circle cx="206.1" cy="622.7" r="2.6" stroke="#262626" stroke-width="0.94" fill="none" clip-path="url(#bvclip)"/>
<circle cx="206.1" cy="632.4" r="2.6" stroke="#262626" stroke-width="0.94" fill="none" clip-path="url(#bvclip)"/>
<circle cx="206.1" cy="642.1" r="2.6" stroke="#262626" stroke-width="0.94" fill="none" clip-path="url(#bvclip)"/>
<circle cx="206.1" cy="651.8" r="2.6" stroke="#262626" stroke-width="0.94" fill="none" clip-path="url(#bvclip)"/>
<circle cx="206.1" cy="661.5" r="2.6" stroke="#262626" stroke-width="0.94" fill="none" clip-path="url(#bvclip)"/>
<circle cx="215.8" cy="574.2" r="2.6" stroke="#262626" stroke-width="0.94" fill="none" clip-path="url(#bvclip)"/>
<circle cx="215.8" cy="583.9" r="2.6" stroke="#262626" stroke-width="0.94" fill="none" clip-path="url(#bvclip)"/>
<circle cx="215.8" cy="593.6" r="2.6" stroke="#262626" stroke-width="0.94" fill="none" clip-path="url(#bvclip)"/>
<circle cx="215.8" cy="603.3" r="2.6" stroke="#262626" stroke-width="0.94" fill="none" clip-path="url(#bvclip)"/>
<circle cx="215.8" cy="622.7" r="2.6" stroke="#262626" stroke-width="0.94" fill="none" clip-path="url(#bvclip)"/>
<circle cx="215.8" cy="632.4" r="2.6" stroke="#262626" stroke-width="0.94" fill="none" clip-path="url(#bvclip)"/>
<circle cx="215.8" cy="642.1" r="2.6" stroke="#262626" stroke-width="0.94" fill="none" clip-path="url(#bvclip)"/>
<circle cx="215.8" cy="651.8" r="2.6" stroke="#262626" stroke-width="0.94" fill="none" clip-path="url(#bvclip)"/>
<circle cx="225.5" cy="574.2" r="2.6" stroke="#262626" stroke-width="0.94" fill="none" clip-path="url(#bvclip)"/>
<circle cx="225.5" cy="583.9" r="2.6" stroke="#262626" stroke-width="0.94" fill="none" clip-path="url(#bvclip)"/>
<circle cx="225.5" cy="593.6" r="2.6" stroke="#262626" stroke-width="0.94" fill="none" clip-path="url(#bvclip)"/>
<circle cx="225.5" cy="603.3" r="2.6" stroke="#262626" stroke-width="0.94" fill="none" clip-path="url(#bvclip)"/>
<circle cx="225.5" cy="622.7" r="2.6" stroke="#262626" stroke-width="0.94" fill="none" clip-path="url(#bvclip)"/>
<circle cx="225.5" cy="632.4" r="2.6" stroke="#262626" stroke-width="0.94" fill="none" clip-path="url(#bvclip)"/>
<circle cx="225.5" cy="642.1" r="2.6" stroke="#262626" stroke-width="0.94" fill="none" clip-path="url(#bvclip)"/>
<circle cx="225.5" cy="651.8" r="2.6" stroke="#262626" stroke-width="0.94" fill="none" clip-path="url(#bvclip)"/>
<circle cx="235.2" cy="593.6" r="2.6" stroke="#262626" stroke-width="0.94" fill="none" clip-path="url(#bvclip)"/>
<circle cx="235.2" cy="603.3" r="2.6" stroke="#262626" stroke-width="0.94" fill="none" clip-path="url(#bvclip)"/>
<circle cx="235.2" cy="622.7" r="2.6" stroke="#262626" stroke-width="0.94" fill="none" clip-path="url(#bvclip)"/>
<circle cx="235.2" cy="632.4" r="2.6" stroke="#262626" stroke-width="0.94" fill="none" clip-path="url(#bvclip)"/>
<rect x="110.6" y="603.6" width="152.4" height="19.2" rx="5" fill="none" stroke="#333" stroke-width="0.85" stroke-dasharray="5.5,2.2"/>
<rect x="128.3" y="609.8" width="116.4" height="7" fill="#222"/>
<rect x="184.1" y="555" width="6" height="116.5" fill="#111"/>
<polyline points="244.6,617.8 289.9,640.5 294.7,640.5" stroke="#1a1a1a" stroke-width="0.92" fill="none" />
<text x="348.1" y="634.6" font-size="8.4" text-anchor="middle" font-weight="normal" fill="#1a1a1a" textLength="88.7" lengthAdjust="spacingAndGlyphs"  stroke="#1a1a1a" stroke-width="0.24">CROSS BAR SUPPORT</text>
<text x="348.1" y="643.7" font-size="8.4" text-anchor="middle" font-weight="normal" fill="#1a1a1a" textLength="103.6" lengthAdjust="spacingAndGlyphs"  stroke="#1a1a1a" stroke-width="0.24">WELDED AT THE BOTTOM</text>
<text x="348.1" y="652.8" font-size="8.4" text-anchor="middle" font-weight="normal" fill="#1a1a1a" textLength="63.8" lengthAdjust="spacingAndGlyphs"  stroke="#1a1a1a" stroke-width="0.24">OF THE BASKET</text>
<text x="57.8" y="752.3" font-size="6.6" text-anchor="start" font-weight="normal" fill="#1a1a1a" textLength="20" lengthAdjust="spacingAndGlyphs"  stroke="#1a1a1a" stroke-width="0.24">NOTE:</text>
<line x1="57.8" y1="753.4" x2="77.8" y2="753.4" stroke="#555" stroke-width="0.69" />
<text x="57.8" y="760.1" font-size="6.6" text-anchor="start" font-weight="normal" fill="#1a1a1a" textLength="199.2" lengthAdjust="spacingAndGlyphs"  stroke="#1a1a1a" stroke-width="0.24">THIS DRAWING CONTAINS INFORMATION PROPRIETARY TO</text>
<text x="57.8" y="767.78" font-size="6.6" text-anchor="start" font-weight="normal" fill="#1a1a1a" textLength="217.4" lengthAdjust="spacingAndGlyphs"  stroke="#1a1a1a" stroke-width="0.24">FLUID FILTRATION MANUFACTURING CORP.  THIS DRAWING MAY</text>
<text x="57.8" y="775.46" font-size="6.6" text-anchor="start" font-weight="normal" fill="#1a1a1a" textLength="174.7" lengthAdjust="spacingAndGlyphs"  stroke="#1a1a1a" stroke-width="0.24">NOT BE REPRODUCED WITHOUT THE EXPRESS WRITTEN</text>
<text x="57.8" y="783.14" font-size="6.6" text-anchor="start" font-weight="normal" fill="#1a1a1a" textLength="201.9" lengthAdjust="spacingAndGlyphs"  stroke="#1a1a1a" stroke-width="0.24">PERMISSION OF FLUID FILTRATION MANUFACTURING CORP.</text>
<path d="M281.8,794.8 L281.8,694 Q281.8,688.6 287.2,688.6 L551.2,688.6" stroke="#1a1a1a" stroke-width="1.15" fill="none" />
<line x1="281.8" y1="700.3" x2="551.2" y2="700.3" stroke="#1a1a1a" stroke-width="1.03" />
<line x1="337.1" y1="688.6" x2="337.1" y2="700.3" stroke="#1a1a1a" stroke-width="0.92" />
<line x1="411.5" y1="688.6" x2="411.5" y2="700.3" stroke="#1a1a1a" stroke-width="0.92" />
<line x1="453.9" y1="688.6" x2="453.9" y2="700.3" stroke="#1a1a1a" stroke-width="0.92" />
<line x1="502.8" y1="688.6" x2="502.8" y2="700.3" stroke="#1a1a1a" stroke-width="0.92" />
<line x1="293.5" y1="700.3" x2="293.5" y2="794.8" stroke="#1a1a1a" stroke-width="1.03" />
<line x1="293.5" y1="709.9" x2="551.2" y2="709.9" stroke="#1a1a1a" stroke-width="1.03" />
<line x1="281.8" y1="718.8" x2="551.2" y2="718.8" stroke="#1a1a1a" stroke-width="1.03" />
<line x1="293.5" y1="737.5" x2="551.2" y2="737.5" stroke="#1a1a1a" stroke-width="1.03" />
<line x1="293.5" y1="764.8" x2="551.2" y2="764.8" stroke="#1a1a1a" stroke-width="1.03" />
<line x1="293.5" y1="774.6" x2="397.4" y2="774.6" stroke="#1a1a1a" stroke-width="0.92" />
<line x1="293.5" y1="784.9" x2="397.4" y2="784.9" stroke="#1a1a1a" stroke-width="0.92" />
<line x1="345.3" y1="764.8" x2="345.3" y2="794.8" stroke="#1a1a1a" stroke-width="0.92" />
<line x1="397.4" y1="764.8" x2="397.4" y2="794.8" stroke="#1a1a1a" stroke-width="1.03" />
<line x1="397.4" y1="776.8" x2="551.2" y2="776.8" stroke="#1a1a1a" stroke-width="1.03" />
<line x1="447.8" y1="764.8" x2="447.8" y2="776.8" stroke="#1a1a1a" stroke-width="0.92" />
<line x1="535.3" y1="776.8" x2="535.3" y2="794.8" stroke="#1a1a1a" stroke-width="0.92" />
<text x="286" y="696.2" font-size="3.9" text-anchor="start" font-weight="normal" fill="#555" textLength="27.5" lengthAdjust="spacingAndGlyphs"  stroke="#555" stroke-width="0.1">REVISION NO.</text>
<text x="340" y="696.2" font-size="3.9" text-anchor="start" font-weight="normal" fill="#555" textLength="15.5" lengthAdjust="spacingAndGlyphs"  stroke="#555" stroke-width="0.1">ECN NO.</text>
<text x="413" y="696" font-size="3.6" text-anchor="start" font-weight="normal" fill="#555"  stroke="#555" stroke-width="0.1">BY:</text>
<text x="455.2" y="696" font-size="3.6" text-anchor="start" font-weight="normal" fill="#555"  stroke="#555" stroke-width="0.1">DATE:</text>
<text x="504" y="696" font-size="3.6" text-anchor="start" font-weight="normal" fill="#555"  stroke="#555" stroke-width="0.1">APPD:</text>
<text font-size="3.6" fill="#555" transform="translate(287.2,713.2) rotate(-90)" style="font-family:'Liberation Sans',sans-serif">REV</text>
<text font-size="3.6" fill="#555" transform="translate(291.6,715.8) rotate(-90)" style="font-family:'Liberation Sans',sans-serif">DESC</text>
<text font-size="4.2" fill="#555" textLength="43" lengthAdjust="spacingAndGlyphs" transform="translate(289.6,793.6) rotate(-90)" style="font-family:'Liberation Sans',sans-serif">DISTRIBUTION CODE:</text>
<text x="307.6" y="732" font-size="10.6" text-anchor="start" font-weight="bold" fill="#1a1a1a" textLength="236.2" lengthAdjust="spacingAndGlyphs"  stroke="#1a1a1a" stroke-width="0.24">FLUID FILTRATION MANUFACTURING CORP.</text>
<text x="425.2" y="750.1" font-size="9.6" text-anchor="middle" font-weight="bold" fill="#1a1a1a" textLength="68.8" lengthAdjust="spacingAndGlyphs"  stroke="#1a1a1a" stroke-width="0.24">BASKET WITH</text>
<text x="425.4" y="760.4" font-size="9.6" text-anchor="middle" font-weight="bold" fill="#1a1a1a" textLength="58.7" lengthAdjust="spacingAndGlyphs"  stroke="#1a1a1a" stroke-width="0.24">WIRE CAGE</text>
<text x="294.9" y="769.2" font-size="3.6" text-anchor="start" font-weight="normal" fill="#555"  stroke="#555" stroke-width="0.1">DESIGNED</text>
<text x="300.5" y="773.2" font-size="3.6" text-anchor="start" font-weight="normal" fill="#555"  stroke="#555" stroke-width="0.1">BY</text>
<text x="346.3" y="769.2" font-size="3.6" text-anchor="start" font-weight="normal" fill="#555"  stroke="#555" stroke-width="0.1">PRODUCT</text>
<text x="351.2" y="773.2" font-size="3.6" text-anchor="start" font-weight="normal" fill="#555"  stroke="#555" stroke-width="0.1">LINE</text>
<text x="294.9" y="778.4" font-size="3.6" text-anchor="start" font-weight="normal" fill="#555"  stroke="#555" stroke-width="0.1">DWN</text>
<text x="294.9" y="783.4" font-size="3.6" text-anchor="start" font-weight="normal" fill="#555"  stroke="#555" stroke-width="0.1">BY</text>
<text x="305.1" y="783.6" font-size="5.2" text-anchor="start" font-weight="normal" fill="#1a1a1a" textLength="39.3" lengthAdjust="spacingAndGlyphs"  stroke="#1a1a1a" stroke-width="0.1">KYLE GOLTSCH</text>
<text x="294.9" y="788.6" font-size="3.6" text-anchor="start" font-weight="normal" fill="#555"  stroke="#555" stroke-width="0.1">APPD</text>
<text x="294.9" y="793.2" font-size="3.6" text-anchor="start" font-weight="normal" fill="#555"  stroke="#555" stroke-width="0.1">ENG</text>
<text x="347.7" y="781.4" font-size="3.6" text-anchor="start" font-weight="normal" fill="#555"  stroke="#555" stroke-width="0.1">DATE</text>
<text x="364.4" y="782.9" font-size="8.2" text-anchor="start" font-weight="normal" fill="#1a1a1a" textLength="26.2" lengthAdjust="spacingAndGlyphs"  stroke="#1a1a1a" stroke-width="0.24">101713</text>
<text x="347.7" y="788.6" font-size="3.6" text-anchor="start" font-weight="normal" fill="#555"  stroke="#555" stroke-width="0.1">PLOT</text>
<text x="347.7" y="793.2" font-size="3.6" text-anchor="start" font-weight="normal" fill="#555"  stroke="#555" stroke-width="0.1">SIZE</text>
<text x="367.3" y="792.6" font-size="8.2" text-anchor="start" font-weight="normal" fill="#1a1a1a" textLength="15.5" lengthAdjust="spacingAndGlyphs"  stroke="#1a1a1a" stroke-width="0.24">12.5</text>
<text x="455.2" y="772.7" font-size="8.8" text-anchor="start" font-weight="normal" fill="#1a1a1a" textLength="26.4" lengthAdjust="spacingAndGlyphs"  stroke="#1a1a1a" stroke-width="0.24">SHEET</text>
<text x="490.4" y="772.7" font-size="8.8" text-anchor="start" font-weight="normal" fill="#1a1a1a"  stroke="#1a1a1a" stroke-width="0.24">1</text>
<text x="504.2" y="772.7" font-size="8.8" text-anchor="start" font-weight="normal" fill="#1a1a1a" textLength="11" lengthAdjust="spacingAndGlyphs"  stroke="#1a1a1a" stroke-width="0.24">OF</text>
<text x="524.8" y="772.7" font-size="8.8" text-anchor="start" font-weight="normal" fill="#1a1a1a"  stroke="#1a1a1a" stroke-width="0.24">1</text>
<text x="399" y="781.5" font-size="3.6" text-anchor="start" font-weight="normal" fill="#555"  stroke="#555" stroke-width="0.1">DWG NO.</text>
<text x="537.2" y="781.5" font-size="3.6" text-anchor="start" font-weight="normal" fill="#555"  stroke="#555" stroke-width="0.1">REV.</text>
<text x="466.5" y="792" font-size="10.4" text-anchor="middle" font-weight="bold" fill="#1a1a1a" textLength="33" lengthAdjust="spacingAndGlyphs"  stroke="#1a1a1a" stroke-width="0.24">101713</text>
</svg></body></html>
